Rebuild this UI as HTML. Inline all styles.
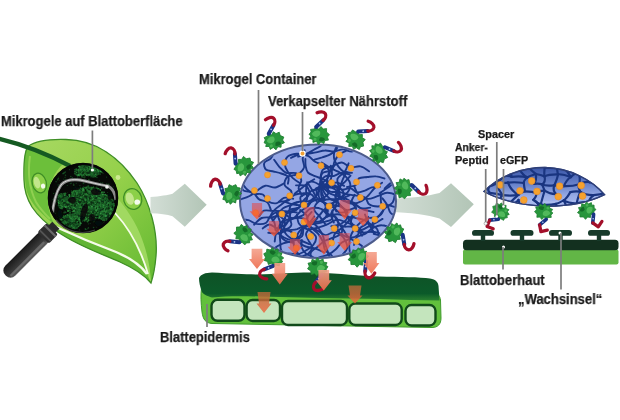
<!DOCTYPE html>
<html><head><meta charset="utf-8"><style>
html,body{margin:0;padding:0;background:#fff;width:620px;height:420px;overflow:hidden}
#c{position:relative;width:620px;height:420px;filter:blur(0.55px)}
svg{position:absolute;left:0;top:0}
.l{position:absolute;font-family:"Liberation Sans",sans-serif;font-weight:bold;color:#1a1a1a;white-space:nowrap;line-height:1;transform-origin:0 0;-webkit-text-stroke:0.25px #1a1a1a;will-change:transform}
</style></head><body><div id="c"><svg width="620" height="420" viewBox="0 0 620 420">
<defs>
 <linearGradient id="leafG" x1="0" y1="0" x2="1" y2="1">
  <stop offset="0" stop-color="#a8d862"/>
  <stop offset="0.5" stop-color="#94d04a"/>
  <stop offset="1" stop-color="#62b830"/>
 </linearGradient>
 <linearGradient id="leafD" x1="0" y1="0" x2="1" y2="1">
  <stop offset="0" stop-color="#86c840"/>
  <stop offset="1" stop-color="#4fa828"/>
 </linearGradient>
 <linearGradient id="arrG" x1="0" y1="0" x2="1" y2="0">
  <stop offset="0" stop-color="#d3ded6"/>
  <stop offset="1" stop-color="#b2c5b6"/>
 </linearGradient>
 <linearGradient id="handleG" x1="0" y1="0" x2="0" y2="1">
  <stop offset="0" stop-color="#606060"/>
  <stop offset="0.35" stop-color="#3a3a3a"/>
  <stop offset="1" stop-color="#1a1a1a"/>
 </linearGradient>
 <linearGradient id="redA" x1="0" y1="0" x2="0" y2="1">
  <stop offset="0" stop-color="#f4a08a"/>
  <stop offset="1" stop-color="#ee6a4a"/>
 </linearGradient>
 <linearGradient id="redB" x1="0" y1="0" x2="0" y2="1">
  <stop offset="0" stop-color="#e04a50" stop-opacity="0.7"/>
  <stop offset="1" stop-color="#ff5426" stop-opacity="1"/>
 </linearGradient>
 <linearGradient id="orgA" x1="0" y1="0" x2="0" y2="1">
  <stop offset="0" stop-color="#b86a3a"/>
  <stop offset="1" stop-color="#f0603a"/>
 </linearGradient>
 <linearGradient id="darkL" x1="0" y1="0" x2="0" y2="1">
  <stop offset="0" stop-color="#0f5226"/>
  <stop offset="0.75" stop-color="#0b5a2a"/>
  <stop offset="1" stop-color="#2a8030"/>
 </linearGradient>
 <radialGradient id="dropG" cx="0.4" cy="0.4" r="0.6">
  <stop offset="0" stop-color="#eaf7c0"/>
  <stop offset="0.6" stop-color="#9cd85a"/>
  <stop offset="1" stop-color="#5aa82a"/>
 </radialGradient>
 <filter id="soft" x="-10%" y="-10%" width="120%" height="120%"><feGaussianBlur stdDeviation="0.7"/></filter>
 <clipPath id="magClip"><circle cx="83" cy="198" r="33.5"/></clipPath>
 <linearGradient id="lensG" x1="0" y1="0" x2="0" y2="1">
  <stop offset="0" stop-color="#3a56a8"/>
  <stop offset="0.45" stop-color="#6a84cc"/>
  <stop offset="0.75" stop-color="#98ace6"/>
  <stop offset="1" stop-color="#a8b8ee"/>
 </linearGradient>
 <clipPath id="sphClip"><ellipse cx="318" cy="201.2" rx="77" ry="55.8"/></clipPath>
 <clipPath id="lensClip"><path d="M484,191.5 C500,175 523,167.5 545,167.5 C570,168 592,180 604.5,194.7 C590,202 570,206.5 545,206.2 C520,205.5 497,199 484,191.5 Z"/></clipPath>
</defs>
<path d="M24,180 C23.5,163 24,152 28,146.5 C36,140.5 50,139 66,139.5 C96,140 120,158 137,183 C150,203 158,232 156,256 C155,268 153,277 151,283 C146,277 138,270 120,262 C100,253 78,246 58,232 C48,225 38,216 32,207 C27,199 24.2,190 24,180 Z" fill="url(#leafG)"/><path d="M26,148.5 C38,151.5 52,157 64,163 C54,172 48,186 48,198 C48,208 50,216 54,224 C44,216 32,206 27,192 C24,180 24,162 26,150 Z" fill="#6cbf3a"/><path d="M30,156 C28,170 29,188 36,202 C40,209 45,214 50,219" stroke="#9ad458" stroke-width="2" fill="none" opacity="0.8"/><path d="M54,226 C78,238 100,246 116,252 C128,257 140,264 151,283 C146,277 138,270 120,262 C100,253 78,246 58,232 Z" fill="#62b534"/><path d="M114,213 C128,228 140,250 148,276 L151,283 C150,258 142,232 128,212 C124,206 119,200 116,196 Z" fill="#a6dc66" opacity="0.85"/><path d="M115,213 C129,228 141,250 148,274" stroke="#f6fcea" stroke-width="1.8" fill="none"/><path d="M56,227 C80,238 100,246 116,252 C128,257 139,263 147,274" stroke="#f6fcea" stroke-width="2.4" fill="none"/><path d="M24,180 C23.5,163 24,152 28,146.5 C36,140.5 50,139 66,139.5 C96,140 120,158 137,183 C150,203 158,232 156,256 C155,268 153,277 151,283 C146,277 138,270 120,262 C100,253 78,246 58,232 C48,225 38,216 32,207 C27,199 24.2,190 24,180 Z" fill="none" stroke="#3f8f26" stroke-width="1.3"/><path d="M-2,138.5 C15,142.5 42,151 70,166" stroke="#155a22" stroke-width="4.4" fill="none"/><g transform="rotate(-15 39.3 183)"><ellipse cx="39.3" cy="183" rx="7" ry="10" fill="#8cd048" stroke="#3f8e26" stroke-width="1.3"/><ellipse cx="37.2" cy="182" rx="3.1" ry="6" fill="#d8f0a8" opacity="0.7"/><ellipse cx="42.1" cy="187" rx="2.2" ry="2.5" fill="#ffffff" opacity="0.9"/></g><g transform="rotate(-15 132.7 199)"><ellipse cx="132.7" cy="199" rx="9" ry="10.5" fill="#8cd048" stroke="#3f8e26" stroke-width="1.3"/><ellipse cx="130" cy="197.9" rx="4" ry="6.3" fill="#d8f0a8" opacity="0.7"/><ellipse cx="136.3" cy="203.2" rx="2.9" ry="2.6" fill="#ffffff" opacity="0.9"/></g><circle cx="118" cy="177.5" r="2.4" fill="#d9f0a0" opacity="0.8"/><g transform="translate(53,228) rotate(135)"><rect x="-4" y="-5" width="8" height="10" fill="#2a2a2a"/><rect x="9" y="-7" width="58" height="14" rx="6.5" fill="url(#handleG)"/><rect x="1" y="-8" width="13" height="16" rx="2" fill="#2e2e2e"/><rect x="3" y="-8" width="2.2" height="16" fill="#6a6a6a"/><rect x="10" y="-8" width="1.8" height="16" fill="#555"/><rect x="16" y="-5" width="48" height="2.4" rx="1" fill="#8a8a8a" opacity="0.5"/></g><circle cx="83" cy="198" r="35" fill="#070907"/><g clip-path="url(#magClip)"><g filter="url(#soft)"><ellipse cx="88" cy="171" rx="10.4" ry="4.800000000000001" transform="rotate(-5 88 171)" fill="#0d3014"/><ellipse cx="88" cy="204" rx="16.0" ry="12.8" transform="rotate(0 88 204)" fill="#0d3014"/><ellipse cx="70" cy="222" rx="8.0" ry="5.6000000000000005" transform="rotate(20 70 222)" fill="#0d3014"/><ellipse cx="106" cy="208" rx="6.4" ry="9.600000000000001" transform="rotate(0 106 208)" fill="#0d3014"/><ellipse cx="63" cy="201" rx="4.0" ry="6.4" transform="rotate(0 63 201)" fill="#0d3014"/><circle cx="94" cy="175.7" r="0.7" fill="#1a5c26"/><circle cx="95.9" cy="165.5" r="1.1" fill="#145422"/><circle cx="77.9" cy="170.6" r="1.1" fill="#1d6a2a"/><circle cx="101.8" cy="171.6" r="0.5" fill="#145422"/><circle cx="89.9" cy="167.9" r="1" fill="#1d6a2a"/><circle cx="74.8" cy="173.5" r="0.9" fill="#145422"/><circle cx="96" cy="171.8" r="1" fill="#145422"/><circle cx="79.8" cy="165.9" r="0.6" fill="#277c32"/><circle cx="90.1" cy="168.9" r="0.8" fill="#277c32"/><circle cx="80.1" cy="169.8" r="0.6" fill="#145422"/><circle cx="83" cy="167.1" r="0.6" fill="#1d6a2a"/><circle cx="91.8" cy="176.1" r="1" fill="#1a5c26"/><circle cx="88.9" cy="166" r="0.5" fill="#1a5c26"/><circle cx="78.1" cy="169.2" r="0.6" fill="#145422"/><circle cx="99.9" cy="168.1" r="0.7" fill="#145422"/><circle cx="97.7" cy="169.7" r="1.2" fill="#309040"/><circle cx="86.2" cy="171.7" r="0.6" fill="#277c32"/><circle cx="85" cy="164.6" r="0.8" fill="#277c32"/><circle cx="76.2" cy="169.2" r="0.9" fill="#1d6a2a"/><circle cx="82.1" cy="176.9" r="0.6" fill="#277c32"/><circle cx="92.1" cy="174.4" r="0.7" fill="#309040"/><circle cx="81.5" cy="168.9" r="0.6" fill="#277c32"/><circle cx="93.3" cy="169.7" r="0.8" fill="#145422"/><circle cx="83.2" cy="166" r="1.2" fill="#1a5c26"/><circle cx="76.1" cy="174.6" r="0.9" fill="#1a5c26"/><circle cx="95.4" cy="167.9" r="1" fill="#145422"/><circle cx="94.5" cy="169.7" r="0.5" fill="#0a2a12"/><circle cx="92.3" cy="165.5" r="0.5" fill="#145422"/><circle cx="84.9" cy="176.9" r="0.7" fill="#1a5c26"/><circle cx="82.8" cy="172.3" r="1.1" fill="#277c32"/><circle cx="84.7" cy="169" r="1" fill="#1d6a2a"/><circle cx="80.9" cy="171.4" r="0.9" fill="#1a5c26"/><circle cx="87.7" cy="169.9" r="1.1" fill="#1d6a2a"/><circle cx="84.3" cy="172.9" r="0.9" fill="#309040"/><circle cx="78.3" cy="173.3" r="0.7" fill="#145422"/><circle cx="80.7" cy="170.3" r="0.5" fill="#1a5c26"/><circle cx="82.5" cy="165.1" r="0.7" fill="#277c32"/><circle cx="84.7" cy="173.9" r="0.8" fill="#0a2a12"/><circle cx="82.9" cy="165.8" r="0.6" fill="#1d6a2a"/><circle cx="91.6" cy="172.1" r="0.9" fill="#277c32"/><circle cx="88.9" cy="169.3" r="1" fill="#277c32"/><circle cx="95.3" cy="174.5" r="0.8" fill="#309040"/><circle cx="96.6" cy="167.6" r="0.6" fill="#1d6a2a"/><circle cx="79.3" cy="174.9" r="1" fill="#0a2a12"/><circle cx="79.9" cy="168.2" r="1" fill="#1a5c26"/><circle cx="88.3" cy="170.4" r="1.1" fill="#145422"/><circle cx="79.4" cy="174" r="0.7" fill="#1a5c26"/><circle cx="98.8" cy="169.8" r="0.5" fill="#1a5c26"/><circle cx="81.9" cy="173.4" r="1.1" fill="#309040"/><circle cx="91.3" cy="166.6" r="0.6" fill="#0a2a12"/><circle cx="79.8" cy="168.2" r="0.7" fill="#1a5c26"/><circle cx="80.3" cy="170.6" r="0.9" fill="#0a2a12"/><circle cx="84.6" cy="170.4" r="1.2" fill="#309040"/><circle cx="83" cy="173.9" r="0.6" fill="#145422"/><circle cx="91.4" cy="171.8" r="0.9" fill="#145422"/><circle cx="99.1" cy="169.2" r="0.8" fill="#1a5c26"/><circle cx="79.1" cy="170.5" r="0.5" fill="#145422"/><circle cx="99.5" cy="171.8" r="0.7" fill="#277c32"/><circle cx="84.3" cy="165.3" r="0.8" fill="#1a5c26"/><circle cx="90.7" cy="167" r="0.8" fill="#309040"/><circle cx="78.5" cy="166.2" r="0.5" fill="#277c32"/><circle cx="92.1" cy="174.6" r="1.1" fill="#0a2a12"/><circle cx="90.1" cy="165.9" r="1" fill="#0a2a12"/><circle cx="95.6" cy="166.7" r="0.7" fill="#1a5c26"/><circle cx="78" cy="171.5" r="0.9" fill="#309040"/><circle cx="94.4" cy="165.2" r="0.6" fill="#277c32"/><circle cx="92" cy="176.9" r="0.6" fill="#1a5c26"/><circle cx="84.2" cy="170.4" r="0.9" fill="#309040"/><circle cx="79.3" cy="175" r="1.2" fill="#277c32"/><circle cx="92.7" cy="174.8" r="0.7" fill="#1a5c26"/><circle cx="80.6" cy="166.8" r="0.6" fill="#309040"/><circle cx="98.1" cy="171.8" r="1.1" fill="#1d6a2a"/><circle cx="81" cy="170.9" r="0.7" fill="#1a5c26"/><circle cx="77.9" cy="175.4" r="0.8" fill="#145422"/><circle cx="76.7" cy="172.3" r="0.6" fill="#1a5c26"/><circle cx="82.4" cy="173.3" r="1.2" fill="#1d6a2a"/><circle cx="89.8" cy="174.8" r="1.2" fill="#1a5c26"/><circle cx="87.4" cy="170.1" r="0.9" fill="#0a2a12"/><circle cx="80.4" cy="173.6" r="0.7" fill="#145422"/><circle cx="98.5" cy="171.2" r="1.2" fill="#277c32"/><circle cx="91.2" cy="174.7" r="0.8" fill="#277c32"/><circle cx="96.4" cy="175.4" r="0.9" fill="#145422"/><circle cx="93.9" cy="171.9" r="1.1" fill="#145422"/><circle cx="88.4" cy="176" r="1.1" fill="#0a2a12"/><circle cx="89.4" cy="170.4" r="0.6" fill="#0a2a12"/><circle cx="76" cy="173.4" r="0.6" fill="#1a5c26"/><circle cx="100" cy="173.2" r="0.9" fill="#0a2a12"/><circle cx="76.2" cy="171.3" r="0.7" fill="#1a5c26"/><circle cx="86.9" cy="174.9" r="0.9" fill="#309040"/><circle cx="100.8" cy="171.3" r="0.5" fill="#1a5c26"/><circle cx="76.3" cy="170.6" r="0.8" fill="#1d6a2a"/><circle cx="84.5" cy="173.1" r="0.8" fill="#0a2a12"/><circle cx="83.1" cy="166.2" r="0.5" fill="#1d6a2a"/><circle cx="88.9" cy="174.9" r="0.8" fill="#309040"/><circle cx="83.6" cy="165.8" r="0.8" fill="#0a2a12"/><circle cx="85" cy="173.8" r="0.5" fill="#0a2a12"/><circle cx="81.7" cy="174.9" r="0.9" fill="#1a5c26"/><circle cx="96.6" cy="171.5" r="0.6" fill="#145422"/><circle cx="95.6" cy="166.2" r="1" fill="#309040"/><circle cx="90.6" cy="176.7" r="0.9" fill="#0a2a12"/><circle cx="99.8" cy="167.5" r="0.6" fill="#145422"/><circle cx="76.4" cy="172.2" r="0.5" fill="#309040"/><circle cx="81.3" cy="175.1" r="0.5" fill="#0a2a12"/><circle cx="79.2" cy="175" r="1.2" fill="#1d6a2a"/><circle cx="74.9" cy="169.6" r="0.7" fill="#1d6a2a"/><circle cx="80.4" cy="170.7" r="1" fill="#145422"/><circle cx="94.4" cy="168.3" r="0.7" fill="#277c32"/><circle cx="81.1" cy="168.7" r="1.1" fill="#1a5c26"/><circle cx="84.6" cy="172.8" r="1.1" fill="#277c32"/><circle cx="99.9" cy="169.4" r="1" fill="#1a5c26"/><circle cx="87.7" cy="168" r="0.9" fill="#0a2a12"/><circle cx="96.1" cy="168.1" r="0.6" fill="#277c32"/><circle cx="82.1" cy="166.6" r="1" fill="#145422"/><circle cx="88.1" cy="165.7" r="0.6" fill="#309040"/><circle cx="91.1" cy="168.2" r="0.7" fill="#145422"/><circle cx="78.6" cy="169.9" r="1.1" fill="#277c32"/><circle cx="83.1" cy="174.8" r="1" fill="#309040"/><circle cx="86.3" cy="164.5" r="0.6" fill="#145422"/><circle cx="100.3" cy="172.2" r="0.7" fill="#0a2a12"/><circle cx="92.8" cy="167.1" r="0.7" fill="#145422"/><circle cx="86.7" cy="165.1" r="1" fill="#145422"/><circle cx="101.5" cy="172.1" r="0.8" fill="#1d6a2a"/><circle cx="79.3" cy="172" r="0.8" fill="#1a5c26"/><circle cx="87.3" cy="169.3" r="1" fill="#309040"/><circle cx="82.9" cy="173.3" r="1.1" fill="#145422"/><circle cx="93.7" cy="169.7" r="1.1" fill="#309040"/><circle cx="95" cy="172.7" r="0.6" fill="#1a5c26"/><circle cx="88.1" cy="164.6" r="1" fill="#277c32"/><circle cx="86.1" cy="174" r="0.6" fill="#1d6a2a"/><circle cx="89.3" cy="166.4" r="1" fill="#277c32"/><circle cx="82.1" cy="175.6" r="0.5" fill="#309040"/><circle cx="92.2" cy="168.1" r="1" fill="#309040"/><circle cx="83.7" cy="172.2" r="1" fill="#0a2a12"/><circle cx="100.1" cy="171.7" r="1" fill="#0a2a12"/><circle cx="77.5" cy="171.4" r="0.8" fill="#0a2a12"/><circle cx="80.5" cy="167" r="0.6" fill="#309040"/><circle cx="80.2" cy="173.5" r="0.8" fill="#1a5c26"/><circle cx="81.3" cy="170.7" r="0.5" fill="#1d6a2a"/><circle cx="82" cy="167.5" r="1" fill="#1d6a2a"/><circle cx="98.1" cy="167.7" r="0.8" fill="#309040"/><circle cx="94.5" cy="176.1" r="1" fill="#309040"/><circle cx="83.7" cy="177.2" r="0.6" fill="#145422"/><circle cx="94.5" cy="175.3" r="0.7" fill="#1d6a2a"/><circle cx="96" cy="174.1" r="0.9" fill="#277c32"/><circle cx="91.6" cy="172.6" r="1" fill="#1a5c26"/><circle cx="84" cy="170.5" r="0.7" fill="#1d6a2a"/><circle cx="81.6" cy="169.6" r="0.9" fill="#145422"/><circle cx="92.3" cy="166.7" r="1.1" fill="#1a5c26"/><circle cx="76.7" cy="174.8" r="0.8" fill="#1a5c26"/><circle cx="88.6" cy="169.8" r="0.5" fill="#145422"/><circle cx="77.4" cy="174.4" r="0.6" fill="#145422"/><circle cx="91.6" cy="170.2" r="1" fill="#309040"/><circle cx="86" cy="166.3" r="0.7" fill="#1d6a2a"/><circle cx="81.1" cy="174.3" r="0.8" fill="#309040"/><circle cx="89" cy="169.6" r="0.9" fill="#309040"/><circle cx="75.1" cy="171.5" r="1" fill="#1d6a2a"/><circle cx="92.7" cy="174" r="0.7" fill="#277c32"/><circle cx="82" cy="165.4" r="0.8" fill="#277c32"/><circle cx="94.2" cy="167.8" r="0.6" fill="#1a5c26"/><circle cx="94.6" cy="170.5" r="1" fill="#309040"/><circle cx="98.8" cy="172.5" r="0.7" fill="#0a2a12"/><circle cx="93.3" cy="176.8" r="0.9" fill="#145422"/><circle cx="91.5" cy="173.6" r="1.1" fill="#1d6a2a"/><circle cx="81.9" cy="175.6" r="1.1" fill="#1d6a2a"/><circle cx="95" cy="170.3" r="0.9" fill="#309040"/><circle cx="82.6" cy="173.5" r="1.1" fill="#0a2a12"/><circle cx="91.6" cy="174.6" r="0.7" fill="#1d6a2a"/><circle cx="98.2" cy="167.2" r="0.7" fill="#1d6a2a"/><circle cx="88" cy="165.5" r="1.2" fill="#1a5c26"/><circle cx="93.1" cy="168.7" r="0.7" fill="#309040"/><circle cx="77.7" cy="175.5" r="1" fill="#1d6a2a"/><circle cx="98.7" cy="171.9" r="0.6" fill="#309040"/><circle cx="100.5" cy="170.4" r="1.1" fill="#1d6a2a"/><circle cx="97.4" cy="166.5" r="1.2" fill="#145422"/><circle cx="76" cy="171" r="0.6" fill="#0a2a12"/><circle cx="94.8" cy="176.4" r="1" fill="#145422"/><circle cx="86.6" cy="173.3" r="0.5" fill="#145422"/><circle cx="85.1" cy="165.4" r="0.8" fill="#1d6a2a"/><circle cx="88.3" cy="169.6" r="0.7" fill="#1a5c26"/><circle cx="92.9" cy="175.5" r="0.8" fill="#1a5c26"/><circle cx="85.8" cy="166.9" r="1.2" fill="#145422"/><circle cx="80.9" cy="169.8" r="1" fill="#277c32"/><circle cx="95.2" cy="165.4" r="0.8" fill="#309040"/><circle cx="99.2" cy="167.6" r="1.1" fill="#309040"/><circle cx="93.6" cy="173.9" r="0.7" fill="#1a5c26"/><circle cx="79.3" cy="166.6" r="1.1" fill="#309040"/><circle cx="95.4" cy="176.5" r="0.6" fill="#277c32"/><circle cx="84.3" cy="173.5" r="0.5" fill="#277c32"/><circle cx="96" cy="171.7" r="0.9" fill="#1a5c26"/><circle cx="95.7" cy="166.1" r="1" fill="#0a2a12"/><circle cx="83" cy="169.2" r="1.2" fill="#1d6a2a"/><circle cx="85.4" cy="174.1" r="1" fill="#1d6a2a"/><circle cx="78.5" cy="174.9" r="1" fill="#309040"/><circle cx="87.1" cy="167.8" r="0.7" fill="#309040"/><circle cx="93.4" cy="165.8" r="1.2" fill="#1d6a2a"/><circle cx="100.1" cy="174.3" r="0.8" fill="#145422"/><circle cx="83.5" cy="165.5" r="1" fill="#1d6a2a"/><circle cx="85" cy="171.6" r="1.1" fill="#145422"/><circle cx="98.4" cy="173.8" r="1.1" fill="#145422"/><circle cx="99.8" cy="168.6" r="0.9" fill="#277c32"/><circle cx="100.5" cy="171.3" r="0.9" fill="#309040"/><circle cx="87.9" cy="170.7" r="1.1" fill="#277c32"/><circle cx="109.5" cy="202.5" r="0.9" fill="#277c32"/><circle cx="76.8" cy="214.4" r="1.1" fill="#145422"/><circle cx="76.7" cy="204.7" r="0.7" fill="#0a2a12"/><circle cx="88.9" cy="195.7" r="1.1" fill="#277c32"/><circle cx="101.2" cy="217.1" r="0.7" fill="#1a5c26"/><circle cx="87" cy="214.4" r="1" fill="#0a2a12"/><circle cx="77.4" cy="213.3" r="0.9" fill="#277c32"/><circle cx="99.4" cy="196.3" r="0.7" fill="#145422"/><circle cx="97.3" cy="191.8" r="0.7" fill="#145422"/><circle cx="93.6" cy="216.5" r="0.9" fill="#309040"/><circle cx="87.5" cy="191.1" r="0.9" fill="#1d6a2a"/><circle cx="98.2" cy="200" r="0.6" fill="#1a5c26"/><circle cx="67.2" cy="199.6" r="0.6" fill="#1d6a2a"/><circle cx="86.1" cy="195.1" r="0.8" fill="#145422"/><circle cx="77.3" cy="202.1" r="0.6" fill="#309040"/><circle cx="72.4" cy="194.3" r="1.1" fill="#277c32"/><circle cx="82.9" cy="202.3" r="0.6" fill="#0a2a12"/><circle cx="107.3" cy="205.1" r="1.2" fill="#0a2a12"/><circle cx="90.1" cy="195.6" r="1" fill="#145422"/><circle cx="108.2" cy="203.6" r="0.7" fill="#145422"/><circle cx="82.9" cy="193.2" r="1" fill="#277c32"/><circle cx="101.9" cy="201.8" r="1" fill="#1a5c26"/><circle cx="86.7" cy="218.9" r="1.1" fill="#1a5c26"/><circle cx="71.2" cy="204.7" r="0.5" fill="#1d6a2a"/><circle cx="79.3" cy="212.2" r="0.9" fill="#309040"/><circle cx="76.7" cy="203.2" r="1.2" fill="#1d6a2a"/><circle cx="88.9" cy="211.5" r="1" fill="#309040"/><circle cx="95.6" cy="200" r="0.6" fill="#0a2a12"/><circle cx="72.6" cy="195.6" r="0.9" fill="#1a5c26"/><circle cx="92.9" cy="204.8" r="0.8" fill="#1a5c26"/><circle cx="98.8" cy="193.5" r="1.2" fill="#1d6a2a"/><circle cx="79.3" cy="210.8" r="1.2" fill="#277c32"/><circle cx="100.9" cy="217.5" r="1" fill="#145422"/><circle cx="74.8" cy="207.6" r="0.7" fill="#145422"/><circle cx="83.3" cy="197" r="1.1" fill="#0a2a12"/><circle cx="105.7" cy="214.2" r="0.6" fill="#277c32"/><circle cx="75" cy="213.7" r="0.8" fill="#0a2a12"/><circle cx="86.6" cy="194.9" r="1.1" fill="#1a5c26"/><circle cx="106.2" cy="209.1" r="0.9" fill="#0a2a12"/><circle cx="97.5" cy="214.1" r="0.7" fill="#277c32"/><circle cx="99.2" cy="210.6" r="0.8" fill="#1a5c26"/><circle cx="76.4" cy="205.2" r="1.1" fill="#0a2a12"/><circle cx="73" cy="211.5" r="1" fill="#277c32"/><circle cx="87" cy="190.7" r="0.8" fill="#1d6a2a"/><circle cx="85.3" cy="219.5" r="0.7" fill="#145422"/><circle cx="105.5" cy="198.4" r="0.8" fill="#145422"/><circle cx="76.3" cy="218.3" r="0.7" fill="#1d6a2a"/><circle cx="94.4" cy="196.1" r="1" fill="#309040"/><circle cx="105.2" cy="206.3" r="0.5" fill="#309040"/><circle cx="99.5" cy="212.4" r="0.8" fill="#1a5c26"/><circle cx="93.4" cy="187.2" r="0.8" fill="#309040"/><circle cx="82" cy="203.2" r="0.6" fill="#1d6a2a"/><circle cx="88" cy="199.1" r="0.9" fill="#309040"/><circle cx="66.8" cy="200.8" r="0.8" fill="#0a2a12"/><circle cx="100.4" cy="211.8" r="0.6" fill="#1d6a2a"/><circle cx="72.2" cy="192.4" r="1.2" fill="#1a5c26"/><circle cx="73.8" cy="204.5" r="0.7" fill="#1d6a2a"/><circle cx="89.2" cy="201.8" r="1" fill="#1a5c26"/><circle cx="104.1" cy="208.3" r="1" fill="#0a2a12"/><circle cx="90.4" cy="209.5" r="0.7" fill="#145422"/><circle cx="102" cy="211.4" r="1.1" fill="#309040"/><circle cx="88.3" cy="200.7" r="1.1" fill="#1d6a2a"/><circle cx="92.2" cy="193.1" r="0.8" fill="#277c32"/><circle cx="70.4" cy="206" r="0.5" fill="#277c32"/><circle cx="91.1" cy="202" r="0.9" fill="#145422"/><circle cx="77.5" cy="198.7" r="0.8" fill="#1a5c26"/><circle cx="88.2" cy="199" r="1.1" fill="#309040"/><circle cx="83.6" cy="195.7" r="0.7" fill="#309040"/><circle cx="86.5" cy="197.7" r="1.1" fill="#0a2a12"/><circle cx="69.8" cy="197.3" r="1.1" fill="#0a2a12"/><circle cx="75.8" cy="212.2" r="1.2" fill="#277c32"/><circle cx="86.9" cy="218.6" r="1.1" fill="#277c32"/><circle cx="79.3" cy="213.9" r="0.5" fill="#309040"/><circle cx="106.6" cy="201.1" r="0.7" fill="#309040"/><circle cx="82.8" cy="196.9" r="1.1" fill="#1d6a2a"/><circle cx="83.4" cy="190.5" r="1.2" fill="#145422"/><circle cx="96.2" cy="215" r="1.2" fill="#145422"/><circle cx="93.5" cy="202.3" r="0.7" fill="#1d6a2a"/><circle cx="105.1" cy="207.5" r="0.9" fill="#1a5c26"/><circle cx="70.6" cy="205.9" r="0.6" fill="#1d6a2a"/><circle cx="77.8" cy="213.1" r="1.1" fill="#277c32"/><circle cx="96.9" cy="211.6" r="1" fill="#145422"/><circle cx="85.5" cy="214.4" r="0.6" fill="#309040"/><circle cx="92" cy="197.2" r="1.1" fill="#309040"/><circle cx="107.1" cy="207.2" r="0.9" fill="#1d6a2a"/><circle cx="77" cy="193.9" r="0.7" fill="#145422"/><circle cx="77.6" cy="198.1" r="0.5" fill="#0a2a12"/><circle cx="74.9" cy="195.8" r="0.6" fill="#145422"/><circle cx="81.1" cy="193.5" r="0.6" fill="#0a2a12"/><circle cx="102.2" cy="201.5" r="1" fill="#1a5c26"/><circle cx="100.3" cy="217.2" r="0.9" fill="#0a2a12"/><circle cx="83.9" cy="209.1" r="1.2" fill="#0a2a12"/><circle cx="77.9" cy="208" r="0.7" fill="#277c32"/><circle cx="98.9" cy="205" r="1.1" fill="#145422"/><circle cx="92.9" cy="213.3" r="1" fill="#145422"/><circle cx="82.8" cy="210.1" r="1.1" fill="#1a5c26"/><circle cx="75.5" cy="216.4" r="1.1" fill="#1d6a2a"/><circle cx="66.3" cy="202.7" r="1" fill="#1d6a2a"/><circle cx="70.9" cy="204.8" r="0.6" fill="#145422"/><circle cx="82.8" cy="209.4" r="1" fill="#145422"/><circle cx="98.3" cy="193.9" r="0.8" fill="#145422"/><circle cx="84.1" cy="211.2" r="0.9" fill="#309040"/><circle cx="94.6" cy="192.5" r="0.8" fill="#309040"/><circle cx="79.3" cy="189.9" r="0.9" fill="#0a2a12"/><circle cx="96.9" cy="217.6" r="0.7" fill="#145422"/><circle cx="102.4" cy="214.1" r="1" fill="#1d6a2a"/><circle cx="87.4" cy="200.9" r="1" fill="#1d6a2a"/><circle cx="93.2" cy="201.9" r="1" fill="#0a2a12"/><circle cx="93.4" cy="210.7" r="0.5" fill="#145422"/><circle cx="106.3" cy="211.9" r="0.8" fill="#145422"/><circle cx="102.9" cy="206.7" r="1.1" fill="#145422"/><circle cx="94.2" cy="218.7" r="1.2" fill="#277c32"/><circle cx="71.8" cy="198.3" r="0.6" fill="#309040"/><circle cx="94.3" cy="218.7" r="1" fill="#1a5c26"/><circle cx="98.3" cy="194.5" r="0.6" fill="#309040"/><circle cx="79.4" cy="212.7" r="0.9" fill="#1a5c26"/><circle cx="89.7" cy="191.1" r="0.7" fill="#145422"/><circle cx="78.9" cy="195" r="0.6" fill="#277c32"/><circle cx="102.1" cy="195.7" r="1.1" fill="#145422"/><circle cx="83.3" cy="218.4" r="0.7" fill="#0a2a12"/><circle cx="84.3" cy="191.5" r="0.9" fill="#277c32"/><circle cx="98.2" cy="205.9" r="1" fill="#309040"/><circle cx="102.5" cy="192.6" r="0.5" fill="#309040"/><circle cx="100.8" cy="203.3" r="0.5" fill="#145422"/><circle cx="102.5" cy="195" r="1.1" fill="#1d6a2a"/><circle cx="79.6" cy="213.6" r="0.6" fill="#277c32"/><circle cx="95.7" cy="206.5" r="0.6" fill="#1d6a2a"/><circle cx="102.7" cy="197.1" r="0.9" fill="#145422"/><circle cx="87" cy="217.2" r="0.6" fill="#1d6a2a"/><circle cx="101.1" cy="202.4" r="0.6" fill="#145422"/><circle cx="92.4" cy="190.3" r="0.7" fill="#277c32"/><circle cx="89.9" cy="216.4" r="0.6" fill="#309040"/><circle cx="83.7" cy="219.8" r="0.8" fill="#1d6a2a"/><circle cx="89.5" cy="192.5" r="0.5" fill="#145422"/><circle cx="101.3" cy="192.5" r="0.6" fill="#309040"/><circle cx="76" cy="195.3" r="0.6" fill="#1a5c26"/><circle cx="73.9" cy="192.2" r="0.6" fill="#1d6a2a"/><circle cx="92.4" cy="192.7" r="0.8" fill="#1a5c26"/><circle cx="106.9" cy="195.8" r="0.9" fill="#309040"/><circle cx="86.9" cy="211.7" r="1" fill="#1a5c26"/><circle cx="89.2" cy="204.4" r="0.7" fill="#0a2a12"/><circle cx="102.5" cy="207.1" r="0.9" fill="#277c32"/><circle cx="80.4" cy="215" r="1.1" fill="#0a2a12"/><circle cx="95.2" cy="209.8" r="1.1" fill="#0a2a12"/><circle cx="106.7" cy="204.4" r="1.2" fill="#1a5c26"/><circle cx="108" cy="198.7" r="0.8" fill="#1d6a2a"/><circle cx="109.1" cy="203.3" r="0.9" fill="#0a2a12"/><circle cx="66.7" cy="207.4" r="1.1" fill="#145422"/><circle cx="84.7" cy="220.6" r="1.1" fill="#1d6a2a"/><circle cx="101.8" cy="217.3" r="1.1" fill="#309040"/><circle cx="93.5" cy="214.1" r="0.8" fill="#0a2a12"/><circle cx="104.1" cy="206.4" r="0.8" fill="#1d6a2a"/><circle cx="94.8" cy="193.6" r="0.6" fill="#309040"/><circle cx="67.6" cy="208.6" r="1.2" fill="#0a2a12"/><circle cx="71.8" cy="195.7" r="0.6" fill="#1d6a2a"/><circle cx="92.5" cy="204.9" r="0.5" fill="#1a5c26"/><circle cx="93.3" cy="199.3" r="1.1" fill="#1a5c26"/><circle cx="95.3" cy="217.5" r="0.7" fill="#309040"/><circle cx="67" cy="199.4" r="1" fill="#1d6a2a"/><circle cx="93.5" cy="191.8" r="1" fill="#309040"/><circle cx="87.9" cy="203.6" r="0.9" fill="#277c32"/><circle cx="80.1" cy="188.7" r="0.8" fill="#145422"/><circle cx="100.9" cy="211.6" r="1.2" fill="#277c32"/><circle cx="78.6" cy="219" r="0.8" fill="#145422"/><circle cx="85.8" cy="212.1" r="0.7" fill="#277c32"/><circle cx="107.8" cy="205" r="0.5" fill="#277c32"/><circle cx="84.9" cy="192.4" r="1.2" fill="#0a2a12"/><circle cx="100" cy="198.4" r="0.8" fill="#145422"/><circle cx="68.8" cy="211" r="0.6" fill="#1d6a2a"/><circle cx="94.8" cy="202.1" r="0.9" fill="#1d6a2a"/><circle cx="82.4" cy="201.1" r="0.8" fill="#1d6a2a"/><circle cx="88.7" cy="218.9" r="1" fill="#277c32"/><circle cx="71.3" cy="211.2" r="0.5" fill="#145422"/><circle cx="95.8" cy="196.1" r="0.8" fill="#1a5c26"/><circle cx="90" cy="197.8" r="0.5" fill="#0a2a12"/><circle cx="68" cy="211" r="0.9" fill="#277c32"/><circle cx="95" cy="203.5" r="1.2" fill="#145422"/><circle cx="82.1" cy="205.6" r="0.5" fill="#145422"/><circle cx="77.1" cy="207" r="1" fill="#1d6a2a"/><circle cx="100.8" cy="213.1" r="1.1" fill="#1d6a2a"/><circle cx="86.1" cy="187.9" r="1" fill="#309040"/><circle cx="77.6" cy="202.6" r="0.5" fill="#277c32"/><circle cx="91.7" cy="195.1" r="0.9" fill="#1a5c26"/><circle cx="78.1" cy="206.1" r="1.1" fill="#1a5c26"/><circle cx="104.4" cy="200.7" r="1.1" fill="#1a5c26"/><circle cx="86.2" cy="216" r="1.1" fill="#1a5c26"/><circle cx="68.6" cy="198.7" r="0.6" fill="#1d6a2a"/><circle cx="84.7" cy="208.4" r="0.7" fill="#309040"/><circle cx="74.9" cy="211.2" r="0.6" fill="#0a2a12"/><circle cx="106.4" cy="195.6" r="0.9" fill="#1d6a2a"/><circle cx="74.6" cy="204.4" r="0.5" fill="#0a2a12"/><circle cx="105.1" cy="212.2" r="1" fill="#277c32"/><circle cx="83.1" cy="207.2" r="0.8" fill="#1a5c26"/><circle cx="72.3" cy="194.1" r="0.6" fill="#145422"/><circle cx="95.2" cy="206.2" r="0.7" fill="#0a2a12"/><circle cx="102.2" cy="192" r="0.7" fill="#1d6a2a"/><circle cx="84.1" cy="208.7" r="1.1" fill="#277c32"/><circle cx="97.1" cy="206.6" r="1.2" fill="#0a2a12"/><circle cx="98" cy="207.8" r="1" fill="#309040"/><circle cx="91.8" cy="200.2" r="1" fill="#145422"/><circle cx="95.2" cy="199.8" r="0.7" fill="#277c32"/><circle cx="93.7" cy="213.8" r="0.6" fill="#1a5c26"/><circle cx="76.3" cy="191.8" r="1.1" fill="#145422"/><circle cx="102.2" cy="217.3" r="0.6" fill="#309040"/><circle cx="108" cy="210" r="1" fill="#277c32"/><circle cx="96.6" cy="203.2" r="0.9" fill="#145422"/><circle cx="78.1" cy="190.9" r="0.9" fill="#309040"/><circle cx="107.9" cy="203.5" r="0.5" fill="#309040"/><circle cx="102.6" cy="208.5" r="0.5" fill="#277c32"/><circle cx="74.2" cy="208.6" r="0.8" fill="#1d6a2a"/><circle cx="88.8" cy="197.1" r="0.6" fill="#145422"/><circle cx="69" cy="201.5" r="0.9" fill="#309040"/><circle cx="67.6" cy="207.6" r="0.6" fill="#1a5c26"/><circle cx="78.2" cy="188.7" r="0.9" fill="#1a5c26"/><circle cx="84.9" cy="198.7" r="1.1" fill="#277c32"/><circle cx="89.1" cy="209.2" r="0.7" fill="#0a2a12"/><circle cx="86.9" cy="189.9" r="0.7" fill="#1a5c26"/><circle cx="97.3" cy="188.4" r="0.6" fill="#277c32"/><circle cx="96.1" cy="195.9" r="1.2" fill="#1d6a2a"/><circle cx="100.1" cy="201.4" r="0.6" fill="#0a2a12"/><circle cx="97" cy="215.3" r="0.5" fill="#309040"/><circle cx="85.7" cy="202.6" r="1.1" fill="#1a5c26"/><circle cx="75.9" cy="213.7" r="0.9" fill="#1a5c26"/><circle cx="101.4" cy="200" r="1" fill="#0a2a12"/><circle cx="87.9" cy="211.8" r="0.5" fill="#0a2a12"/><circle cx="87.1" cy="195.8" r="1.1" fill="#1a5c26"/><circle cx="94.9" cy="208.6" r="0.8" fill="#309040"/><circle cx="91.5" cy="192.6" r="0.8" fill="#1d6a2a"/><circle cx="88.6" cy="215" r="0.8" fill="#309040"/><circle cx="97.5" cy="212.3" r="0.7" fill="#1d6a2a"/><circle cx="100.6" cy="201" r="1.2" fill="#145422"/><circle cx="96.2" cy="188" r="0.8" fill="#0a2a12"/><circle cx="80.4" cy="205.9" r="1" fill="#0a2a12"/><circle cx="83.2" cy="201.3" r="0.5" fill="#1d6a2a"/><circle cx="73.4" cy="207.5" r="1" fill="#1d6a2a"/><circle cx="96.6" cy="200.1" r="1" fill="#145422"/><circle cx="87.1" cy="190.5" r="0.9" fill="#1a5c26"/><circle cx="97.8" cy="205.3" r="0.6" fill="#145422"/><circle cx="78.7" cy="195.3" r="0.7" fill="#145422"/><circle cx="85.7" cy="206.8" r="0.9" fill="#1d6a2a"/><circle cx="98.2" cy="210.1" r="0.7" fill="#145422"/><circle cx="79.7" cy="199.8" r="1.1" fill="#1a5c26"/><circle cx="88.4" cy="197.2" r="0.6" fill="#145422"/><circle cx="92.8" cy="191.2" r="1.1" fill="#0a2a12"/><circle cx="96.7" cy="217.7" r="1" fill="#145422"/><circle cx="74.2" cy="191.9" r="0.9" fill="#0a2a12"/><circle cx="77.6" cy="201.1" r="0.6" fill="#1a5c26"/><circle cx="68.3" cy="208" r="0.7" fill="#0a2a12"/><circle cx="101.7" cy="197.5" r="0.6" fill="#309040"/><circle cx="81" cy="188.6" r="1" fill="#0a2a12"/><circle cx="105.1" cy="199.8" r="1" fill="#1d6a2a"/><circle cx="98.2" cy="189.2" r="1.2" fill="#309040"/><circle cx="93" cy="192.6" r="0.9" fill="#277c32"/><circle cx="93.6" cy="201.5" r="1.1" fill="#1a5c26"/><circle cx="104.1" cy="195.4" r="1" fill="#145422"/><circle cx="74" cy="201" r="0.8" fill="#309040"/><circle cx="99.7" cy="207.3" r="0.9" fill="#0a2a12"/><circle cx="102.7" cy="217" r="0.8" fill="#1a5c26"/><circle cx="95.7" cy="193.9" r="1.1" fill="#1a5c26"/><circle cx="99.1" cy="197.3" r="0.9" fill="#0a2a12"/><circle cx="96.7" cy="206.1" r="0.7" fill="#309040"/><circle cx="92.6" cy="214" r="0.7" fill="#309040"/><circle cx="91.3" cy="193.5" r="1" fill="#1a5c26"/><circle cx="99.6" cy="215.3" r="0.9" fill="#277c32"/><circle cx="74.4" cy="191.8" r="0.9" fill="#145422"/><circle cx="93.4" cy="198.7" r="0.9" fill="#309040"/><circle cx="94.3" cy="217" r="0.7" fill="#145422"/><circle cx="85.7" cy="200" r="1.2" fill="#309040"/><circle cx="82.4" cy="215.4" r="0.7" fill="#145422"/><circle cx="85.4" cy="218.8" r="0.6" fill="#145422"/><circle cx="94.6" cy="215.8" r="0.6" fill="#1d6a2a"/><circle cx="90.2" cy="208.1" r="1" fill="#1a5c26"/><circle cx="72.9" cy="192.8" r="1.2" fill="#277c32"/><circle cx="88.4" cy="186.8" r="0.9" fill="#1d6a2a"/><circle cx="91.6" cy="219.1" r="0.6" fill="#1d6a2a"/><circle cx="78.7" cy="203.7" r="0.9" fill="#309040"/><circle cx="81.4" cy="207.3" r="1" fill="#1d6a2a"/><circle cx="95.6" cy="209.7" r="1" fill="#1d6a2a"/><circle cx="69.6" cy="196.7" r="0.9" fill="#309040"/><circle cx="78" cy="213.6" r="1" fill="#1d6a2a"/><circle cx="89.4" cy="187.8" r="0.5" fill="#309040"/><circle cx="78.3" cy="210.2" r="1" fill="#277c32"/><circle cx="84.4" cy="209.9" r="0.9" fill="#145422"/><circle cx="90.7" cy="217.9" r="0.8" fill="#309040"/><circle cx="83.6" cy="209.8" r="0.6" fill="#145422"/><circle cx="94.4" cy="203.6" r="1" fill="#1a5c26"/><circle cx="87.6" cy="198.1" r="1" fill="#1a5c26"/><circle cx="90.1" cy="187.8" r="1.1" fill="#1a5c26"/><circle cx="89.5" cy="204.9" r="0.9" fill="#0a2a12"/><circle cx="98.7" cy="208.4" r="0.7" fill="#309040"/><circle cx="89" cy="194" r="0.5" fill="#1a5c26"/><circle cx="108" cy="208.5" r="0.6" fill="#309040"/><circle cx="78.1" cy="205.1" r="0.9" fill="#0a2a12"/><circle cx="103.4" cy="207.9" r="0.5" fill="#1a5c26"/><circle cx="96" cy="192" r="0.8" fill="#1d6a2a"/><circle cx="87.9" cy="194.6" r="0.6" fill="#277c32"/><circle cx="67.4" cy="206.3" r="0.6" fill="#1a5c26"/><circle cx="105.7" cy="195.3" r="1" fill="#277c32"/><circle cx="74.7" cy="216.1" r="1" fill="#1a5c26"/><circle cx="91.6" cy="209" r="1.1" fill="#1a5c26"/><circle cx="69.6" cy="213.1" r="0.6" fill="#1a5c26"/><circle cx="98.2" cy="208" r="1" fill="#145422"/><circle cx="72.6" cy="209.4" r="0.8" fill="#145422"/><circle cx="79.9" cy="217.3" r="1.1" fill="#145422"/><circle cx="80.6" cy="206.8" r="1.1" fill="#277c32"/><circle cx="104.4" cy="214.5" r="1.2" fill="#1d6a2a"/><circle cx="102.5" cy="200.2" r="0.6" fill="#277c32"/><circle cx="74.6" cy="190.4" r="1.1" fill="#1d6a2a"/><circle cx="94.9" cy="212.6" r="1.1" fill="#1d6a2a"/><circle cx="85.4" cy="217.5" r="0.7" fill="#277c32"/><circle cx="72.1" cy="198.8" r="0.8" fill="#0a2a12"/><circle cx="93.1" cy="207.7" r="0.7" fill="#1d6a2a"/><circle cx="90.3" cy="201.8" r="0.6" fill="#145422"/><circle cx="106" cy="207.9" r="0.9" fill="#145422"/><circle cx="76.6" cy="194.2" r="1" fill="#277c32"/><circle cx="99.1" cy="217.5" r="0.6" fill="#277c32"/><circle cx="73.5" cy="191.6" r="1.2" fill="#1a5c26"/><circle cx="72" cy="208.8" r="0.6" fill="#309040"/><circle cx="80.8" cy="205.2" r="1.1" fill="#145422"/><circle cx="95" cy="188.3" r="0.7" fill="#1d6a2a"/><circle cx="90.5" cy="199.6" r="1.1" fill="#277c32"/><circle cx="71.8" cy="204.9" r="1" fill="#277c32"/><circle cx="69.8" cy="212.3" r="0.7" fill="#145422"/><circle cx="74.1" cy="216" r="1" fill="#277c32"/><circle cx="74.3" cy="196" r="0.9" fill="#145422"/><circle cx="94.9" cy="194.4" r="0.8" fill="#145422"/><circle cx="97.1" cy="203.2" r="0.9" fill="#0a2a12"/><circle cx="101.4" cy="211.7" r="1.2" fill="#1d6a2a"/><circle cx="87.1" cy="187.9" r="1.1" fill="#0a2a12"/><circle cx="106.5" cy="211.2" r="0.6" fill="#1d6a2a"/><circle cx="101.1" cy="209.9" r="0.7" fill="#277c32"/><circle cx="93.3" cy="191.7" r="0.9" fill="#309040"/><circle cx="92.7" cy="217.9" r="0.8" fill="#0a2a12"/><circle cx="94.1" cy="196.8" r="1.2" fill="#1a5c26"/><circle cx="105.6" cy="207.8" r="1" fill="#309040"/><circle cx="71.9" cy="203" r="0.9" fill="#0a2a12"/><circle cx="101.9" cy="215.9" r="0.9" fill="#277c32"/><circle cx="100.4" cy="200.4" r="1.1" fill="#277c32"/><circle cx="89.5" cy="214.3" r="0.6" fill="#1d6a2a"/><circle cx="90.3" cy="219.8" r="0.8" fill="#1d6a2a"/><circle cx="91.6" cy="188.9" r="1" fill="#309040"/><circle cx="98.1" cy="196.6" r="0.8" fill="#145422"/><circle cx="74.4" cy="192.3" r="1.1" fill="#1d6a2a"/><circle cx="90.1" cy="191.8" r="0.7" fill="#309040"/><circle cx="78.9" cy="204.3" r="0.9" fill="#309040"/><circle cx="91.4" cy="212.3" r="1" fill="#145422"/><circle cx="68.4" cy="210.3" r="1.1" fill="#0a2a12"/><circle cx="86.6" cy="189.2" r="0.7" fill="#277c32"/><circle cx="76.2" cy="189.5" r="0.9" fill="#1a5c26"/><circle cx="82.8" cy="188.4" r="1.1" fill="#1a5c26"/><circle cx="108.8" cy="208.6" r="1.2" fill="#0a2a12"/><circle cx="70.3" cy="205.6" r="0.9" fill="#145422"/><circle cx="75.6" cy="191.3" r="1.1" fill="#277c32"/><circle cx="98.8" cy="200.6" r="0.5" fill="#309040"/><circle cx="80" cy="220.2" r="0.9" fill="#145422"/><circle cx="84.3" cy="215.5" r="1.1" fill="#309040"/><circle cx="81.5" cy="210.4" r="0.7" fill="#277c32"/><circle cx="91.3" cy="189.6" r="1.2" fill="#1a5c26"/><circle cx="98.6" cy="198.3" r="1.2" fill="#309040"/><circle cx="98.4" cy="210.5" r="0.6" fill="#1d6a2a"/><circle cx="90.8" cy="187.1" r="0.7" fill="#0a2a12"/><circle cx="75.9" cy="205" r="0.6" fill="#145422"/><circle cx="79.2" cy="205.3" r="0.9" fill="#1a5c26"/><circle cx="79.1" cy="192.5" r="1.2" fill="#1a5c26"/><circle cx="80" cy="215.9" r="0.8" fill="#0a2a12"/><circle cx="88.5" cy="191.5" r="1" fill="#309040"/><circle cx="104.7" cy="212.3" r="0.9" fill="#277c32"/><circle cx="105.9" cy="196" r="0.6" fill="#0a2a12"/><circle cx="91.8" cy="196.5" r="1.1" fill="#309040"/><circle cx="71.3" cy="200.6" r="0.5" fill="#0a2a12"/><circle cx="103.6" cy="196.8" r="1" fill="#145422"/><circle cx="79.9" cy="188.5" r="0.8" fill="#277c32"/><circle cx="91.9" cy="200.7" r="0.7" fill="#0a2a12"/><circle cx="94.5" cy="188.3" r="1.2" fill="#0a2a12"/><circle cx="95.2" cy="218.7" r="0.8" fill="#0a2a12"/><circle cx="83.4" cy="205.2" r="1" fill="#309040"/><circle cx="98.6" cy="216.2" r="0.8" fill="#0a2a12"/><circle cx="77.3" cy="190.2" r="1" fill="#309040"/><circle cx="94.7" cy="196.6" r="0.5" fill="#1d6a2a"/><circle cx="95.2" cy="209.7" r="0.9" fill="#1d6a2a"/><circle cx="94.7" cy="189.5" r="0.6" fill="#1d6a2a"/><circle cx="84.5" cy="187.6" r="0.9" fill="#1a5c26"/><circle cx="80.2" cy="205.2" r="1.2" fill="#1d6a2a"/><circle cx="83.8" cy="213.8" r="1.1" fill="#309040"/><circle cx="95" cy="190.5" r="0.7" fill="#309040"/><circle cx="66.8" cy="204" r="0.7" fill="#309040"/><circle cx="84" cy="206.8" r="1.1" fill="#0a2a12"/><circle cx="106.9" cy="195.2" r="1" fill="#309040"/><circle cx="66.8" cy="207.3" r="0.8" fill="#277c32"/><circle cx="104.3" cy="195.1" r="0.6" fill="#0a2a12"/><circle cx="74.3" cy="207.4" r="0.6" fill="#309040"/><circle cx="92.4" cy="206.9" r="1" fill="#145422"/><circle cx="95" cy="201.6" r="0.8" fill="#277c32"/><circle cx="106.3" cy="195.8" r="0.9" fill="#1a5c26"/><circle cx="79.5" cy="191.7" r="1.1" fill="#145422"/><circle cx="92.2" cy="210.2" r="1" fill="#145422"/><circle cx="75.4" cy="201.7" r="0.5" fill="#145422"/><circle cx="70.4" cy="197.7" r="0.9" fill="#277c32"/><circle cx="70.9" cy="203" r="0.8" fill="#1d6a2a"/><circle cx="80.7" cy="197.3" r="0.6" fill="#277c32"/><circle cx="75.3" cy="204.2" r="0.7" fill="#1d6a2a"/><circle cx="92.7" cy="219.3" r="0.6" fill="#145422"/><circle cx="70.3" cy="212.3" r="1" fill="#0a2a12"/><circle cx="72.9" cy="214.6" r="1.2" fill="#0a2a12"/><circle cx="71.8" cy="194.9" r="0.5" fill="#1d6a2a"/><circle cx="101.8" cy="209.1" r="0.9" fill="#145422"/><circle cx="104.3" cy="199.9" r="0.8" fill="#277c32"/><circle cx="81.5" cy="210.2" r="1.2" fill="#0a2a12"/><circle cx="70.5" cy="201.7" r="0.9" fill="#0a2a12"/><circle cx="83.4" cy="189.8" r="1" fill="#277c32"/><circle cx="88.7" cy="206.4" r="0.9" fill="#1a5c26"/><circle cx="105.1" cy="204.6" r="0.5" fill="#277c32"/><circle cx="86.6" cy="189.6" r="0.8" fill="#145422"/><circle cx="100.4" cy="198.5" r="0.6" fill="#277c32"/><circle cx="76.9" cy="200.6" r="0.7" fill="#1d6a2a"/><circle cx="102.9" cy="211.7" r="0.6" fill="#309040"/><circle cx="77.1" cy="193.1" r="1" fill="#309040"/><circle cx="85.2" cy="205" r="0.9" fill="#309040"/><circle cx="76.5" cy="215.6" r="0.9" fill="#145422"/><circle cx="82" cy="191.6" r="1" fill="#1d6a2a"/><circle cx="70.5" cy="199.9" r="0.7" fill="#1d6a2a"/><circle cx="92.7" cy="215.6" r="1.1" fill="#309040"/><circle cx="97.4" cy="204.8" r="1" fill="#277c32"/><circle cx="90.4" cy="210.1" r="0.7" fill="#1a5c26"/><circle cx="76.3" cy="196.4" r="1" fill="#1a5c26"/><circle cx="104.9" cy="211.9" r="0.5" fill="#145422"/><circle cx="81.4" cy="198.1" r="0.9" fill="#0a2a12"/><circle cx="109.8" cy="202.8" r="0.5" fill="#145422"/><circle cx="103" cy="192" r="0.6" fill="#277c32"/><circle cx="91.7" cy="186.9" r="0.8" fill="#0a2a12"/><circle cx="67.7" cy="199" r="1.1" fill="#145422"/><circle cx="75.9" cy="212" r="1.2" fill="#1a5c26"/><circle cx="78.7" cy="189.8" r="1.1" fill="#1d6a2a"/><circle cx="70.2" cy="202.4" r="0.7" fill="#145422"/><circle cx="79.9" cy="197.2" r="0.7" fill="#145422"/><circle cx="105.8" cy="200.6" r="1.2" fill="#0a2a12"/><circle cx="82.4" cy="209.8" r="0.9" fill="#277c32"/><circle cx="70" cy="200.6" r="0.6" fill="#309040"/><circle cx="93.9" cy="220.8" r="0.6" fill="#145422"/><circle cx="73" cy="196.1" r="1" fill="#1d6a2a"/><circle cx="69.9" cy="210.1" r="0.7" fill="#277c32"/><circle cx="71.3" cy="199.5" r="1" fill="#1a5c26"/><circle cx="90.4" cy="209.5" r="0.6" fill="#1d6a2a"/><circle cx="75.5" cy="216.4" r="0.6" fill="#145422"/><circle cx="85.3" cy="214" r="1.1" fill="#1d6a2a"/><circle cx="97.9" cy="200.1" r="1" fill="#1d6a2a"/><circle cx="90" cy="202.9" r="1" fill="#145422"/><circle cx="77.9" cy="204.2" r="0.8" fill="#1a5c26"/><circle cx="93.3" cy="218.5" r="1" fill="#145422"/><circle cx="105.7" cy="205.6" r="0.9" fill="#1a5c26"/><circle cx="80" cy="200.2" r="1" fill="#309040"/><circle cx="104" cy="201.4" r="1.2" fill="#0a2a12"/><circle cx="89.6" cy="211.4" r="1" fill="#145422"/><circle cx="99" cy="203.4" r="0.6" fill="#0a2a12"/><circle cx="96.7" cy="196.3" r="0.7" fill="#309040"/><circle cx="74.4" cy="216.6" r="0.9" fill="#145422"/><circle cx="76.9" cy="189.2" r="0.6" fill="#309040"/><circle cx="108.4" cy="205" r="0.8" fill="#0a2a12"/><circle cx="78.3" cy="196.2" r="0.9" fill="#0a2a12"/><circle cx="78.8" cy="197.1" r="0.6" fill="#1d6a2a"/><circle cx="100.8" cy="205.2" r="1" fill="#309040"/><circle cx="91.9" cy="187.7" r="0.8" fill="#309040"/><circle cx="86.9" cy="193.5" r="0.6" fill="#0a2a12"/><circle cx="85" cy="201.8" r="0.9" fill="#0a2a12"/><circle cx="87.9" cy="199.7" r="0.7" fill="#1a5c26"/><circle cx="79.5" cy="214.5" r="0.8" fill="#309040"/><circle cx="88.6" cy="218.5" r="1.1" fill="#1d6a2a"/><circle cx="91.7" cy="214.7" r="0.8" fill="#1a5c26"/><circle cx="83.6" cy="209.7" r="0.8" fill="#309040"/><circle cx="70.9" cy="204.3" r="0.9" fill="#277c32"/><circle cx="68.8" cy="204.2" r="1.1" fill="#145422"/><circle cx="78.7" cy="207" r="0.7" fill="#145422"/><circle cx="91.5" cy="200.7" r="0.6" fill="#1d6a2a"/><circle cx="96.9" cy="201.1" r="0.7" fill="#1d6a2a"/><circle cx="88.6" cy="216" r="0.6" fill="#0a2a12"/><circle cx="87.6" cy="191.4" r="1" fill="#145422"/><circle cx="104.7" cy="200.8" r="0.9" fill="#1a5c26"/><circle cx="77.4" cy="208.3" r="0.8" fill="#1a5c26"/><circle cx="92.8" cy="198.1" r="0.7" fill="#145422"/><circle cx="79.5" cy="192.2" r="0.8" fill="#145422"/><circle cx="68.9" cy="205.9" r="0.7" fill="#277c32"/><circle cx="74" cy="215.7" r="1.1" fill="#0a2a12"/><circle cx="84.6" cy="213.6" r="1.1" fill="#277c32"/><circle cx="88.9" cy="202.6" r="1" fill="#309040"/><circle cx="80.1" cy="191.5" r="1.1" fill="#1d6a2a"/><circle cx="70" cy="213" r="0.9" fill="#1d6a2a"/><circle cx="69" cy="198.2" r="0.7" fill="#309040"/><circle cx="86.2" cy="187.4" r="0.9" fill="#277c32"/><circle cx="92.6" cy="199.8" r="0.9" fill="#1a5c26"/><circle cx="67.3" cy="202.2" r="1.2" fill="#309040"/><circle cx="98.2" cy="194.4" r="1" fill="#1a5c26"/><circle cx="71.2" cy="200.8" r="0.8" fill="#145422"/><circle cx="91.2" cy="208.4" r="1.1" fill="#1d6a2a"/><circle cx="86.8" cy="201.8" r="0.9" fill="#0a2a12"/><circle cx="75" cy="213.6" r="0.6" fill="#277c32"/><circle cx="106.8" cy="206.7" r="0.9" fill="#309040"/><circle cx="79" cy="207" r="1.1" fill="#1d6a2a"/><circle cx="95.3" cy="207.3" r="0.9" fill="#309040"/><circle cx="100.5" cy="204.2" r="0.7" fill="#1d6a2a"/><circle cx="66.9" cy="203.5" r="0.7" fill="#145422"/><circle cx="85.6" cy="219.5" r="0.9" fill="#1a5c26"/><circle cx="76.5" cy="194" r="0.9" fill="#277c32"/><circle cx="78.7" cy="217.5" r="1.1" fill="#145422"/><circle cx="101" cy="214.7" r="0.7" fill="#145422"/><circle cx="82.7" cy="220.9" r="0.6" fill="#1d6a2a"/><circle cx="94" cy="205.1" r="0.9" fill="#309040"/><circle cx="87.8" cy="212.4" r="0.8" fill="#0a2a12"/><circle cx="79.7" cy="206.2" r="0.7" fill="#1a5c26"/><circle cx="89.7" cy="208.8" r="0.6" fill="#277c32"/><circle cx="69.5" cy="208.1" r="0.5" fill="#145422"/><circle cx="98.7" cy="193" r="0.8" fill="#1d6a2a"/><circle cx="72.9" cy="213.8" r="0.6" fill="#1a5c26"/><circle cx="79.2" cy="190.2" r="0.7" fill="#309040"/><circle cx="66.8" cy="208.5" r="0.9" fill="#145422"/><circle cx="73.9" cy="191.6" r="1" fill="#277c32"/><circle cx="101.1" cy="206.3" r="0.6" fill="#145422"/><circle cx="80.3" cy="189" r="0.5" fill="#1a5c26"/><circle cx="73.3" cy="199.2" r="0.6" fill="#309040"/><circle cx="74.4" cy="210.2" r="1" fill="#1d6a2a"/><circle cx="72.3" cy="216.2" r="1" fill="#277c32"/><circle cx="81.7" cy="205.1" r="1.2" fill="#0a2a12"/><circle cx="97.3" cy="191.6" r="1.1" fill="#0a2a12"/><circle cx="80.6" cy="196.5" r="0.6" fill="#0a2a12"/><circle cx="89.5" cy="208.8" r="0.5" fill="#1d6a2a"/><circle cx="68.5" cy="198" r="1" fill="#1a5c26"/><circle cx="93.7" cy="195.2" r="0.6" fill="#309040"/><circle cx="87.8" cy="205.7" r="0.5" fill="#0a2a12"/><circle cx="90.5" cy="213.9" r="0.9" fill="#145422"/><circle cx="99.2" cy="189.3" r="0.8" fill="#0a2a12"/><circle cx="92.9" cy="192.9" r="1.1" fill="#1a5c26"/><circle cx="98.2" cy="214.3" r="1.1" fill="#1a5c26"/><circle cx="97.5" cy="200.2" r="1" fill="#1d6a2a"/><circle cx="79.7" cy="205.8" r="1.2" fill="#1d6a2a"/><circle cx="66.7" cy="207.8" r="0.9" fill="#0a2a12"/><circle cx="88.3" cy="195.7" r="0.8" fill="#1a5c26"/><circle cx="90.7" cy="215.3" r="0.7" fill="#1a5c26"/><circle cx="77.4" cy="197.5" r="1" fill="#0a2a12"/><circle cx="81.6" cy="209.2" r="1.2" fill="#145422"/><circle cx="74" cy="214.4" r="0.9" fill="#1a5c26"/><circle cx="92.7" cy="215.7" r="1" fill="#1a5c26"/><circle cx="80.1" cy="200.1" r="0.7" fill="#1d6a2a"/><circle cx="98.3" cy="204.7" r="0.5" fill="#145422"/><circle cx="76" cy="202.2" r="0.8" fill="#145422"/><circle cx="87.7" cy="190.3" r="0.8" fill="#309040"/><circle cx="69.4" cy="198.8" r="0.6" fill="#1d6a2a"/><circle cx="92.4" cy="199.2" r="0.7" fill="#309040"/><circle cx="81.8" cy="194.6" r="1" fill="#1a5c26"/><circle cx="76.1" cy="198.5" r="0.8" fill="#1d6a2a"/><circle cx="100.5" cy="214" r="0.5" fill="#309040"/><circle cx="68.1" cy="210.8" r="1.1" fill="#277c32"/><circle cx="101.3" cy="192.4" r="0.9" fill="#277c32"/><circle cx="67.2" cy="203.7" r="0.6" fill="#309040"/><circle cx="97.6" cy="194.7" r="0.5" fill="#309040"/><circle cx="97" cy="214.6" r="0.8" fill="#277c32"/><circle cx="89.2" cy="217.5" r="1.1" fill="#277c32"/><circle cx="78.9" cy="201.4" r="0.5" fill="#0a2a12"/><circle cx="68.4" cy="205.9" r="1" fill="#309040"/><circle cx="94.5" cy="190.9" r="1.1" fill="#1a5c26"/><circle cx="97.3" cy="203.1" r="1" fill="#1a5c26"/><circle cx="101.6" cy="204.1" r="0.9" fill="#277c32"/><circle cx="87.8" cy="190.5" r="1.1" fill="#1d6a2a"/><circle cx="68.7" cy="198.4" r="0.5" fill="#277c32"/><circle cx="89.8" cy="209.9" r="1" fill="#145422"/><circle cx="93.9" cy="208.9" r="1.1" fill="#1a5c26"/><circle cx="102.6" cy="207.3" r="0.7" fill="#277c32"/><circle cx="95.5" cy="206.6" r="0.7" fill="#309040"/><circle cx="80.5" cy="213" r="0.5" fill="#309040"/><circle cx="67.9" cy="200.5" r="0.8" fill="#0a2a12"/><circle cx="92" cy="193.5" r="1" fill="#0a2a12"/><circle cx="67" cy="205.5" r="0.6" fill="#145422"/><circle cx="74.8" cy="193.5" r="0.8" fill="#145422"/><circle cx="88.2" cy="215.3" r="0.8" fill="#1a5c26"/><circle cx="79.8" cy="202.7" r="1" fill="#0a2a12"/><circle cx="71.6" cy="209.2" r="0.7" fill="#0a2a12"/><circle cx="87" cy="200.2" r="1.1" fill="#145422"/><circle cx="103.7" cy="208.6" r="1" fill="#277c32"/><circle cx="83.9" cy="209.3" r="0.7" fill="#1a5c26"/><circle cx="99.7" cy="213.1" r="1" fill="#0a2a12"/><circle cx="102.9" cy="199.3" r="0.5" fill="#1a5c26"/><circle cx="80.3" cy="198.5" r="0.6" fill="#0a2a12"/><circle cx="97.9" cy="211.2" r="0.7" fill="#1a5c26"/><circle cx="84.5" cy="193.8" r="1" fill="#1a5c26"/><circle cx="84.5" cy="209" r="1.2" fill="#1d6a2a"/><circle cx="78" cy="217.4" r="0.6" fill="#145422"/><circle cx="92.3" cy="218.8" r="0.7" fill="#145422"/><circle cx="72.6" cy="199.6" r="0.7" fill="#309040"/><circle cx="97.7" cy="198.1" r="0.7" fill="#1d6a2a"/><circle cx="101.5" cy="196.6" r="0.9" fill="#1d6a2a"/><circle cx="97.1" cy="190.9" r="0.7" fill="#1a5c26"/><circle cx="86.7" cy="214.5" r="0.8" fill="#145422"/><circle cx="103.5" cy="197" r="1" fill="#277c32"/><circle cx="78.6" cy="198.7" r="0.7" fill="#0a2a12"/><circle cx="92" cy="220.3" r="0.8" fill="#0a2a12"/><circle cx="88.8" cy="187.4" r="0.7" fill="#0a2a12"/><circle cx="96.8" cy="205.1" r="1.1" fill="#1a5c26"/><circle cx="98.8" cy="209.7" r="0.5" fill="#145422"/><circle cx="74.5" cy="192.1" r="0.7" fill="#0a2a12"/><circle cx="73.4" cy="206.1" r="0.8" fill="#277c32"/><circle cx="101.3" cy="213.1" r="0.7" fill="#1a5c26"/><circle cx="96.2" cy="206.1" r="0.5" fill="#277c32"/><circle cx="80.4" cy="191.2" r="0.9" fill="#1a5c26"/><circle cx="79.8" cy="189.8" r="0.6" fill="#1d6a2a"/><circle cx="89.8" cy="191.4" r="1.1" fill="#277c32"/><circle cx="105.1" cy="194.6" r="0.8" fill="#309040"/><circle cx="86.5" cy="194.6" r="1.2" fill="#277c32"/><circle cx="91.5" cy="202" r="1" fill="#0a2a12"/><circle cx="105.9" cy="204.3" r="0.6" fill="#1d6a2a"/><circle cx="73.1" cy="215.2" r="0.9" fill="#1a5c26"/><circle cx="101.3" cy="207.5" r="1.2" fill="#1d6a2a"/><circle cx="69.7" cy="210.2" r="0.7" fill="#1a5c26"/><circle cx="100" cy="216.3" r="1" fill="#1d6a2a"/><circle cx="77.8" cy="214.2" r="1.2" fill="#1a5c26"/><circle cx="89" cy="208.7" r="0.6" fill="#1d6a2a"/><circle cx="94.1" cy="201.8" r="0.9" fill="#277c32"/><circle cx="93.4" cy="194.4" r="0.6" fill="#1d6a2a"/><circle cx="99.6" cy="217.4" r="1.1" fill="#309040"/><circle cx="99.7" cy="210.3" r="1" fill="#277c32"/><circle cx="91.8" cy="206.8" r="1.2" fill="#309040"/><circle cx="99.3" cy="197.7" r="1.2" fill="#277c32"/><circle cx="83.5" cy="216.7" r="0.7" fill="#1d6a2a"/><circle cx="98.9" cy="218.6" r="0.6" fill="#309040"/><circle cx="83.3" cy="199.7" r="0.7" fill="#0a2a12"/><circle cx="100.1" cy="190" r="1.1" fill="#277c32"/><circle cx="73.9" cy="193.4" r="1" fill="#1a5c26"/><circle cx="98.5" cy="195.1" r="1" fill="#309040"/><circle cx="85.5" cy="192.4" r="0.9" fill="#0a2a12"/><circle cx="82.6" cy="212.7" r="0.7" fill="#1a5c26"/><circle cx="85.7" cy="214.3" r="1.2" fill="#309040"/><circle cx="106.9" cy="208" r="0.7" fill="#0a2a12"/><circle cx="74" cy="211.1" r="1" fill="#309040"/><circle cx="97.8" cy="195.8" r="0.8" fill="#145422"/><circle cx="104.2" cy="208.1" r="0.8" fill="#1d6a2a"/><circle cx="89" cy="194.1" r="0.7" fill="#0a2a12"/><circle cx="98" cy="209.2" r="1.1" fill="#309040"/><circle cx="99.4" cy="196.1" r="1.1" fill="#0a2a12"/><circle cx="107.9" cy="202.8" r="0.6" fill="#1d6a2a"/><circle cx="97.3" cy="200.8" r="0.8" fill="#1a5c26"/><circle cx="106.6" cy="208.7" r="1" fill="#0a2a12"/><circle cx="83.9" cy="211.9" r="0.9" fill="#1a5c26"/><circle cx="99.2" cy="189.9" r="1.2" fill="#145422"/><circle cx="90.9" cy="188.5" r="1" fill="#277c32"/><circle cx="77.5" cy="211.9" r="0.9" fill="#145422"/><circle cx="97.6" cy="202.4" r="0.8" fill="#0a2a12"/><circle cx="88.2" cy="201.4" r="1" fill="#1d6a2a"/><circle cx="93.7" cy="194.9" r="0.7" fill="#1d6a2a"/><circle cx="103.6" cy="212.1" r="0.7" fill="#145422"/><circle cx="88.6" cy="220" r="0.9" fill="#309040"/><circle cx="84.6" cy="209.6" r="0.6" fill="#309040"/><circle cx="86.5" cy="211.6" r="0.8" fill="#145422"/><circle cx="84.3" cy="210.4" r="1.2" fill="#1a5c26"/><circle cx="78.6" cy="195.6" r="0.8" fill="#145422"/><circle cx="101.6" cy="202.7" r="0.8" fill="#309040"/><circle cx="80.8" cy="192.6" r="1.1" fill="#1a5c26"/><circle cx="90.8" cy="192.7" r="1.1" fill="#1a5c26"/><circle cx="99.8" cy="216.8" r="1.1" fill="#1d6a2a"/><circle cx="69.1" cy="208" r="1" fill="#145422"/><circle cx="98" cy="196" r="0.6" fill="#1a5c26"/><circle cx="92.9" cy="202.7" r="1" fill="#0a2a12"/><circle cx="97.8" cy="209.5" r="1" fill="#309040"/><circle cx="99.9" cy="194.4" r="0.9" fill="#0a2a12"/><circle cx="86.1" cy="193.8" r="0.9" fill="#277c32"/><circle cx="81.9" cy="203.1" r="1" fill="#1a5c26"/><circle cx="90" cy="220.6" r="0.5" fill="#277c32"/><circle cx="81.7" cy="213.4" r="1.2" fill="#277c32"/><circle cx="98.3" cy="213.3" r="0.8" fill="#277c32"/><circle cx="70.8" cy="196" r="0.9" fill="#0a2a12"/><circle cx="78" cy="196.5" r="0.8" fill="#1d6a2a"/><circle cx="80.5" cy="204" r="1.1" fill="#1d6a2a"/><circle cx="100.3" cy="217.7" r="0.8" fill="#1a5c26"/><circle cx="103.3" cy="194.3" r="0.7" fill="#309040"/><circle cx="90.5" cy="196.9" r="0.8" fill="#0a2a12"/><circle cx="108" cy="200.2" r="0.7" fill="#0a2a12"/><circle cx="69.6" cy="213.5" r="0.5" fill="#1d6a2a"/><circle cx="72.4" cy="207.4" r="1.2" fill="#309040"/><circle cx="80.7" cy="197" r="1.1" fill="#1a5c26"/><circle cx="72" cy="205.6" r="0.9" fill="#0a2a12"/><circle cx="70.1" cy="208.2" r="0.9" fill="#277c32"/><circle cx="92.8" cy="187.4" r="0.5" fill="#277c32"/><circle cx="90.2" cy="188.7" r="1" fill="#145422"/><circle cx="102" cy="205.4" r="0.6" fill="#1d6a2a"/><circle cx="77.1" cy="209.8" r="0.8" fill="#1a5c26"/><circle cx="70.9" cy="207.6" r="0.9" fill="#0a2a12"/><circle cx="76.5" cy="211.4" r="1" fill="#145422"/><circle cx="86.2" cy="206.2" r="0.9" fill="#1a5c26"/><circle cx="101.1" cy="202.7" r="1.1" fill="#0a2a12"/><circle cx="107" cy="195.2" r="1.2" fill="#0a2a12"/><circle cx="73.3" cy="208.8" r="0.6" fill="#145422"/><circle cx="82.8" cy="189.5" r="1.2" fill="#309040"/><circle cx="71.1" cy="200" r="1.1" fill="#1d6a2a"/><circle cx="86.3" cy="191.4" r="0.8" fill="#0a2a12"/><circle cx="81.2" cy="197.6" r="1" fill="#309040"/><circle cx="92.2" cy="204.1" r="0.5" fill="#309040"/><circle cx="104.7" cy="211.4" r="1" fill="#0a2a12"/><circle cx="79.7" cy="217.6" r="0.8" fill="#277c32"/><circle cx="78" cy="190.3" r="0.8" fill="#1a5c26"/><circle cx="75.7" cy="208.4" r="0.9" fill="#309040"/><circle cx="76" cy="203.5" r="1" fill="#0a2a12"/><circle cx="97.3" cy="200.3" r="1.2" fill="#1a5c26"/><circle cx="67.1" cy="200.7" r="0.7" fill="#1a5c26"/><circle cx="89.3" cy="207.9" r="0.6" fill="#145422"/><circle cx="85.1" cy="203.9" r="1.1" fill="#277c32"/><circle cx="87.1" cy="211.7" r="0.7" fill="#1a5c26"/><circle cx="100.4" cy="207.5" r="0.8" fill="#277c32"/><circle cx="83.4" cy="189.5" r="1" fill="#309040"/><circle cx="87.5" cy="198.1" r="0.5" fill="#1a5c26"/><circle cx="74.4" cy="194.5" r="1" fill="#1d6a2a"/><circle cx="109.6" cy="202.4" r="0.8" fill="#1a5c26"/><circle cx="106.7" cy="212.4" r="0.5" fill="#0a2a12"/><circle cx="75.3" cy="200.1" r="1.1" fill="#277c32"/><circle cx="80" cy="202.4" r="1" fill="#0a2a12"/><circle cx="71.4" cy="197.4" r="0.5" fill="#277c32"/><circle cx="85" cy="194.6" r="0.7" fill="#277c32"/><circle cx="104.7" cy="198.6" r="1" fill="#0a2a12"/><circle cx="80.9" cy="192.5" r="0.7" fill="#145422"/><circle cx="100.1" cy="206.9" r="1" fill="#277c32"/><circle cx="87.2" cy="215.8" r="1.2" fill="#0a2a12"/><circle cx="96.5" cy="210.4" r="1.2" fill="#309040"/><circle cx="76.6" cy="205.2" r="0.9" fill="#309040"/><circle cx="91" cy="200.7" r="0.7" fill="#277c32"/><circle cx="72" cy="201.5" r="1.2" fill="#309040"/><circle cx="88.8" cy="187.7" r="1.1" fill="#145422"/><circle cx="80.3" cy="207.5" r="1.2" fill="#277c32"/><circle cx="95.4" cy="203.6" r="0.5" fill="#309040"/><circle cx="103.7" cy="205" r="1.2" fill="#309040"/><circle cx="91.2" cy="197.7" r="0.9" fill="#145422"/><circle cx="66.2" cy="203.3" r="0.8" fill="#0a2a12"/><circle cx="70" cy="202.9" r="0.8" fill="#309040"/><circle cx="78" cy="208.6" r="0.6" fill="#1a5c26"/><circle cx="99.2" cy="192.8" r="0.8" fill="#1d6a2a"/><circle cx="101.2" cy="213.2" r="1" fill="#277c32"/><circle cx="73.2" cy="195.5" r="0.7" fill="#1a5c26"/><circle cx="92.9" cy="212.2" r="0.9" fill="#0a2a12"/><circle cx="92.7" cy="201.2" r="0.5" fill="#1a5c26"/><circle cx="101.3" cy="193.9" r="0.8" fill="#145422"/><circle cx="80.5" cy="208.9" r="1" fill="#0a2a12"/><circle cx="100.5" cy="200.2" r="1" fill="#309040"/><circle cx="100.2" cy="195.4" r="1.1" fill="#1d6a2a"/><circle cx="84.1" cy="217.7" r="0.7" fill="#0a2a12"/><circle cx="81.6" cy="214.8" r="0.8" fill="#1d6a2a"/><circle cx="95.8" cy="201.9" r="1.1" fill="#1a5c26"/><circle cx="99.8" cy="190.5" r="0.6" fill="#277c32"/><circle cx="70.1" cy="197.3" r="0.6" fill="#1a5c26"/><circle cx="104.1" cy="192.2" r="0.8" fill="#309040"/><circle cx="85.3" cy="201.3" r="0.5" fill="#1a5c26"/><circle cx="100.9" cy="193.6" r="0.6" fill="#1d6a2a"/><circle cx="76.7" cy="209.5" r="0.9" fill="#1a5c26"/><circle cx="94.3" cy="205.1" r="0.8" fill="#1a5c26"/><circle cx="71.2" cy="196.3" r="0.7" fill="#1d6a2a"/><circle cx="105" cy="199.8" r="0.8" fill="#277c32"/><circle cx="103.6" cy="195.8" r="0.8" fill="#0a2a12"/><circle cx="100.3" cy="214.1" r="1.1" fill="#1a5c26"/><circle cx="80.9" cy="219.2" r="0.7" fill="#0a2a12"/><circle cx="84" cy="218.7" r="0.8" fill="#1a5c26"/><circle cx="106.8" cy="195.8" r="0.9" fill="#277c32"/><circle cx="84.2" cy="212.2" r="1.2" fill="#145422"/><circle cx="97.1" cy="205.3" r="0.6" fill="#1a5c26"/><circle cx="72.6" cy="197.5" r="0.9" fill="#0a2a12"/><circle cx="105.3" cy="207.6" r="0.5" fill="#1d6a2a"/><circle cx="73.8" cy="201.8" r="1.2" fill="#277c32"/><circle cx="72.2" cy="199.2" r="0.9" fill="#1a5c26"/><circle cx="76.3" cy="202.6" r="0.6" fill="#1a5c26"/><circle cx="79.1" cy="210.8" r="0.8" fill="#0a2a12"/><circle cx="74.2" cy="203" r="1.1" fill="#0a2a12"/><circle cx="88.3" cy="219" r="1" fill="#0a2a12"/><circle cx="77.4" cy="211.9" r="0.7" fill="#277c32"/><circle cx="93.8" cy="196.6" r="0.9" fill="#1d6a2a"/><circle cx="102.6" cy="197" r="1.1" fill="#145422"/><circle cx="73.6" cy="196.4" r="0.6" fill="#277c32"/><circle cx="90.8" cy="197.7" r="1" fill="#1a5c26"/><circle cx="102.5" cy="194.3" r="0.9" fill="#309040"/><circle cx="95.3" cy="192.3" r="1" fill="#1a5c26"/><circle cx="105" cy="211.7" r="0.7" fill="#277c32"/><circle cx="101.9" cy="206.8" r="1.1" fill="#1a5c26"/><circle cx="79.4" cy="192.3" r="0.5" fill="#309040"/><circle cx="96.9" cy="188.4" r="0.8" fill="#1a5c26"/><circle cx="80.5" cy="215" r="0.9" fill="#145422"/><circle cx="74.2" cy="214" r="0.7" fill="#277c32"/><circle cx="79" cy="205.9" r="0.6" fill="#145422"/><circle cx="108.9" cy="200.3" r="0.8" fill="#145422"/><circle cx="101.9" cy="217.5" r="0.9" fill="#1a5c26"/><circle cx="95" cy="196.5" r="1.1" fill="#1a5c26"/><circle cx="79.6" cy="209.4" r="1" fill="#1d6a2a"/><circle cx="83.7" cy="203.5" r="0.9" fill="#1d6a2a"/><circle cx="104.4" cy="211.4" r="0.6" fill="#309040"/><circle cx="79.3" cy="210" r="1.1" fill="#1d6a2a"/><circle cx="88.7" cy="208.2" r="0.8" fill="#1d6a2a"/><circle cx="67.8" cy="204.5" r="1.1" fill="#145422"/><circle cx="87.3" cy="202.9" r="0.6" fill="#145422"/><circle cx="91.3" cy="211.8" r="1.1" fill="#277c32"/><circle cx="90.6" cy="205.5" r="0.7" fill="#277c32"/><circle cx="80.4" cy="210.4" r="0.7" fill="#145422"/><circle cx="101.7" cy="200.6" r="1" fill="#277c32"/><circle cx="98.5" cy="204.5" r="1" fill="#277c32"/><circle cx="100.4" cy="201.3" r="1.1" fill="#309040"/><circle cx="75.4" cy="205.3" r="1" fill="#0a2a12"/><circle cx="89.1" cy="193.2" r="0.6" fill="#309040"/><circle cx="72.8" cy="196.3" r="0.5" fill="#309040"/><circle cx="93.2" cy="216.4" r="0.5" fill="#309040"/><circle cx="94.3" cy="194.2" r="1.1" fill="#0a2a12"/><circle cx="94.3" cy="204.8" r="0.8" fill="#145422"/><circle cx="78.2" cy="199.3" r="1.1" fill="#1a5c26"/><circle cx="103.3" cy="213.5" r="0.7" fill="#0a2a12"/><circle cx="69.3" cy="195.1" r="1" fill="#309040"/><circle cx="102.8" cy="206.6" r="1" fill="#277c32"/><circle cx="89.3" cy="219.4" r="1" fill="#277c32"/><circle cx="77.6" cy="218.6" r="0.6" fill="#145422"/><circle cx="100.8" cy="198.4" r="0.5" fill="#0a2a12"/><circle cx="81.2" cy="214.3" r="0.5" fill="#145422"/><circle cx="88.7" cy="220.5" r="0.5" fill="#277c32"/><circle cx="97.9" cy="198.3" r="0.5" fill="#1a5c26"/><circle cx="86.1" cy="196.6" r="1.1" fill="#0a2a12"/><circle cx="69.8" cy="213.2" r="0.7" fill="#0a2a12"/><circle cx="86.1" cy="219.3" r="0.8" fill="#309040"/><circle cx="78.1" cy="215.5" r="1" fill="#0a2a12"/><circle cx="87.6" cy="221.5" r="1" fill="#1d6a2a"/><circle cx="97.6" cy="207.2" r="0.5" fill="#277c32"/><circle cx="90.6" cy="220.4" r="0.7" fill="#1d6a2a"/><circle cx="80.2" cy="214.1" r="0.9" fill="#145422"/><circle cx="89.9" cy="198.7" r="1" fill="#0a2a12"/><circle cx="73.8" cy="216.5" r="1.2" fill="#1a5c26"/><circle cx="81.6" cy="213.1" r="0.6" fill="#1a5c26"/><circle cx="95.6" cy="205.6" r="0.8" fill="#277c32"/><circle cx="83.3" cy="193.3" r="0.5" fill="#0a2a12"/><circle cx="92.1" cy="208.4" r="1.1" fill="#1d6a2a"/><circle cx="71.8" cy="207" r="1.1" fill="#1d6a2a"/><circle cx="99.5" cy="214.5" r="0.8" fill="#309040"/><circle cx="66.7" cy="201.1" r="0.6" fill="#277c32"/><circle cx="75.4" cy="198.8" r="0.8" fill="#145422"/><circle cx="96.1" cy="205" r="0.6" fill="#0a2a12"/><circle cx="77.4" cy="198.7" r="0.8" fill="#1d6a2a"/><circle cx="88.8" cy="207.2" r="1.1" fill="#277c32"/><circle cx="101.3" cy="216.4" r="0.6" fill="#0a2a12"/><circle cx="60.2" cy="218.7" r="0.8" fill="#309040"/><circle cx="71.7" cy="227.8" r="1.1" fill="#0a2a12"/><circle cx="62.5" cy="227.5" r="0.9" fill="#1d6a2a"/><circle cx="70" cy="223.1" r="0.6" fill="#0a2a12"/><circle cx="72.6" cy="218" r="0.7" fill="#309040"/><circle cx="71.4" cy="220" r="0.8" fill="#1a5c26"/><circle cx="70.8" cy="216.7" r="1.1" fill="#277c32"/><circle cx="66.1" cy="225.2" r="0.7" fill="#0a2a12"/><circle cx="69.4" cy="223.7" r="1" fill="#145422"/><circle cx="63.5" cy="227.1" r="0.8" fill="#145422"/><circle cx="77" cy="222.6" r="0.5" fill="#309040"/><circle cx="73.6" cy="222.2" r="0.8" fill="#1d6a2a"/><circle cx="71.3" cy="221.3" r="1" fill="#309040"/><circle cx="63.7" cy="217.1" r="0.9" fill="#277c32"/><circle cx="68.3" cy="222.1" r="1" fill="#277c32"/><circle cx="64.6" cy="227.4" r="1" fill="#145422"/><circle cx="70.6" cy="217" r="0.7" fill="#145422"/><circle cx="78.4" cy="218.2" r="1.1" fill="#1a5c26"/><circle cx="78.4" cy="224.5" r="1.1" fill="#277c32"/><circle cx="69.5" cy="216.9" r="1.1" fill="#277c32"/><circle cx="63.7" cy="216" r="0.7" fill="#1d6a2a"/><circle cx="62.3" cy="223.3" r="1" fill="#277c32"/><circle cx="61.8" cy="226.5" r="0.7" fill="#309040"/><circle cx="71.8" cy="218.5" r="0.8" fill="#1a5c26"/><circle cx="62.7" cy="227.4" r="0.6" fill="#1d6a2a"/><circle cx="67.9" cy="216.2" r="0.6" fill="#0a2a12"/><circle cx="69.2" cy="220.2" r="0.5" fill="#1d6a2a"/><circle cx="77.2" cy="221.8" r="0.5" fill="#145422"/><circle cx="69.9" cy="221.5" r="0.7" fill="#1a5c26"/><circle cx="77" cy="224.7" r="0.9" fill="#1a5c26"/><circle cx="62.3" cy="220.5" r="0.6" fill="#0a2a12"/><circle cx="68.6" cy="226.4" r="0.7" fill="#0a2a12"/><circle cx="65.4" cy="221.6" r="1" fill="#309040"/><circle cx="73.6" cy="222.1" r="0.6" fill="#1d6a2a"/><circle cx="74.8" cy="226.8" r="0.9" fill="#1d6a2a"/><circle cx="67.2" cy="217.2" r="0.7" fill="#145422"/><circle cx="76.8" cy="217.3" r="0.9" fill="#145422"/><circle cx="70" cy="219.1" r="0.7" fill="#1a5c26"/><circle cx="80.3" cy="223.2" r="1.2" fill="#309040"/><circle cx="73.2" cy="225.1" r="0.7" fill="#145422"/><circle cx="77.3" cy="216.7" r="1.1" fill="#277c32"/><circle cx="79.4" cy="223.5" r="0.8" fill="#145422"/><circle cx="68.2" cy="224.2" r="1" fill="#0a2a12"/><circle cx="66.7" cy="222.8" r="0.6" fill="#1d6a2a"/><circle cx="70.6" cy="218.6" r="0.9" fill="#1d6a2a"/><circle cx="63.3" cy="221.7" r="0.7" fill="#1a5c26"/><circle cx="65.6" cy="216" r="1.1" fill="#277c32"/><circle cx="79.7" cy="221.4" r="1.1" fill="#145422"/><circle cx="60.6" cy="223.4" r="1.1" fill="#277c32"/><circle cx="77.5" cy="227.2" r="0.6" fill="#1a5c26"/><circle cx="73.2" cy="216.2" r="1" fill="#1d6a2a"/><circle cx="78.1" cy="224.6" r="0.8" fill="#1a5c26"/><circle cx="75.7" cy="224" r="1" fill="#145422"/><circle cx="76.5" cy="219.8" r="0.6" fill="#0a2a12"/><circle cx="67.9" cy="215.5" r="0.9" fill="#309040"/><circle cx="68.3" cy="228.2" r="0.8" fill="#145422"/><circle cx="76" cy="223.8" r="0.6" fill="#309040"/><circle cx="73.5" cy="227" r="1" fill="#1a5c26"/><circle cx="67.3" cy="228.5" r="1.1" fill="#145422"/><circle cx="65.4" cy="220" r="0.9" fill="#0a2a12"/><circle cx="72.3" cy="218.9" r="0.9" fill="#277c32"/><circle cx="74.4" cy="221.3" r="0.8" fill="#277c32"/><circle cx="74.5" cy="216.2" r="1.1" fill="#1a5c26"/><circle cx="61.2" cy="222.5" r="0.6" fill="#277c32"/><circle cx="77.2" cy="223.2" r="1" fill="#1a5c26"/><circle cx="78.5" cy="226.3" r="0.9" fill="#277c32"/><circle cx="72.1" cy="221" r="1" fill="#145422"/><circle cx="59.5" cy="222.8" r="1" fill="#1a5c26"/><circle cx="67.8" cy="221.3" r="0.8" fill="#277c32"/><circle cx="79.5" cy="225.1" r="1.1" fill="#0a2a12"/><circle cx="60.3" cy="223.9" r="1" fill="#145422"/><circle cx="59.2" cy="221.9" r="0.6" fill="#309040"/><circle cx="77.4" cy="221.5" r="0.8" fill="#0a2a12"/><circle cx="68.5" cy="221.8" r="0.6" fill="#309040"/><circle cx="70.9" cy="223.2" r="0.6" fill="#1d6a2a"/><circle cx="69.9" cy="214.9" r="0.8" fill="#277c32"/><circle cx="75" cy="224" r="0.9" fill="#145422"/><circle cx="71.9" cy="218.9" r="1.2" fill="#309040"/><circle cx="73.8" cy="225.5" r="0.7" fill="#0a2a12"/><circle cx="61.4" cy="219.6" r="1.2" fill="#277c32"/><circle cx="65.7" cy="226.1" r="1.1" fill="#145422"/><circle cx="66.4" cy="222.3" r="1.1" fill="#277c32"/><circle cx="69.6" cy="215.2" r="0.5" fill="#1a5c26"/><circle cx="74.6" cy="228.5" r="0.9" fill="#309040"/><circle cx="69.8" cy="214.8" r="0.9" fill="#1a5c26"/><circle cx="63.3" cy="222.1" r="0.8" fill="#145422"/><circle cx="65.1" cy="224.5" r="0.8" fill="#0a2a12"/><circle cx="64.4" cy="220.7" r="1" fill="#0a2a12"/><circle cx="68.4" cy="220.7" r="1.2" fill="#0a2a12"/><circle cx="72.2" cy="218.8" r="0.8" fill="#277c32"/><circle cx="76.1" cy="223" r="0.8" fill="#0a2a12"/><circle cx="75.5" cy="218.6" r="1.1" fill="#277c32"/><circle cx="63.3" cy="225.8" r="0.7" fill="#1a5c26"/><circle cx="74.1" cy="225.3" r="0.7" fill="#145422"/><circle cx="80.6" cy="220.6" r="0.7" fill="#277c32"/><circle cx="78.5" cy="219" r="0.6" fill="#277c32"/><circle cx="72" cy="228.7" r="1.1" fill="#277c32"/><circle cx="66.9" cy="216.9" r="0.9" fill="#1a5c26"/><circle cx="73.6" cy="223" r="1" fill="#1a5c26"/><circle cx="64.9" cy="225.8" r="0.8" fill="#145422"/><circle cx="69.1" cy="222" r="0.5" fill="#145422"/><circle cx="78.6" cy="219.5" r="1.1" fill="#277c32"/><circle cx="74.4" cy="219.8" r="0.7" fill="#277c32"/><circle cx="72" cy="225.7" r="1.2" fill="#309040"/><circle cx="72" cy="214.5" r="0.9" fill="#1a5c26"/><circle cx="73.1" cy="219.7" r="0.7" fill="#277c32"/><circle cx="75" cy="228.8" r="0.7" fill="#1a5c26"/><circle cx="71" cy="225.8" r="0.5" fill="#1a5c26"/><circle cx="60" cy="223.8" r="0.6" fill="#0a2a12"/><circle cx="69" cy="223.1" r="1.1" fill="#0a2a12"/><circle cx="69.8" cy="215.2" r="0.6" fill="#277c32"/><circle cx="69.8" cy="226.5" r="1.1" fill="#277c32"/><circle cx="68.8" cy="220.4" r="0.6" fill="#145422"/><circle cx="63.2" cy="223.6" r="0.5" fill="#309040"/><circle cx="71" cy="218" r="0.9" fill="#1d6a2a"/><circle cx="79.9" cy="225" r="0.8" fill="#309040"/><circle cx="67.5" cy="214.9" r="0.8" fill="#1d6a2a"/><circle cx="75.5" cy="222.6" r="0.6" fill="#0a2a12"/><circle cx="75.5" cy="224.9" r="0.9" fill="#1a5c26"/><circle cx="66.9" cy="215" r="0.7" fill="#145422"/><circle cx="67.3" cy="228.2" r="0.6" fill="#145422"/><circle cx="68.7" cy="220.4" r="1.1" fill="#145422"/><circle cx="65.3" cy="218.8" r="0.8" fill="#0a2a12"/><circle cx="72.8" cy="225.3" r="0.9" fill="#1a5c26"/><circle cx="66.5" cy="222.8" r="0.8" fill="#277c32"/><circle cx="73.1" cy="215" r="1.2" fill="#1a5c26"/><circle cx="67" cy="222" r="0.7" fill="#1a5c26"/><circle cx="64" cy="223.7" r="1.2" fill="#277c32"/><circle cx="63.5" cy="226.8" r="1" fill="#1a5c26"/><circle cx="73.1" cy="227.8" r="1.1" fill="#277c32"/><circle cx="75.6" cy="222.4" r="0.6" fill="#0a2a12"/><circle cx="65" cy="216.7" r="1" fill="#1d6a2a"/><circle cx="77.3" cy="221.6" r="0.7" fill="#309040"/><circle cx="70.8" cy="218.6" r="1" fill="#309040"/><circle cx="70.5" cy="222.1" r="1.2" fill="#145422"/><circle cx="72.7" cy="221.2" r="0.8" fill="#309040"/><circle cx="69.8" cy="221.9" r="1" fill="#145422"/><circle cx="66.3" cy="226.3" r="0.7" fill="#145422"/><circle cx="68" cy="224.1" r="0.5" fill="#0a2a12"/><circle cx="64.8" cy="221.4" r="1.2" fill="#277c32"/><circle cx="70.9" cy="221.2" r="0.5" fill="#309040"/><circle cx="74.9" cy="222.6" r="0.7" fill="#0a2a12"/><circle cx="67.8" cy="227.8" r="1" fill="#1d6a2a"/><circle cx="70" cy="222.4" r="1" fill="#0a2a12"/><circle cx="74.6" cy="220.9" r="0.8" fill="#1a5c26"/><circle cx="73.8" cy="220.7" r="1.1" fill="#1a5c26"/><circle cx="74.8" cy="216.5" r="1.1" fill="#277c32"/><circle cx="70.8" cy="219.3" r="0.7" fill="#1a5c26"/><circle cx="73.3" cy="215.7" r="0.5" fill="#1a5c26"/><circle cx="73.2" cy="218.8" r="1" fill="#1d6a2a"/><circle cx="64.4" cy="218.4" r="0.6" fill="#1a5c26"/><circle cx="73.8" cy="220.5" r="0.5" fill="#1d6a2a"/><circle cx="71.7" cy="227.6" r="1.1" fill="#1a5c26"/><circle cx="71.4" cy="216.6" r="0.6" fill="#145422"/><circle cx="70.7" cy="227.7" r="1.1" fill="#0a2a12"/><circle cx="70.5" cy="220" r="1.1" fill="#145422"/><circle cx="64.6" cy="218.2" r="0.8" fill="#1a5c26"/><circle cx="69.4" cy="226.9" r="1.2" fill="#1d6a2a"/><circle cx="73.1" cy="222.7" r="0.7" fill="#0a2a12"/><circle cx="64.8" cy="223.8" r="1" fill="#1d6a2a"/><circle cx="76.6" cy="227.7" r="1.2" fill="#1a5c26"/><circle cx="67.6" cy="214.9" r="0.9" fill="#277c32"/><circle cx="80.4" cy="220.6" r="0.5" fill="#0a2a12"/><circle cx="72.9" cy="216.6" r="0.8" fill="#1d6a2a"/><circle cx="76.6" cy="222.5" r="0.7" fill="#145422"/><circle cx="63.7" cy="226.7" r="0.6" fill="#145422"/><circle cx="73.4" cy="228.7" r="0.7" fill="#1a5c26"/><circle cx="66.3" cy="220.8" r="0.6" fill="#0a2a12"/><circle cx="73.7" cy="227.7" r="0.6" fill="#309040"/><circle cx="69.1" cy="226.7" r="1.2" fill="#145422"/><circle cx="74.2" cy="214.9" r="0.8" fill="#145422"/><circle cx="65.2" cy="225.3" r="0.9" fill="#0a2a12"/><circle cx="62.4" cy="217.2" r="0.7" fill="#145422"/><circle cx="61.2" cy="224.5" r="0.5" fill="#1d6a2a"/><circle cx="63.5" cy="222.9" r="0.8" fill="#1d6a2a"/><circle cx="63.7" cy="222.8" r="1" fill="#1d6a2a"/><circle cx="72" cy="220.5" r="0.6" fill="#1d6a2a"/><circle cx="79.1" cy="221.3" r="0.6" fill="#1d6a2a"/><circle cx="79.2" cy="219.4" r="1.1" fill="#309040"/><circle cx="64.8" cy="221.7" r="0.5" fill="#145422"/><circle cx="60.9" cy="223.9" r="0.7" fill="#1a5c26"/><circle cx="60.6" cy="223.9" r="0.6" fill="#0a2a12"/><circle cx="112.2" cy="212.4" r="0.6" fill="#309040"/><circle cx="99.3" cy="209" r="0.7" fill="#309040"/><circle cx="104.3" cy="220.3" r="1" fill="#277c32"/><circle cx="111.6" cy="206.5" r="0.6" fill="#145422"/><circle cx="98.2" cy="211.4" r="1.1" fill="#309040"/><circle cx="98.7" cy="201.8" r="1.1" fill="#145422"/><circle cx="100.4" cy="208.8" r="0.8" fill="#309040"/><circle cx="104.7" cy="203.5" r="0.9" fill="#145422"/><circle cx="113.2" cy="210.5" r="1" fill="#309040"/><circle cx="105.1" cy="202.9" r="1.1" fill="#1d6a2a"/><circle cx="108.7" cy="203.5" r="0.6" fill="#309040"/><circle cx="111.2" cy="217.9" r="0.8" fill="#145422"/><circle cx="110.5" cy="208.7" r="0.8" fill="#1d6a2a"/><circle cx="106.2" cy="212.1" r="0.6" fill="#309040"/><circle cx="111.8" cy="203.7" r="0.6" fill="#1d6a2a"/><circle cx="107.3" cy="197.9" r="0.9" fill="#277c32"/><circle cx="108.3" cy="208.4" r="1" fill="#145422"/><circle cx="112.9" cy="205.2" r="0.8" fill="#277c32"/><circle cx="112.2" cy="215.3" r="0.7" fill="#0a2a12"/><circle cx="106" cy="198.4" r="0.6" fill="#1a5c26"/><circle cx="100.7" cy="217.7" r="0.9" fill="#1a5c26"/><circle cx="103.5" cy="196.4" r="1" fill="#1a5c26"/><circle cx="99.4" cy="206.9" r="0.9" fill="#0a2a12"/><circle cx="101.3" cy="215.4" r="0.8" fill="#1d6a2a"/><circle cx="101.1" cy="217.3" r="0.8" fill="#309040"/><circle cx="111.7" cy="214.8" r="0.8" fill="#309040"/><circle cx="104.7" cy="211.9" r="1.1" fill="#309040"/><circle cx="106.4" cy="203" r="0.8" fill="#1a5c26"/><circle cx="103.7" cy="207.8" r="0.7" fill="#309040"/><circle cx="105" cy="213.3" r="0.6" fill="#1d6a2a"/><circle cx="98.1" cy="205.3" r="0.6" fill="#145422"/><circle cx="104.2" cy="195.4" r="0.8" fill="#1d6a2a"/><circle cx="99.7" cy="202.8" r="0.7" fill="#0a2a12"/><circle cx="106.8" cy="208.5" r="1.1" fill="#277c32"/><circle cx="101.3" cy="215.2" r="0.8" fill="#309040"/><circle cx="109.9" cy="219.2" r="1.1" fill="#1a5c26"/><circle cx="100.6" cy="216.1" r="1.1" fill="#0a2a12"/><circle cx="106.6" cy="218.8" r="1.1" fill="#309040"/><circle cx="110.6" cy="203.4" r="0.9" fill="#277c32"/><circle cx="111.7" cy="215.9" r="1.2" fill="#145422"/><circle cx="107.2" cy="216.7" r="0.7" fill="#145422"/><circle cx="102.5" cy="216.1" r="1" fill="#0a2a12"/><circle cx="104.5" cy="196.1" r="0.5" fill="#0a2a12"/><circle cx="107.7" cy="206.6" r="1" fill="#1d6a2a"/><circle cx="107.3" cy="198.3" r="1" fill="#1d6a2a"/><circle cx="105.9" cy="196.1" r="0.6" fill="#277c32"/><circle cx="107.6" cy="196.1" r="0.7" fill="#1a5c26"/><circle cx="103.8" cy="209.5" r="1.2" fill="#309040"/><circle cx="97.9" cy="212" r="0.5" fill="#277c32"/><circle cx="101.8" cy="206.9" r="0.6" fill="#1a5c26"/><circle cx="99.9" cy="204.5" r="0.6" fill="#145422"/><circle cx="109" cy="218.9" r="1" fill="#145422"/><circle cx="106" cy="211.6" r="0.9" fill="#277c32"/><circle cx="100.7" cy="199" r="1" fill="#309040"/><circle cx="97.7" cy="209.9" r="0.8" fill="#309040"/><circle cx="105.8" cy="198.5" r="0.5" fill="#309040"/><circle cx="100.6" cy="201.7" r="1.1" fill="#309040"/><circle cx="100.7" cy="199.8" r="0.7" fill="#145422"/><circle cx="109.1" cy="214.3" r="0.8" fill="#0a2a12"/><circle cx="112.5" cy="215.1" r="0.6" fill="#1d6a2a"/><circle cx="112.5" cy="205" r="0.8" fill="#309040"/><circle cx="99.6" cy="199.8" r="0.7" fill="#1a5c26"/><circle cx="97.9" cy="210.9" r="0.7" fill="#0a2a12"/><circle cx="103.6" cy="205.9" r="0.8" fill="#277c32"/><circle cx="111.9" cy="208.7" r="1" fill="#145422"/><circle cx="109.1" cy="199.9" r="0.9" fill="#0a2a12"/><circle cx="105.9" cy="216.7" r="0.9" fill="#1a5c26"/><circle cx="102.3" cy="200.1" r="0.9" fill="#277c32"/><circle cx="110.2" cy="212.4" r="1" fill="#277c32"/><circle cx="98.9" cy="202.6" r="1.2" fill="#0a2a12"/><circle cx="103.7" cy="212.2" r="0.6" fill="#145422"/><circle cx="110.4" cy="201.3" r="0.6" fill="#145422"/><circle cx="111.2" cy="210.8" r="0.8" fill="#309040"/><circle cx="107.2" cy="220.5" r="0.8" fill="#309040"/><circle cx="98.1" cy="207" r="0.7" fill="#145422"/><circle cx="111.8" cy="215.4" r="1" fill="#1a5c26"/><circle cx="111.7" cy="206" r="0.5" fill="#309040"/><circle cx="112.3" cy="213" r="0.7" fill="#1a5c26"/><circle cx="104.7" cy="208" r="0.6" fill="#1a5c26"/><circle cx="99.6" cy="204.4" r="0.6" fill="#1d6a2a"/><circle cx="104.8" cy="201.5" r="0.8" fill="#1a5c26"/><circle cx="103.5" cy="209.8" r="0.8" fill="#309040"/><circle cx="101.1" cy="207.6" r="1" fill="#145422"/><circle cx="103.2" cy="204.9" r="1.1" fill="#309040"/><circle cx="111.8" cy="205.1" r="0.5" fill="#145422"/><circle cx="100.5" cy="205.9" r="1" fill="#277c32"/><circle cx="102.8" cy="209.1" r="1.1" fill="#0a2a12"/><circle cx="106.7" cy="203" r="0.9" fill="#0a2a12"/><circle cx="104.1" cy="208.5" r="0.6" fill="#309040"/><circle cx="103.5" cy="216.4" r="0.9" fill="#277c32"/><circle cx="102.7" cy="206.5" r="0.5" fill="#1d6a2a"/><circle cx="103.3" cy="214.1" r="0.8" fill="#309040"/><circle cx="103" cy="213" r="1.2" fill="#1a5c26"/><circle cx="108.3" cy="212" r="1" fill="#1d6a2a"/><circle cx="106.9" cy="196.2" r="1.2" fill="#277c32"/><circle cx="101.5" cy="214.8" r="1" fill="#145422"/><circle cx="103.6" cy="208.5" r="0.7" fill="#0a2a12"/><circle cx="100.8" cy="209.2" r="1.1" fill="#0a2a12"/><circle cx="110.9" cy="215.5" r="0.6" fill="#0a2a12"/><circle cx="108.6" cy="212.8" r="1.2" fill="#1a5c26"/><circle cx="107.5" cy="215.5" r="0.8" fill="#277c32"/><circle cx="109.7" cy="205.5" r="0.5" fill="#1d6a2a"/><circle cx="108.9" cy="219.7" r="1.1" fill="#0a2a12"/><circle cx="111.3" cy="198.7" r="0.6" fill="#0a2a12"/><circle cx="104.3" cy="200.2" r="1.1" fill="#1d6a2a"/><circle cx="99.1" cy="209.8" r="0.9" fill="#145422"/><circle cx="113.3" cy="210.8" r="0.8" fill="#1a5c26"/><circle cx="107" cy="204" r="1.1" fill="#0a2a12"/><circle cx="103.8" cy="209.9" r="0.7" fill="#145422"/><circle cx="106.3" cy="200.2" r="0.8" fill="#1d6a2a"/><circle cx="109.1" cy="197" r="1.2" fill="#277c32"/><circle cx="113.2" cy="205.1" r="1" fill="#1a5c26"/><circle cx="112.1" cy="210.1" r="0.7" fill="#309040"/><circle cx="113.8" cy="209.4" r="0.6" fill="#309040"/><circle cx="109.6" cy="214.9" r="0.9" fill="#0a2a12"/><circle cx="111.7" cy="216" r="0.5" fill="#145422"/><circle cx="99.2" cy="201.3" r="1.1" fill="#277c32"/><circle cx="101.7" cy="196.9" r="1.1" fill="#1d6a2a"/><circle cx="104.6" cy="220.1" r="0.6" fill="#277c32"/><circle cx="110.4" cy="209.5" r="1.2" fill="#309040"/><circle cx="104.8" cy="200.8" r="1.2" fill="#0a2a12"/><circle cx="103.3" cy="219.8" r="0.6" fill="#1a5c26"/><circle cx="114.2" cy="210.9" r="0.9" fill="#1a5c26"/><circle cx="100.7" cy="203.8" r="1" fill="#1d6a2a"/><circle cx="101" cy="216.9" r="0.7" fill="#1a5c26"/><circle cx="106.3" cy="219.7" r="0.7" fill="#0a2a12"/><circle cx="112" cy="204.5" r="0.6" fill="#277c32"/><circle cx="104.4" cy="208.9" r="0.6" fill="#277c32"/><circle cx="103.6" cy="215.5" r="1" fill="#1d6a2a"/><circle cx="107.7" cy="199.4" r="1" fill="#1d6a2a"/><circle cx="103.2" cy="197.4" r="0.9" fill="#0a2a12"/><circle cx="109.4" cy="211.5" r="0.6" fill="#145422"/><circle cx="107.4" cy="211.4" r="0.8" fill="#145422"/><circle cx="112.7" cy="204.9" r="1.1" fill="#1a5c26"/><circle cx="100.4" cy="209.5" r="1" fill="#1d6a2a"/><circle cx="104.8" cy="206.2" r="0.7" fill="#145422"/><circle cx="102.9" cy="219.2" r="0.8" fill="#1d6a2a"/><circle cx="101.8" cy="208.2" r="1" fill="#1a5c26"/><circle cx="100.5" cy="213.4" r="0.8" fill="#309040"/><circle cx="107.8" cy="214.1" r="0.9" fill="#145422"/><circle cx="104.5" cy="217.7" r="0.6" fill="#145422"/><circle cx="111.7" cy="211.4" r="0.5" fill="#0a2a12"/><circle cx="104.1" cy="220" r="0.6" fill="#309040"/><circle cx="108.8" cy="216.3" r="1.1" fill="#0a2a12"/><circle cx="101.6" cy="218.8" r="1.2" fill="#1a5c26"/><circle cx="110.2" cy="197" r="0.7" fill="#145422"/><circle cx="104.2" cy="203.7" r="1.1" fill="#1d6a2a"/><circle cx="100.2" cy="217.1" r="1.2" fill="#309040"/><circle cx="109.3" cy="216.9" r="0.7" fill="#309040"/><circle cx="111.5" cy="202" r="0.6" fill="#277c32"/><circle cx="98.6" cy="209.4" r="0.8" fill="#145422"/><circle cx="113.3" cy="203.5" r="1" fill="#1d6a2a"/><circle cx="106.3" cy="197.4" r="1.1" fill="#0a2a12"/><circle cx="106.9" cy="220.4" r="1.1" fill="#277c32"/><circle cx="104.4" cy="210.9" r="1" fill="#277c32"/><circle cx="108" cy="203" r="0.9" fill="#309040"/><circle cx="101.6" cy="205.1" r="0.8" fill="#277c32"/><circle cx="99" cy="214.6" r="1" fill="#1d6a2a"/><circle cx="110.6" cy="207.4" r="0.7" fill="#277c32"/><circle cx="106.3" cy="209.7" r="0.9" fill="#0a2a12"/><circle cx="112.2" cy="215.9" r="0.5" fill="#1d6a2a"/><circle cx="110.3" cy="203.8" r="1.2" fill="#277c32"/><circle cx="103" cy="216.9" r="0.8" fill="#277c32"/><circle cx="114.2" cy="203.9" r="0.6" fill="#1d6a2a"/><circle cx="103.5" cy="215.1" r="1" fill="#277c32"/><circle cx="107" cy="198" r="0.7" fill="#1a5c26"/><circle cx="112.7" cy="205.4" r="0.6" fill="#1a5c26"/><circle cx="114" cy="207.5" r="1.1" fill="#0a2a12"/><circle cx="103.2" cy="197.1" r="0.5" fill="#309040"/><circle cx="109.9" cy="207.3" r="1" fill="#277c32"/><circle cx="110" cy="199.7" r="0.8" fill="#145422"/><circle cx="106.8" cy="208.5" r="0.9" fill="#0a2a12"/><circle cx="101.4" cy="197" r="0.6" fill="#145422"/><circle cx="104.4" cy="198.8" r="0.7" fill="#1d6a2a"/><circle cx="110.1" cy="204.7" r="1.1" fill="#1d6a2a"/><circle cx="104.5" cy="215.5" r="0.9" fill="#309040"/><circle cx="106.4" cy="211" r="1.1" fill="#277c32"/><circle cx="102.2" cy="212.7" r="0.8" fill="#1d6a2a"/><circle cx="113.6" cy="208.3" r="1.1" fill="#145422"/><circle cx="109.6" cy="210.4" r="1.2" fill="#1a5c26"/><circle cx="98.7" cy="214.2" r="1.2" fill="#145422"/><circle cx="103.8" cy="211.5" r="0.8" fill="#277c32"/><circle cx="100.9" cy="211" r="0.8" fill="#309040"/><circle cx="103.1" cy="214" r="0.6" fill="#277c32"/><circle cx="112.3" cy="199.8" r="1.2" fill="#0a2a12"/><circle cx="102.9" cy="220.2" r="0.9" fill="#1a5c26"/><circle cx="104.4" cy="196.6" r="0.8" fill="#1a5c26"/><circle cx="104.6" cy="201.4" r="1" fill="#309040"/><circle cx="105.9" cy="218.1" r="0.8" fill="#145422"/><circle cx="108.4" cy="219.7" r="0.9" fill="#1d6a2a"/><circle cx="106.3" cy="204.2" r="0.8" fill="#0a2a12"/><circle cx="110.1" cy="213.8" r="1.1" fill="#309040"/><circle cx="97.7" cy="211.4" r="0.6" fill="#0a2a12"/><circle cx="101.3" cy="200.1" r="1.1" fill="#145422"/><circle cx="99.3" cy="211.8" r="1" fill="#0a2a12"/><circle cx="101.5" cy="201.3" r="0.9" fill="#0a2a12"/><circle cx="111.5" cy="213.9" r="1.2" fill="#277c32"/><circle cx="111.2" cy="210.9" r="1" fill="#1a5c26"/><circle cx="98.9" cy="211.4" r="1.1" fill="#145422"/><circle cx="114" cy="205.7" r="1.2" fill="#1d6a2a"/><circle cx="99.1" cy="200.6" r="0.5" fill="#309040"/><circle cx="109.6" cy="217.6" r="0.8" fill="#309040"/><circle cx="102.2" cy="216.1" r="1.1" fill="#0a2a12"/><circle cx="110" cy="215.3" r="0.6" fill="#1d6a2a"/><circle cx="108" cy="213.6" r="0.7" fill="#0a2a12"/><circle cx="108.7" cy="215.9" r="0.5" fill="#1d6a2a"/><circle cx="104.8" cy="196.5" r="0.8" fill="#0a2a12"/><circle cx="103.8" cy="212" r="1" fill="#309040"/><circle cx="102.5" cy="201.2" r="0.7" fill="#0a2a12"/><circle cx="107.8" cy="200.3" r="0.7" fill="#145422"/><circle cx="109.1" cy="206.9" r="0.9" fill="#145422"/><circle cx="104.7" cy="218.6" r="0.6" fill="#1a5c26"/><circle cx="97.3" cy="206.6" r="1.2" fill="#277c32"/><circle cx="98.6" cy="212.4" r="0.8" fill="#1d6a2a"/><circle cx="110.9" cy="204.7" r="0.9" fill="#1a5c26"/><circle cx="108.8" cy="208.3" r="1" fill="#0a2a12"/><circle cx="108.1" cy="216" r="1" fill="#0a2a12"/><circle cx="111.9" cy="205.2" r="0.5" fill="#145422"/><circle cx="103.4" cy="218.8" r="0.6" fill="#277c32"/><circle cx="100.1" cy="204.7" r="1" fill="#277c32"/><circle cx="113.1" cy="201" r="0.7" fill="#1d6a2a"/><circle cx="112.3" cy="206.1" r="0.9" fill="#0a2a12"/><circle cx="110.9" cy="216.7" r="1" fill="#1a5c26"/><circle cx="103.5" cy="213.1" r="0.6" fill="#145422"/><circle cx="101.1" cy="218.6" r="0.8" fill="#277c32"/><circle cx="105.9" cy="215.9" r="1.1" fill="#309040"/><circle cx="112.4" cy="200" r="0.5" fill="#309040"/><circle cx="111.4" cy="209.1" r="0.9" fill="#309040"/><circle cx="98" cy="203.4" r="0.7" fill="#277c32"/><circle cx="103.9" cy="201.6" r="0.6" fill="#0a2a12"/><circle cx="101.6" cy="205.2" r="1" fill="#1a5c26"/><circle cx="99.9" cy="208.9" r="0.8" fill="#1a5c26"/><circle cx="107" cy="204.3" r="0.8" fill="#309040"/><circle cx="106.5" cy="209.2" r="0.8" fill="#145422"/><circle cx="100.8" cy="217.2" r="0.8" fill="#0a2a12"/><circle cx="102.1" cy="199.1" r="0.6" fill="#1d6a2a"/><circle cx="104.1" cy="212.4" r="0.7" fill="#0a2a12"/><circle cx="111.1" cy="203.6" r="1" fill="#1a5c26"/><circle cx="103.6" cy="213.1" r="0.9" fill="#1a5c26"/><circle cx="100.6" cy="210.3" r="1" fill="#0a2a12"/><circle cx="107.5" cy="217.6" r="1.2" fill="#0a2a12"/><circle cx="101.1" cy="217.7" r="0.8" fill="#145422"/><circle cx="101.1" cy="215" r="0.8" fill="#1a5c26"/><circle cx="99.5" cy="209" r="0.8" fill="#1a5c26"/><circle cx="110.7" cy="199.2" r="1.1" fill="#309040"/><circle cx="98.6" cy="203.5" r="0.9" fill="#145422"/><circle cx="113.4" cy="210.8" r="0.7" fill="#277c32"/><circle cx="104.4" cy="219.8" r="1.1" fill="#1a5c26"/><circle cx="105.5" cy="197.7" r="0.8" fill="#1d6a2a"/><circle cx="60" cy="201.8" r="0.6" fill="#145422"/><circle cx="58.8" cy="195.7" r="1.1" fill="#0a2a12"/><circle cx="59.9" cy="207.5" r="0.7" fill="#1d6a2a"/><circle cx="58.7" cy="205.2" r="0.8" fill="#1a5c26"/><circle cx="61.8" cy="202.2" r="0.7" fill="#1a5c26"/><circle cx="64.3" cy="194.9" r="0.8" fill="#277c32"/><circle cx="64.7" cy="195.4" r="0.6" fill="#309040"/><circle cx="61.2" cy="205.8" r="0.5" fill="#277c32"/><circle cx="60.3" cy="201.5" r="0.6" fill="#0a2a12"/><circle cx="67.8" cy="204.3" r="0.8" fill="#0a2a12"/><circle cx="61.1" cy="203.6" r="1.2" fill="#1d6a2a"/><circle cx="62.5" cy="202.4" r="0.8" fill="#145422"/><circle cx="66.1" cy="206.7" r="1.1" fill="#309040"/><circle cx="67.3" cy="203.5" r="0.7" fill="#277c32"/><circle cx="60.2" cy="201.5" r="0.7" fill="#1a5c26"/><circle cx="62.3" cy="200.1" r="1.2" fill="#1d6a2a"/><circle cx="60.9" cy="193.7" r="0.8" fill="#309040"/><circle cx="66.5" cy="199.3" r="1.1" fill="#145422"/><circle cx="62" cy="196.5" r="1.2" fill="#1a5c26"/><circle cx="64" cy="206.3" r="1" fill="#309040"/><circle cx="62.5" cy="205" r="0.6" fill="#277c32"/><circle cx="60.8" cy="205.5" r="1.1" fill="#277c32"/><circle cx="65.3" cy="197.6" r="0.7" fill="#1a5c26"/><circle cx="65.2" cy="193.7" r="1.2" fill="#1d6a2a"/><circle cx="65.5" cy="207.2" r="0.9" fill="#309040"/><circle cx="61.5" cy="200.5" r="0.9" fill="#1a5c26"/><circle cx="62.2" cy="197.6" r="0.7" fill="#0a2a12"/><circle cx="65.9" cy="199.8" r="0.8" fill="#309040"/><circle cx="68.1" cy="203.6" r="0.6" fill="#1d6a2a"/><circle cx="68.1" cy="202.3" r="0.7" fill="#309040"/><circle cx="58.5" cy="201.8" r="1" fill="#145422"/><circle cx="59.8" cy="198" r="0.6" fill="#1a5c26"/><circle cx="58.9" cy="202.4" r="0.5" fill="#1a5c26"/><circle cx="65.8" cy="195.7" r="0.6" fill="#309040"/><circle cx="67.3" cy="202.3" r="0.5" fill="#1a5c26"/><circle cx="60.2" cy="194" r="0.8" fill="#0a2a12"/><circle cx="66.3" cy="196.7" r="1.2" fill="#0a2a12"/><circle cx="60.4" cy="207.4" r="0.8" fill="#145422"/><circle cx="64.1" cy="199.8" r="0.9" fill="#277c32"/><circle cx="64.5" cy="204.4" r="0.9" fill="#145422"/><circle cx="61.9" cy="200.4" r="0.6" fill="#1d6a2a"/><circle cx="61.3" cy="205.6" r="0.7" fill="#277c32"/><circle cx="64.9" cy="200.4" r="0.8" fill="#1d6a2a"/><circle cx="58.4" cy="199.9" r="0.9" fill="#309040"/><circle cx="64.1" cy="201.2" r="0.9" fill="#309040"/><circle cx="60.1" cy="195.4" r="1.2" fill="#145422"/><circle cx="58.8" cy="204.9" r="0.7" fill="#145422"/><circle cx="61" cy="208" r="1.2" fill="#309040"/><circle cx="61.8" cy="194.4" r="0.9" fill="#145422"/><circle cx="65.5" cy="202.6" r="1.1" fill="#0a2a12"/><circle cx="65.4" cy="195.1" r="0.7" fill="#145422"/><circle cx="62.3" cy="200.1" r="0.6" fill="#1a5c26"/><circle cx="64.1" cy="205.6" r="0.6" fill="#145422"/><circle cx="58.8" cy="202.6" r="1" fill="#0a2a12"/><circle cx="58.1" cy="199" r="0.9" fill="#0a2a12"/><circle cx="59.7" cy="194.6" r="0.6" fill="#1d6a2a"/><circle cx="62.9" cy="205.1" r="0.6" fill="#277c32"/><circle cx="65.8" cy="198" r="0.6" fill="#0a2a12"/><circle cx="63.2" cy="207.6" r="0.6" fill="#145422"/><circle cx="67" cy="204" r="1" fill="#0a2a12"/><circle cx="60.5" cy="196.7" r="0.6" fill="#309040"/><circle cx="65.9" cy="201.3" r="1" fill="#1a5c26"/><circle cx="67.1" cy="206.4" r="0.5" fill="#145422"/><circle cx="63.1" cy="199.2" r="0.6" fill="#277c32"/><circle cx="61" cy="197.7" r="0.6" fill="#1d6a2a"/><circle cx="59.5" cy="195.9" r="0.9" fill="#145422"/><circle cx="59.1" cy="202.8" r="1.2" fill="#309040"/><circle cx="65.7" cy="200.4" r="0.6" fill="#0a2a12"/><circle cx="64.1" cy="193.9" r="0.6" fill="#277c32"/><circle cx="64.5" cy="200.3" r="1" fill="#309040"/><circle cx="64.3" cy="199.5" r="0.9" fill="#145422"/><circle cx="59.2" cy="206.9" r="0.7" fill="#1a5c26"/><circle cx="60.8" cy="207.6" r="0.8" fill="#0a2a12"/><circle cx="59.3" cy="205.4" r="0.8" fill="#1a5c26"/><circle cx="67.2" cy="196.7" r="0.8" fill="#1d6a2a"/><circle cx="67.9" cy="203.5" r="0.9" fill="#1d6a2a"/><circle cx="62.5" cy="201" r="0.7" fill="#0a2a12"/><circle cx="67" cy="202.4" r="1" fill="#277c32"/><circle cx="62.4" cy="202.7" r="0.8" fill="#277c32"/><circle cx="67.8" cy="204.7" r="1.2" fill="#0a2a12"/><circle cx="59.2" cy="195.8" r="1.2" fill="#1a5c26"/><circle cx="58.8" cy="202.8" r="1" fill="#309040"/><circle cx="66" cy="198.3" r="0.9" fill="#1a5c26"/><circle cx="62.4" cy="203" r="0.5" fill="#1a5c26"/><circle cx="64.3" cy="204.8" r="0.6" fill="#309040"/><circle cx="66" cy="198.4" r="1.1" fill="#1a5c26"/><circle cx="65.9" cy="203.3" r="0.6" fill="#0a2a12"/><circle cx="60.5" cy="196.3" r="1.2" fill="#1d6a2a"/><circle cx="59.5" cy="202.6" r="0.5" fill="#1d6a2a"/><circle cx="66.2" cy="202.2" r="0.6" fill="#145422"/><circle cx="63" cy="206" r="1.1" fill="#145422"/><circle cx="63.7" cy="196.6" r="0.9" fill="#0a2a12"/><circle cx="59.8" cy="205.7" r="0.5" fill="#1a5c26"/><circle cx="62.1" cy="206.8" r="0.9" fill="#309040"/><circle cx="65.4" cy="198.2" r="1.2" fill="#145422"/><circle cx="60.5" cy="207.7" r="0.7" fill="#1d6a2a"/><circle cx="58.6" cy="205.6" r="0.5" fill="#145422"/><circle cx="63.2" cy="193.4" r="0.6" fill="#1d6a2a"/><circle cx="64.4" cy="201" r="0.5" fill="#145422"/><circle cx="58.4" cy="197.5" r="1" fill="#145422"/><circle cx="60.3" cy="202.7" r="1.1" fill="#1a5c26"/><circle cx="62" cy="208.4" r="0.9" fill="#1d6a2a"/><circle cx="58.5" cy="204.4" r="0.6" fill="#145422"/><circle cx="67.3" cy="197.9" r="0.7" fill="#1a5c26"/><circle cx="88.5" cy="169.7" r="0.8" fill="#1a5a26" opacity="0.7"/><circle cx="60.7" cy="218.1" r="0.9" fill="#1a5a26" opacity="0.7"/><circle cx="70" cy="211.9" r="0.7" fill="#1a5a26" opacity="0.7"/><circle cx="58" cy="176.5" r="0.5" fill="#1a5a26" opacity="0.7"/><circle cx="99.4" cy="226.2" r="0.5" fill="#1a5a26" opacity="0.7"/><circle cx="79.9" cy="181.1" r="0.7" fill="#1a5a26" opacity="0.7"/><circle cx="107" cy="207" r="0.8" fill="#1a5a26" opacity="0.7"/><circle cx="94.5" cy="213.4" r="0.7" fill="#1a5a26" opacity="0.7"/><circle cx="98.4" cy="201.8" r="0.5" fill="#1a5a26" opacity="0.7"/><circle cx="95.9" cy="206.7" r="0.5" fill="#1a5a26" opacity="0.7"/><circle cx="92.3" cy="213.1" r="0.7" fill="#1a5a26" opacity="0.7"/><circle cx="88.3" cy="223.9" r="0.6" fill="#1a5a26" opacity="0.7"/><circle cx="103.5" cy="211" r="0.5" fill="#1a5a26" opacity="0.7"/><circle cx="97" cy="227.5" r="0.8" fill="#1a5a26" opacity="0.7"/><circle cx="72.7" cy="222" r="0.7" fill="#1a5a26" opacity="0.7"/><circle cx="87.6" cy="186.3" r="0.9" fill="#1a5a26" opacity="0.7"/><circle cx="97" cy="177.5" r="0.7" fill="#1a5a26" opacity="0.7"/><circle cx="107.7" cy="192.4" r="0.5" fill="#1a5a26" opacity="0.7"/><circle cx="106.6" cy="177.2" r="0.5" fill="#1a5a26" opacity="0.7"/><circle cx="99.6" cy="204.5" r="0.5" fill="#1a5a26" opacity="0.7"/><circle cx="62.2" cy="222.2" r="1" fill="#1a5a26" opacity="0.7"/><circle cx="87.1" cy="209.5" r="0.7" fill="#1a5a26" opacity="0.7"/><circle cx="79.5" cy="230.5" r="0.9" fill="#1a5a26" opacity="0.7"/><circle cx="56.8" cy="201" r="0.4" fill="#1a5a26" opacity="0.7"/><circle cx="86.7" cy="220.8" r="0.7" fill="#1a5a26" opacity="0.7"/><circle cx="63.4" cy="173.5" r="0.6" fill="#1a5a26" opacity="0.7"/><circle cx="67.4" cy="192.3" r="0.4" fill="#1a5a26" opacity="0.7"/><circle cx="73.1" cy="206.1" r="1" fill="#1a5a26" opacity="0.7"/><circle cx="75.7" cy="207.4" r="0.5" fill="#1a5a26" opacity="0.7"/><circle cx="75.1" cy="189.8" r="0.4" fill="#1a5a26" opacity="0.7"/><circle cx="94.4" cy="214.3" r="0.6" fill="#1a5a26" opacity="0.7"/><circle cx="90" cy="205.7" r="0.7" fill="#1a5a26" opacity="0.7"/><circle cx="83.5" cy="186.9" r="0.6" fill="#1a5a26" opacity="0.7"/><circle cx="75.2" cy="203.5" r="0.9" fill="#1a5a26" opacity="0.7"/><circle cx="65.2" cy="179.4" r="0.6" fill="#1a5a26" opacity="0.7"/><circle cx="107.9" cy="199.6" r="0.7" fill="#1a5a26" opacity="0.7"/><circle cx="87" cy="169.9" r="0.5" fill="#1a5a26" opacity="0.7"/><circle cx="78" cy="167.9" r="0.5" fill="#1a5a26" opacity="0.7"/><circle cx="84.5" cy="171.2" r="0.8" fill="#1a5a26" opacity="0.7"/><circle cx="81.8" cy="165.5" r="0.4" fill="#1a5a26" opacity="0.7"/><circle cx="92.1" cy="166.5" r="0.7" fill="#1a5a26" opacity="0.7"/><circle cx="71" cy="197.9" r="1" fill="#1a5a26" opacity="0.7"/><circle cx="113.6" cy="186.5" r="0.5" fill="#1a5a26" opacity="0.7"/><circle cx="89" cy="203.7" r="0.6" fill="#1a5a26" opacity="0.7"/><circle cx="63" cy="183.5" r="0.4" fill="#1a5a26" opacity="0.7"/><circle cx="106.8" cy="176.7" r="0.4" fill="#1a5a26" opacity="0.7"/><circle cx="98.9" cy="204.7" r="0.6" fill="#1a5a26" opacity="0.7"/><circle cx="84.4" cy="177.8" r="0.6" fill="#1a5a26" opacity="0.7"/><circle cx="52.5" cy="209.6" r="0.6" fill="#1a5a26" opacity="0.7"/><circle cx="84.2" cy="175.4" r="0.9" fill="#1a5a26" opacity="0.7"/><circle cx="86.8" cy="229.6" r="0.7" fill="#1a5a26" opacity="0.7"/><circle cx="67.2" cy="181.5" r="0.5" fill="#1a5a26" opacity="0.7"/><circle cx="82.8" cy="169.5" r="0.8" fill="#1a5a26" opacity="0.7"/><circle cx="94.9" cy="217.7" r="0.5" fill="#1a5a26" opacity="0.7"/><circle cx="73.6" cy="228.4" r="0.8" fill="#1a5a26" opacity="0.7"/><circle cx="100.7" cy="183" r="0.8" fill="#1a5a26" opacity="0.7"/><circle cx="91.1" cy="214.9" r="0.9" fill="#1a5a26" opacity="0.7"/><circle cx="83.5" cy="183.3" r="0.9" fill="#1a5a26" opacity="0.7"/><circle cx="85.4" cy="228.8" r="0.9" fill="#1a5a26" opacity="0.7"/><circle cx="82.5" cy="217.6" r="0.5" fill="#1a5a26" opacity="0.7"/><circle cx="99.3" cy="190.6" r="0.5" fill="#1a5a26" opacity="0.7"/><circle cx="102.7" cy="223.6" r="0.7" fill="#1a5a26" opacity="0.7"/><circle cx="76.7" cy="227.4" r="1" fill="#1a5a26" opacity="0.7"/><circle cx="106.8" cy="201.4" r="1" fill="#1a5a26" opacity="0.7"/><circle cx="102.7" cy="182.9" r="0.7" fill="#1a5a26" opacity="0.7"/><circle cx="68.6" cy="214.1" r="0.7" fill="#1a5a26" opacity="0.7"/><circle cx="90.6" cy="213.6" r="0.6" fill="#1a5a26" opacity="0.7"/><circle cx="70.8" cy="176.5" r="0.8" fill="#1a5a26" opacity="0.7"/><circle cx="88" cy="188.2" r="0.8" fill="#1a5a26" opacity="0.7"/><circle cx="85.5" cy="229.4" r="0.7" fill="#1a5a26" opacity="0.7"/><circle cx="103.4" cy="203.6" r="0.7" fill="#1a5a26" opacity="0.7"/><circle cx="90.7" cy="187.3" r="0.6" fill="#1a5a26" opacity="0.7"/><circle cx="64.1" cy="212.7" r="0.9" fill="#1a5a26" opacity="0.7"/><circle cx="84.4" cy="214.9" r="0.6" fill="#1a5a26" opacity="0.7"/><circle cx="94" cy="221.8" r="0.7" fill="#1a5a26" opacity="0.7"/><circle cx="72" cy="207.1" r="0.9" fill="#1a5a26" opacity="0.7"/><circle cx="108.6" cy="198.4" r="0.6" fill="#1a5a26" opacity="0.7"/><circle cx="72.3" cy="226.8" r="0.6" fill="#1a5a26" opacity="0.7"/><circle cx="112.8" cy="210.4" r="0.9" fill="#1a5a26" opacity="0.7"/><circle cx="63.5" cy="218" r="0.5" fill="#1a5a26" opacity="0.7"/><circle cx="88.4" cy="227.9" r="0.8" fill="#1a5a26" opacity="0.7"/><circle cx="96.7" cy="187.2" r="0.7" fill="#1a5a26" opacity="0.7"/><circle cx="90.3" cy="220.3" r="0.7" fill="#1a5a26" opacity="0.7"/><circle cx="91" cy="214.6" r="0.6" fill="#1a5a26" opacity="0.7"/><circle cx="65.1" cy="177.2" r="0.6" fill="#1a5a26" opacity="0.7"/><circle cx="93" cy="189.4" r="0.8" fill="#1a5a26" opacity="0.7"/><circle cx="108.8" cy="184.5" r="0.9" fill="#1a5a26" opacity="0.7"/><circle cx="64.2" cy="172.7" r="1" fill="#1a5a26" opacity="0.7"/><circle cx="104" cy="222.6" r="0.7" fill="#1a5a26" opacity="0.7"/><circle cx="53" cy="199.7" r="0.7" fill="#1a5a26" opacity="0.7"/><circle cx="87.9" cy="170" r="0.5" fill="#1a5a26" opacity="0.7"/><circle cx="65.1" cy="212.2" r="0.9" fill="#1a5a26" opacity="0.7"/><circle cx="85.6" cy="173.1" r="0.7" fill="#1a5a26" opacity="0.7"/><circle cx="67.3" cy="185.5" r="0.6" fill="#1a5a26" opacity="0.7"/><circle cx="101.7" cy="202.3" r="0.8" fill="#1a5a26" opacity="0.7"/><circle cx="58.2" cy="185" r="0.7" fill="#1a5a26" opacity="0.7"/><circle cx="63.6" cy="178.9" r="0.5" fill="#1a5a26" opacity="0.7"/><circle cx="81.6" cy="208.8" r="0.8" fill="#1a5a26" opacity="0.7"/><circle cx="71.5" cy="190.9" r="0.6" fill="#1a5a26" opacity="0.7"/><circle cx="72.4" cy="177.6" r="0.7" fill="#1a5a26" opacity="0.7"/><circle cx="98.1" cy="209.8" r="0.8" fill="#1a5a26" opacity="0.7"/><circle cx="68.8" cy="222.8" r="0.7" fill="#1a5a26" opacity="0.7"/><circle cx="104.9" cy="213.9" r="0.6" fill="#1a5a26" opacity="0.7"/><circle cx="112.3" cy="190.8" r="0.8" fill="#1a5a26" opacity="0.7"/><circle cx="59.5" cy="216.7" r="0.6" fill="#1a5a26" opacity="0.7"/><circle cx="58.3" cy="178.3" r="0.9" fill="#1a5a26" opacity="0.7"/><circle cx="106.8" cy="184" r="0.8" fill="#1a5a26" opacity="0.7"/><circle cx="87.4" cy="187.6" r="0.6" fill="#1a5a26" opacity="0.7"/><circle cx="55" cy="202.2" r="0.9" fill="#1a5a26" opacity="0.7"/><circle cx="91.7" cy="210.5" r="0.4" fill="#1a5a26" opacity="0.7"/><circle cx="82.7" cy="220" r="0.7" fill="#1a5a26" opacity="0.7"/><circle cx="67" cy="217" r="0.5" fill="#1a5a26" opacity="0.7"/><circle cx="56.2" cy="201.1" r="0.7" fill="#1a5a26" opacity="0.7"/><circle cx="111.6" cy="194.7" r="0.4" fill="#1a5a26" opacity="0.7"/><circle cx="59.6" cy="180.6" r="0.4" fill="#1a5a26" opacity="0.7"/><circle cx="97.8" cy="225" r="0.7" fill="#1a5a26" opacity="0.7"/><circle cx="101.7" cy="208.3" r="0.5" fill="#1a5a26" opacity="0.7"/><circle cx="74.8" cy="189.9" r="0.7" fill="#1a5a26" opacity="0.7"/><circle cx="63.1" cy="173.6" r="0.9" fill="#1a5a26" opacity="0.7"/><circle cx="76.2" cy="183.3" r="0.5" fill="#1a5a26" opacity="0.7"/><circle cx="113.4" cy="189.7" r="0.4" fill="#1a5a26" opacity="0.7"/><circle cx="79.9" cy="185.7" r="0.6" fill="#1a5a26" opacity="0.7"/><circle cx="78" cy="190" r="0.9" fill="#1a5a26" opacity="0.7"/><circle cx="103" cy="198.5" r="0.4" fill="#1a5a26" opacity="0.7"/><circle cx="88.8" cy="179.7" r="0.9" fill="#1a5a26" opacity="0.7"/><circle cx="81" cy="167.1" r="0.9" fill="#1a5a26" opacity="0.7"/><circle cx="68.8" cy="205.6" r="0.5" fill="#1a5a26" opacity="0.7"/><circle cx="85.9" cy="165.4" r="0.9" fill="#1a5a26" opacity="0.7"/><circle cx="91.3" cy="175.6" r="0.9" fill="#1a5a26" opacity="0.7"/><circle cx="107.6" cy="214" r="0.5" fill="#1a5a26" opacity="0.7"/><circle cx="85.4" cy="228.4" r="0.4" fill="#1a5a26" opacity="0.7"/><circle cx="96.9" cy="172.5" r="0.8" fill="#1a5a26" opacity="0.7"/><circle cx="73.6" cy="183.8" r="0.5" fill="#1a5a26" opacity="0.7"/><circle cx="81.9" cy="198.1" r="0.8" fill="#1a5a26" opacity="0.7"/><circle cx="95.5" cy="212.1" r="0.8" fill="#1a5a26" opacity="0.7"/><circle cx="92.1" cy="192.4" r="0.8" fill="#1a5a26" opacity="0.7"/><circle cx="77" cy="190.6" r="0.9" fill="#1a5a26" opacity="0.7"/><circle cx="96.1" cy="177.1" r="0.7" fill="#1a5a26" opacity="0.7"/><circle cx="85" cy="166.6" r="0.5" fill="#1a5a26" opacity="0.7"/><circle cx="55.5" cy="213.3" r="0.5" fill="#1a5a26" opacity="0.7"/><circle cx="80.3" cy="191.9" r="0.8" fill="#1a5a26" opacity="0.7"/><circle cx="52.7" cy="205.6" r="0.5" fill="#1a5a26" opacity="0.7"/><circle cx="105.6" cy="186.9" r="0.4" fill="#1a5a26" opacity="0.7"/><circle cx="88.4" cy="208.8" r="0.6" fill="#1a5a26" opacity="0.7"/><circle cx="93.6" cy="174.8" r="0.6" fill="#1a5a26" opacity="0.7"/><circle cx="82.3" cy="196.9" r="0.5" fill="#1a5a26" opacity="0.7"/><circle cx="61.3" cy="211.9" r="0.8" fill="#1a5a26" opacity="0.7"/><circle cx="93.8" cy="211.7" r="0.5" fill="#1a5a26" opacity="0.7"/><circle cx="71.3" cy="183.2" r="0.6" fill="#1a5a26" opacity="0.7"/><circle cx="99.2" cy="180.3" r="0.5" fill="#1a5a26" opacity="0.7"/><circle cx="68.5" cy="200" r="0.9" fill="#1a5a26" opacity="0.7"/><circle cx="79.1" cy="230.3" r="0.5" fill="#1a5a26" opacity="0.7"/><circle cx="82.1" cy="189.3" r="0.7" fill="#1a5a26" opacity="0.7"/><circle cx="107.1" cy="202.3" r="0.8" fill="#1a5a26" opacity="0.7"/><circle cx="85.3" cy="229.6" r="0.5" fill="#1a5a26" opacity="0.7"/><circle cx="60.8" cy="186" r="0.9" fill="#1a5a26" opacity="0.7"/><circle cx="81.9" cy="200.6" r="0.8" fill="#1a5a26" opacity="0.7"/><circle cx="71.9" cy="178.3" r="0.6" fill="#1a5a26" opacity="0.7"/><circle cx="79.6" cy="214.1" r="0.9" fill="#1a5a26" opacity="0.7"/><circle cx="74.8" cy="200.5" r="0.8" fill="#1a5a26" opacity="0.7"/><circle cx="62" cy="198" r="0.5" fill="#1a5a26" opacity="0.7"/><circle cx="93" cy="189.7" r="0.5" fill="#1a5a26" opacity="0.7"/><circle cx="74" cy="213.8" r="0.5" fill="#1a5a26" opacity="0.7"/><circle cx="78.8" cy="189.2" r="0.8" fill="#1a5a26" opacity="0.7"/><circle cx="90.1" cy="223.5" r="0.5" fill="#1a5a26" opacity="0.7"/><circle cx="58.6" cy="186.4" r="0.5" fill="#1a5a26" opacity="0.7"/><circle cx="87.5" cy="165.7" r="0.5" fill="#1a5a26" opacity="0.7"/><circle cx="83.2" cy="198.4" r="0.8" fill="#1a5a26" opacity="0.7"/><circle cx="96.8" cy="192.4" r="0.6" fill="#1a5a26" opacity="0.7"/><circle cx="85.1" cy="189.3" r="0.4" fill="#1a5a26" opacity="0.7"/><circle cx="63" cy="184.1" r="0.7" fill="#1a5a26" opacity="0.7"/><circle cx="73.7" cy="185" r="0.9" fill="#1a5a26" opacity="0.7"/><circle cx="69.5" cy="169.7" r="0.6" fill="#1a5a26" opacity="0.7"/><circle cx="83.4" cy="205.6" r="0.8" fill="#1a5a26" opacity="0.7"/><circle cx="67.1" cy="199.1" r="0.7" fill="#1a5a26" opacity="0.7"/><circle cx="65.5" cy="175.3" r="0.8" fill="#1a5a26" opacity="0.7"/><circle cx="75.8" cy="207" r="0.9" fill="#1a5a26" opacity="0.7"/><circle cx="106.4" cy="220.2" r="0.7" fill="#1a5a26" opacity="0.7"/><circle cx="79.8" cy="199.9" r="0.5" fill="#1a5a26" opacity="0.7"/><circle cx="65.7" cy="212.3" r="0.9" fill="#1a5a26" opacity="0.7"/><circle cx="89" cy="200.8" r="0.5" fill="#1a5a26" opacity="0.7"/><circle cx="75.5" cy="187.3" r="0.7" fill="#1a5a26" opacity="0.7"/><circle cx="105.9" cy="208.9" r="0.6" fill="#1a5a26" opacity="0.7"/><circle cx="71.6" cy="208.4" r="0.4" fill="#1a5a26" opacity="0.7"/><circle cx="61.5" cy="197.2" r="0.6" fill="#1a5a26" opacity="0.7"/><circle cx="86.8" cy="169.6" r="0.7" fill="#1a5a26" opacity="0.7"/><circle cx="79.3" cy="221.5" r="0.6" fill="#1a5a26" opacity="0.7"/><circle cx="89.9" cy="203.9" r="0.9" fill="#1a5a26" opacity="0.7"/><circle cx="56.1" cy="181.8" r="0.7" fill="#1a5a26" opacity="0.7"/><circle cx="88.5" cy="185.8" r="0.8" fill="#1a5a26" opacity="0.7"/><circle cx="102.7" cy="199.3" r="0.9" fill="#1a5a26" opacity="0.7"/><circle cx="93.1" cy="201.5" r="1" fill="#1a5a26" opacity="0.7"/><circle cx="104" cy="215.5" r="0.9" fill="#1a5a26" opacity="0.7"/><circle cx="87.9" cy="228.5" r="0.5" fill="#1a5a26" opacity="0.7"/><circle cx="68.1" cy="205.9" r="0.5" fill="#1a5a26" opacity="0.7"/><circle cx="56.8" cy="217.2" r="0.5" fill="#1a5a26" opacity="0.7"/><circle cx="64.7" cy="197.6" r="0.4" fill="#1a5a26" opacity="0.7"/><circle cx="52.8" cy="208.8" r="0.9" fill="#1a5a26" opacity="0.7"/><circle cx="94.4" cy="217.5" r="0.6" fill="#1a5a26" opacity="0.7"/><circle cx="98.6" cy="185.3" r="0.5" fill="#1a5a26" opacity="0.7"/><circle cx="77.7" cy="219.6" r="0.8" fill="#1a5a26" opacity="0.7"/><circle cx="85.8" cy="167" r="0.4" fill="#1a5a26" opacity="0.7"/><circle cx="102.5" cy="172.7" r="0.7" fill="#1a5a26" opacity="0.7"/><circle cx="64.3" cy="221.4" r="0.7" fill="#1a5a26" opacity="0.7"/><circle cx="80.7" cy="166.3" r="0.9" fill="#1a5a26" opacity="0.7"/><circle cx="66.3" cy="199.3" r="0.4" fill="#1a5a26" opacity="0.7"/><circle cx="112.7" cy="209.4" r="0.7" fill="#1a5a26" opacity="0.7"/><circle cx="112.8" cy="204.9" r="0.5" fill="#1a5a26" opacity="0.7"/><circle cx="77.5" cy="178.5" r="0.9" fill="#1a5a26" opacity="0.7"/><circle cx="101.6" cy="188.3" r="0.7" fill="#1a5a26" opacity="0.7"/><circle cx="83.3" cy="196.9" r="0.7" fill="#1a5a26" opacity="0.7"/><circle cx="91.4" cy="174.6" r="0.5" fill="#1a5a26" opacity="0.7"/><circle cx="57.8" cy="179.8" r="0.8" fill="#1a5a26" opacity="0.7"/><circle cx="64.1" cy="210.9" r="0.5" fill="#1a5a26" opacity="0.7"/><circle cx="108.3" cy="197" r="0.6" fill="#1a5a26" opacity="0.7"/><circle cx="65.4" cy="204.1" r="0.9" fill="#1a5a26" opacity="0.7"/><circle cx="112.1" cy="200.9" r="0.9" fill="#1a5a26" opacity="0.7"/><circle cx="80" cy="188.1" r="0.8" fill="#1a5a26" opacity="0.7"/><circle cx="53.6" cy="212.4" r="0.8" fill="#1a5a26" opacity="0.7"/><circle cx="58.6" cy="205.6" r="1" fill="#1a5a26" opacity="0.7"/><circle cx="96.2" cy="173.3" r="0.8" fill="#1a5a26" opacity="0.7"/><circle cx="65.3" cy="172.1" r="0.8" fill="#1a5a26" opacity="0.7"/><circle cx="53.6" cy="193.5" r="0.7" fill="#1a5a26" opacity="0.7"/><circle cx="51.4" cy="207.1" r="0.6" fill="#1a5a26" opacity="0.7"/><circle cx="70.3" cy="183.6" r="0.7" fill="#1a5a26" opacity="0.7"/><circle cx="78" cy="193.3" r="0.9" fill="#1a5a26" opacity="0.7"/><circle cx="102.7" cy="216.2" r="0.6" fill="#1a5a26" opacity="0.7"/><circle cx="97.9" cy="191.4" r="0.5" fill="#1a5a26" opacity="0.7"/><circle cx="68.4" cy="222.2" r="0.8" fill="#1a5a26" opacity="0.7"/><circle cx="93.6" cy="227.6" r="0.8" fill="#1a5a26" opacity="0.7"/><circle cx="61.9" cy="194.9" r="0.9" fill="#1a5a26" opacity="0.7"/><circle cx="79.7" cy="192.5" r="0.7" fill="#1a5a26" opacity="0.7"/><circle cx="105.9" cy="187.8" r="0.9" fill="#1a5a26" opacity="0.7"/><circle cx="112.8" cy="188" r="0.6" fill="#1a5a26" opacity="0.7"/><circle cx="85.1" cy="198.6" r="1" fill="#1a5a26" opacity="0.7"/><circle cx="64.6" cy="204.9" r="0.5" fill="#1a5a26" opacity="0.7"/><circle cx="84.8" cy="167.7" r="0.8" fill="#1a5a26" opacity="0.7"/><circle cx="60.3" cy="208.3" r="0.8" fill="#1a5a26" opacity="0.7"/><circle cx="83.1" cy="197.7" r="0.8" fill="#1a5a26" opacity="0.7"/><circle cx="101.8" cy="205.3" r="0.8" fill="#1a5a26" opacity="0.7"/><circle cx="70" cy="219.9" r="0.5" fill="#1a5a26" opacity="0.7"/><circle cx="88" cy="172" r="0.4" fill="#1a5a26" opacity="0.7"/><circle cx="97.5" cy="174.5" r="0.9" fill="#1a5a26" opacity="0.7"/><circle cx="103.8" cy="173.1" r="0.6" fill="#1a5a26" opacity="0.7"/><circle cx="80.8" cy="165.1" r="0.7" fill="#1a5a26" opacity="0.7"/><circle cx="77.2" cy="222.4" r="0.5" fill="#1a5a26" opacity="0.7"/><circle cx="108.6" cy="203.4" r="0.5" fill="#1a5a26" opacity="0.7"/><circle cx="104.3" cy="204" r="0.9" fill="#1a5a26" opacity="0.7"/><circle cx="97.2" cy="171.3" r="0.6" fill="#1a5a26" opacity="0.7"/><circle cx="106.6" cy="184.9" r="0.8" fill="#1a5a26" opacity="0.7"/><ellipse cx="84" cy="212" rx="3" ry="9" transform="rotate(15 84 212)" fill="#070a08" opacity="0.9"/><ellipse cx="100" cy="224" rx="6" ry="3" transform="rotate(20 100 224)" fill="#070a08" opacity="0.9"/><ellipse cx="72" cy="200" rx="4" ry="3" transform="rotate(0 72 200)" fill="#070a08" opacity="0.9"/><ellipse cx="96" cy="192" rx="5" ry="3" transform="rotate(10 96 192)" fill="#070a08" opacity="0.9"/><ellipse cx="110" cy="196" rx="2.5" ry="4" transform="rotate(0 110 196)" fill="#070a08" opacity="0.9"/><ellipse cx="60" cy="214" rx="3" ry="5" transform="rotate(0 60 214)" fill="#070a08" opacity="0.9"/><ellipse cx="92" cy="218" rx="3" ry="4" transform="rotate(0 92 218)" fill="#070a08" opacity="0.9"/><ellipse cx="76" cy="188" rx="4" ry="2" transform="rotate(0 76 188)" fill="#070a08" opacity="0.9"/></g><path d="M52,218 C53,204 56,192 61,185 C65,180 72,179 80,180 C90,182 100,185 108,186 C112,188 115,193 116,200" stroke="#8a8a8a" stroke-width="3" fill="none"/><path d="M52,216 C53,204 56,192 61,185 C65,180 72,179 80,180 C90,182 100,185 108,186" stroke="#d8d8d8" stroke-width="1" fill="none"/><path d="M50,222 C56,226 62,230 70,232" stroke="#666" stroke-width="2.2" fill="none"/><circle cx="107" cy="187" r="1.8" fill="#f0f0f0"/></g><circle cx="83" cy="198" r="34" fill="none" stroke="#050505" stroke-width="2.6"/><path d="M56,220 A34,34 0 0 0 95,230" stroke="#5a5a5a" stroke-width="1.2" fill="none" opacity="0.7"/><circle cx="92.4" cy="170" r="1.6" fill="#fff"/><line x1="92.4" y1="130.5" x2="92.4" y2="168.5" stroke="#7d7d7d" stroke-width="1.7"/><path d="M150.5,197 C160,196.5 168,195 172.5,193.8 L184.8,183.8 L206.7,204.8 L184.8,226.7 L172.5,216.2 C167,214.5 160,213.5 150.5,213.3 Z" fill="url(#arrG)"/><path d="M201.5,288 C200.5,296 201,303 202,312 C203,320 206,323 212,323.5 L432,327.5 C438,327.5 441,324 441,318 L440.5,300 C440,296 438,294 436,294 L205,287 Z" fill="#62c03c" stroke="#3f9a2c" stroke-width="1"/><path d="M199,278 C201,274.5 205,272.8 212,272.6 C230,273.5 245,274.5 257,274.5 C280,273.5 300,272 316,272.5 C340,273.5 360,276 379,276.5 C400,277 420,277 430,278.5 C436,279.5 438,282 438.5,286 L439.5,300.5 C420,300.5 400,299.5 380,299 C340,298.5 300,297.5 260,296.5 C240,296 225,296 212,297.5 C207,296 203,294 202,292 C200,287 199,282 199,278 Z" fill="url(#darkL)"/><rect x="211.5" y="299.8" width="33" height="21" rx="6" fill="#c4e5bd" stroke="#114a1a" stroke-width="2.4"/><rect x="246.6" y="300" width="33.4" height="21" rx="6" fill="#c4e5bd" stroke="#114a1a" stroke-width="2.4"/><rect x="282" y="301" width="65" height="24" rx="6" fill="#c4e5bd" stroke="#114a1a" stroke-width="2.4"/><rect x="349.3" y="303.5" width="52.4" height="21.5" rx="6" fill="#c4e5bd" stroke="#114a1a" stroke-width="2.4"/><rect x="405.5" y="305" width="30" height="20.5" rx="6" fill="#c4e5bd" stroke="#114a1a" stroke-width="2.4"/><path d="M390,198.6 C410,198.3 428,196 439.5,192.9 L451,183.3 L473.8,204.3 L451,227 L439.5,218.6 C428,215 410,212.3 390,212 Z" fill="url(#arrG)"/><ellipse cx="318" cy="201.2" rx="78" ry="56.8" fill="#94a6e4" stroke="#4d5c8c" stroke-width="2"/><g clip-path="url(#sphClip)" fill="none" stroke="#1a3888" stroke-width="1.9" stroke-linecap="round"><path d="M372.2,231.9 C372.3,230.4 371.5,225.6 372.7,222.9 C373.8,220.2 377,218.2 379.1,215.7 C381.1,213.3 382.7,210.6 385,208.3 C387.3,206.1 391.2,204.7 392.8,202.2 C394.5,199.7 394.4,196.3 394.9,193.4 C395.4,190.4 396.8,187.1 395.9,184.4 C395,181.7 391.7,179.6 389.7,177.1 C387.8,174.6 384.7,172.2 384.2,169.4 C383.7,166.7 386.3,162.1 386.7,160.6"/><path d="M302.2,195.8 C301.6,194.5 298.7,190.7 298.6,188.1 C298.4,185.5 301.7,182.6 301.3,180.1 C300.8,177.6 298.4,174.4 295.8,173.2 C293.3,172 288.8,173.9 286.1,172.8 C283.3,171.7 281.3,169 279.3,166.8 C277.3,164.6 275,160.9 274.1,159.7"/><path d="M324.2,185.9 C325.2,186.9 327.6,190.7 330.1,191.7 C332.6,192.7 336.2,191.4 339.1,191.9 C342,192.4 344.7,193.8 347.5,194.4 C350.4,195 353.5,195.1 356.4,195.6 C359.4,196.1 363,196 365.1,197.5 C367.2,198.9 367,202.8 369.1,204.3 C371.2,205.8 374.8,206.4 377.7,206.5 C380.6,206.6 383.6,204.8 386.5,204.9 C389.4,205 393.6,206.8 395,207.2"/><path d="M322.3,181.6 C323.1,182.5 324.8,186.3 326.9,187.2 C329.1,188.2 332.4,186.8 335,187.2 C337.6,187.6 340,189.5 342.6,189.7 C345.2,189.8 348.1,187.8 350.5,188.2 C352.9,188.7 354.6,192 357,192.4 C359.4,192.8 362.3,191.5 364.8,190.7 C367.3,189.8 369.4,188 371.9,187.4 C374.4,186.8 378.6,186.9 380,186.8"/><path d="M326.9,214.8 C328.2,215 333,215 334.9,216.3 C336.8,217.6 337.9,220.4 338.3,222.6 C338.8,224.8 336.9,227.5 337.6,229.6 C338.3,231.6 340.6,233.7 342.8,235 C344.9,236.4 347.9,237.7 350.4,237.6 C352.9,237.6 356.3,236.4 357.9,234.8 C359.5,233.3 358.7,230 360.2,228.1 C361.6,226.3 365.1,225.5 366.5,223.6 C367.8,221.8 368,218 368.3,216.8"/><path d="M296.8,212.5 C295.3,212.3 290.7,211.6 287.6,211.4 C284.5,211.3 281.1,210.8 278.2,211.6 C275.4,212.4 272.6,214.1 270.5,216 C268.5,217.9 268.2,221.7 265.9,223 C263.6,224.3 259.6,224.3 256.6,223.9 C253.7,223.4 251.3,220.9 248.4,220.1 C245.5,219.4 240.7,219.5 239.1,219.3"/><path d="M301.9,240 C301.9,241.2 300.9,245 301.6,247.3 C302.3,249.6 304,251.9 306,253.6 C308,255.3 311.5,255.7 313.4,257.5 C315.2,259.2 315.6,262.1 317.3,264 C319,265.9 321.2,267.8 323.6,269 C326,270.3 330.3,271.1 331.7,271.5"/><path d="M298.1,207.8 C296.9,208.4 292.7,209.8 291.2,211.6 C289.7,213.4 290.1,216.2 289.2,218.4 C288.3,220.6 287.6,223.2 285.9,224.8 C284.1,226.4 280.3,226.4 278.6,228 C276.9,229.7 276.4,232.3 275.7,234.6 C275.1,236.8 274.9,240.4 274.7,241.5"/><path d="M276.7,213.1 C277.2,214.4 278.7,217.9 279.5,220.4 C280.3,222.8 281.3,225.3 281.4,227.8 C281.4,230.3 280,232.8 279.9,235.3 C279.7,237.8 280.2,240.3 280.4,242.9 C280.6,245.4 279.9,248.4 281.3,250.4 C282.6,252.4 285.8,254.5 288.5,254.9 C291.1,255.3 295.6,253.2 297.1,252.9"/><path d="M349.1,174.3 C347.8,174 343.7,172.7 341.1,172.9 C338.6,173.2 336.4,175.5 333.8,176 C331.3,176.5 327.9,175.2 325.7,176.1 C323.5,177 321.6,179.4 320.5,181.4 C319.5,183.4 319.9,186 319.3,188.2 C318.8,190.5 317.5,193.8 317.2,194.9"/><path d="M314.3,179.2 C313.1,180 308.8,181.9 307.4,184 C306,186 306.1,188.9 306.1,191.4 C306,193.9 307.9,196.6 307.1,198.9 C306.4,201.1 304.1,203.9 301.7,204.8 C299.3,205.7 295.7,204.9 292.9,204.4 C290,203.9 286,202.2 284.6,201.7"/><path d="M382.4,198.2 C383.2,199.4 386,202.8 387.4,205.3 C388.8,207.8 388.7,211.3 390.8,213.1 C392.8,214.9 396.9,216.3 399.9,216.2 C402.8,216 406,213.9 408.5,212.2 C411,210.5 413.8,208.3 414.8,205.9 C415.8,203.4 415.8,199.8 414.5,197.6 C413.2,195.3 408.2,193.2 407,192.3"/><path d="M354,245 C354.5,243.7 354.9,239.1 356.8,237.2 C358.7,235.3 362.9,235.2 365.5,233.7 C368.2,232.1 370,229.5 372.6,228.1 C375.3,226.7 378.7,225.1 381.6,225.2 C384.6,225.2 388.3,226.7 390.4,228.6 C392.5,230.4 392.6,233.7 394.1,236.1 C395.6,238.5 398.4,240.5 399.3,243 C400.1,245.6 400.2,248.9 399.1,251.2 C398,253.6 393.7,256.3 392.6,257.3"/><path d="M300.1,210.1 C301.3,211.1 306.3,213.7 307.1,216 C308,218.4 306.8,222.1 305.2,224.2 C303.5,226.4 300.1,228 297.1,229.1 C294.1,230.1 290.5,229.6 287.3,230.4 C284.2,231.1 281.3,233.1 278.2,233.5 C275,233.9 270,232.8 268.3,232.7"/><path d="M324.9,200.1 C324.4,198.8 322.6,195.1 321.9,192.6 C321.2,190 320.1,187 321,184.7 C321.9,182.4 325.8,181.1 327.2,178.8 C328.7,176.6 330.2,173.4 329.6,171.2 C328.9,168.9 325.8,166.8 323.4,165.2 C320.9,163.7 317.5,163.3 315,161.8 C312.5,160.3 311.1,157.3 308.5,156.1 C305.9,154.9 302.3,154.2 299.4,154.5 C296.5,154.8 292.4,157.3 291,157.9"/><path d="M309.2,244.1 C307.7,243.5 303.2,241.5 300.1,240.5 C297,239.5 293.2,239.5 290.6,238 C288,236.4 285.2,233.8 284.5,231.3 C283.8,228.7 284.6,225.1 286.2,222.9 C287.8,220.7 291.8,219.8 294.2,217.8 C296.6,215.9 298.3,213.3 300.6,211.3 C303,209.3 306.2,208 308.3,205.8 C310.3,203.7 312.2,199.6 313,198.4"/><path d="M307.8,220.6 C308.1,221.7 309.8,225.3 309.5,227.6 C309.2,229.8 306.1,231.8 306,234 C305.8,236.3 307.7,238.6 308.7,240.8 C309.8,243 312.1,245.2 312,247.4 C311.9,249.5 310.2,252.2 308.3,253.8 C306.4,255.4 303.1,255.6 300.7,256.9 C298.4,258.2 295.3,260.7 294.2,261.4"/><path d="M350.9,238.6 C349.4,239.3 344.5,240.7 341.9,242.5 C339.4,244.2 338.1,247.2 335.8,249.2 C333.5,251.3 331,253.3 328.2,254.7 C325.3,256.1 321.5,256.1 318.8,257.6 C316,259.1 313.6,261.3 311.6,263.6 C309.7,265.8 308.8,268.8 306.9,271.1 C304.9,273.3 302.2,275.2 299.7,277 C297.2,278.9 294.6,280.8 291.7,282.1 C288.8,283.5 283.9,284.7 282.3,285.2"/><path d="M300,183.2 C298.8,182.4 295,180 292.9,178.1 C290.8,176.1 288.9,173.9 287.6,171.5 C286.2,169.2 284.8,166.4 284.8,163.9 C284.9,161.4 285.8,158 287.8,156.4 C289.7,154.7 293.6,154.1 296.6,153.7 C299.6,153.3 303.1,154.7 306,154 C308.8,153.3 311.3,151.2 313.9,149.7 C316.5,148.2 319.8,147.1 321.5,145.1 C323.3,143.1 323.9,138.8 324.4,137.5"/><path d="M320.4,178 C320.8,176.6 321,171.6 323,169.6 C325,167.6 329.3,167.2 332.4,166.1 C335.5,164.9 338.8,162.3 341.8,162.5 C344.8,162.7 347.2,166.6 350.4,167.3 C353.5,167.9 357.5,165.7 360.6,166.4 C363.7,167 367.7,170.4 369.1,171.2"/><path d="M347.6,212 C346.2,212.1 341.7,213.1 339.3,212.3 C337,211.5 335.6,208.8 333.5,207.4 C331.3,205.9 328.6,205.1 326.3,203.8 C324.1,202.5 321.1,201.3 319.9,199.4 C318.6,197.5 318.3,194.7 318.7,192.5 C319.1,190.3 320.4,187.5 322.3,186.2 C324.2,184.8 329,184.8 330.3,184.6"/><path d="M373.7,233.8 C375.1,234.1 379.4,235.4 382.3,235.8 C385.3,236.2 388.7,236.9 391.3,236.1 C393.9,235.2 396,232.8 397.7,230.7 C399.3,228.6 399.2,225.1 401.2,223.7 C403.3,222.3 407.4,221.6 410,222.1 C412.7,222.6 414.5,225.7 417.1,226.7 C419.8,227.7 423.3,227.1 426,228.1 C428.7,229.1 430.7,232.2 433.3,232.5 C435.9,232.8 440.3,230.3 441.7,229.9"/><path d="M307.2,197.1 C307.8,196.1 309.2,192.5 311.1,191.1 C313,189.7 316.3,189.7 318.8,188.8 C321.3,187.9 324.6,187.3 326,185.7 C327.4,184 326.8,181.1 327.3,178.9 C327.9,176.6 328.1,174.2 329.2,172.2 C330.3,170.1 333.1,167.4 333.8,166.5"/><path d="M320.8,220.6 C322.1,219.8 325.7,217.1 328.6,216.1 C331.4,215 334.7,214.2 337.7,214.3 C340.8,214.4 343.7,216.1 346.7,216.7 C349.8,217.3 353,217.5 356,218.1 C359.1,218.7 362.6,218.9 365,220.4 C367.4,221.9 368.8,224.7 370.4,226.9 C372.1,229.2 374.1,232.8 374.9,234"/><path d="M370.2,207.6 C368.6,207.7 363.4,208.9 360.7,208.1 C357.9,207.2 356.4,203.7 353.6,202.5 C350.9,201.4 346.8,202.5 344.2,201.2 C341.6,200 338.7,197.4 338,195 C337.3,192.7 339.4,189.7 340.2,187.1 C341,184.5 341.7,181.8 342.8,179.3 C343.9,176.8 346.1,173.1 346.7,171.9"/><path d="M309.6,202.9 C311,202.4 315.3,199.5 318,199.6 C320.7,199.8 323,203.3 325.9,203.7 C328.7,204.1 332.6,203.5 334.9,202.1 C337.2,200.7 339.1,197.8 339.7,195.4 C340.3,193 337.8,189.8 338.6,187.6 C339.5,185.3 342.9,183.8 344.9,181.8 C346.9,179.8 349.6,176.7 350.5,175.6"/><path d="M313.9,160 C315.3,159.5 319.4,158.3 322.2,157.4 C324.9,156.4 327.9,155.8 330.3,154.4 C332.7,153.1 335.3,151.3 336.6,149.2 C337.9,147.1 337.3,144.2 338.2,141.8 C339.1,139.5 339.8,136.5 341.8,135 C343.8,133.5 348.1,134.2 350.2,132.8 C352.4,131.4 352.6,128 354.7,126.3 C356.7,124.7 361,124.7 362.5,122.9 C364,121 363.5,116.7 363.7,115.4"/><path d="M352,172.9 C350.6,172.7 345.9,172.8 343.6,171.7 C341.3,170.6 339.7,168.2 338.1,166.2 C336.6,164.3 335.1,162.1 334.4,159.8 C333.8,157.5 333.7,154.9 334.2,152.6 C334.7,150.3 335.6,147.5 337.4,145.9 C339.2,144.3 343.5,144.6 345.1,142.9 C346.6,141.2 346.3,137 346.6,135.8"/><path d="M335.6,205.2 C334,205.7 328.5,206.6 325.8,208.3 C323.1,209.9 321.6,213 319.4,215.3 C317.2,217.6 314.9,219.9 312.3,221.9 C309.8,223.9 305.7,225 304,227.3 C302.3,229.7 303.9,233.9 302.1,236.1 C300.3,238.3 296.4,239.6 293.2,240.8 C290.1,242 286.3,242.1 283.2,243.4 C280.1,244.7 276.6,246.2 274.6,248.5 C272.6,250.7 271.8,255.5 271.2,256.9"/><path d="M297.1,214.8 C297.4,216.3 297.3,221.3 299.1,223.7 C300.8,226.1 304.4,228.5 307.6,229.2 C310.7,229.9 314.7,228.5 318.1,227.6 C321.5,226.8 324.7,225.5 327.9,224.1 C331.1,222.8 333.9,219.8 337.1,219.6 C340.3,219.3 343.9,221.6 347.1,222.7 C350.4,223.9 354,224.8 356.8,226.6 C359.6,228.4 362.6,232.3 363.8,233.4"/><path d="M272.5,221.1 C273.4,220 276,216.8 277.8,214.6 C279.5,212.5 280.8,209.8 283.1,208.2 C285.3,206.6 288.6,206 291.4,204.9 C294.2,203.8 296.8,202.2 299.8,201.6 C302.7,201 306.2,202 308.9,201.1 C311.7,200.2 314.8,198.3 316.1,196.1 C317.3,194 316.3,189.6 316.3,188.3"/><path d="M357.8,213.5 C356.8,214.2 352.9,216.2 351.9,218.1 C350.8,220 350.7,222.8 351.4,224.9 C352,227 353.8,229.3 355.9,230.6 C357.9,231.9 361,232.4 363.6,232.6 C366.2,232.8 368.9,231.6 371.6,231.7 C374.2,231.7 378.2,232.8 379.5,233.1"/><path d="M330.4,180.1 C329.4,181 326.3,183.4 324.7,185.4 C323.2,187.3 321.5,189.6 321.1,191.8 C320.7,194.1 321.5,196.6 322.2,198.9 C322.9,201.2 324.7,203.2 325.4,205.5 C326.1,207.8 325,210.8 326.4,212.6 C327.7,214.4 332.4,215.6 333.6,216.2"/><path d="M311,227.3 C312.2,228 315.9,229.9 318.3,231.2 C320.7,232.5 322.9,234.9 325.4,235.1 C327.9,235.4 330.7,232.4 333.3,232.4 C335.9,232.4 339.1,233.7 341.2,235.2 C343.3,236.7 344.8,239.1 345.8,241.3 C346.8,243.6 347.7,246.3 347.1,248.5 C346.6,250.7 343.3,253.6 342.6,254.7"/><path d="M271,210.3 C270.4,209 269.6,204.5 267.6,202.6 C265.5,200.7 261.2,200.8 258.8,199.1 C256.4,197.4 255.5,193.9 253,192.5 C250.4,191 245.8,192 243.5,190.5 C241.3,188.9 241.5,184.8 239.3,183.1 C237,181.3 233.4,180.6 230.2,180 C227.1,179.4 223.8,179.9 220.5,179.7 C217.3,179.4 214.1,178.7 210.9,178.7 C207.7,178.7 202.9,179.7 201.3,179.9"/><path d="M311.6,212 C310.7,213.3 306.6,217.1 306.5,219.6 C306.4,222.2 309.2,225.1 311.1,227.5 C313.1,229.8 316.2,231.5 318.2,233.8 C320.1,236.2 321.7,238.9 322.9,241.6 C324,244.3 323.6,247.7 325.2,250.1 C326.8,252.6 331.3,254 332.3,256.5 C333.3,259 332,262.4 331,265.2 C330.1,267.9 327.5,270.2 326.5,273 C325.5,275.8 325.3,280.2 325.1,281.7"/><path d="M323,188.9 C322.6,187.5 320.4,183.6 320.4,180.9 C320.4,178.3 320.9,174.7 322.8,172.9 C324.7,171.1 329.9,171.8 331.9,170 C333.8,168.2 333.2,164.6 334.3,162 C335.5,159.5 336.8,156.7 338.9,154.7 C340.9,152.7 344.8,152 346.8,150 C348.9,148 350.1,145.2 351.3,142.7 C352.5,140.1 354.4,137.2 354,134.7 C353.5,132.3 349.3,129.1 348.3,128"/><path d="M283.9,183.5 C282.4,184.2 278.2,187.1 275.1,187.5 C272,187.8 268.4,185.2 265.4,185.7 C262.4,186.2 259.8,188.8 257.2,190.5 C254.5,192.2 252.4,194.5 249.6,196 C246.8,197.5 243.6,198.4 240.5,199.4 C237.4,200.4 234.3,201.7 231.1,202.1 C227.8,202.5 222.8,202 221.1,201.9"/><path d="M384.7,188.4 C385.7,187.5 388.6,184.5 390.9,182.7 C393.2,181 396,179.8 398.3,178.2 C400.6,176.5 402.7,174.6 404.9,172.7 C407,170.9 409.8,169.4 411.4,167.2 C413,165.1 413.8,162.5 414.6,160 C415.4,157.5 415.8,153.5 416,152.3"/><path d="M285.4,218.1 C284.5,219.1 281.2,222 280,224.2 C278.7,226.5 277.2,229.6 277.8,231.8 C278.5,234 281.5,236.1 284,237.5 C286.4,238.9 289.9,240.3 292.6,240 C295.3,239.7 298.4,237.6 300.1,235.7 C301.8,233.7 301.2,230.4 302.8,228.3 C304.3,226.1 307.4,224.9 309.3,222.9 C311.2,220.9 313.5,217.5 314.3,216.4"/><path d="M379.6,193.2 C381,192.3 384.9,189.5 387.6,187.8 C390.3,186 392.8,183.1 395.9,182.6 C398.9,182.1 402.8,183.4 405.8,184.7 C408.8,185.9 411,188.4 413.7,190.2 C416.4,192 420.7,193 422.1,195.3 C423.4,197.6 423,201.4 422,204 C420.9,206.6 418.1,208.8 415.8,210.9 C413.5,213.1 409.4,215.7 408.1,216.7"/><path d="M305.4,159 C305.4,160.1 305.2,163.6 305.6,165.9 C306,168.2 306.4,170.8 307.9,172.5 C309.5,174.3 312.4,175.1 314.9,176.2 C317.3,177.2 320,177.8 322.4,178.8 C324.8,179.9 327.1,181.2 329.1,182.7 C331.1,184.2 333.5,187.1 334.4,188"/><path d="M334.7,216.6 C335.4,217.7 337.5,221.2 339,223.4 C340.4,225.7 342,227.9 343.5,230.1 C345.1,232.3 346.1,234.9 348.1,236.8 C350,238.7 352.9,240 355.2,241.6 C357.6,243.2 360.8,244.4 362.3,246.4 C363.8,248.5 362.9,251.7 364.1,254 C365.3,256.3 368,258 369.6,260.2 C371.1,262.4 372.7,264.7 373.3,267.2 C373.9,269.7 373.2,273.6 373.1,274.9"/><path d="M335.3,185.6 C336.6,186.6 341.4,188.8 342.9,191.1 C344.3,193.4 342.4,197.3 344,199.5 C345.5,201.6 349.5,203.5 352.4,203.8 C355.4,204 359.1,202.5 361.8,201 C364.5,199.5 366.6,197.1 368.7,195 C370.8,192.8 372.3,190.2 374.5,188.2 C376.7,186.1 380.8,183.7 382.1,182.7"/><path d="M284.3,229.1 C285.6,229.7 290.5,230.8 292,232.5 C293.5,234.3 292.7,237.4 293.1,239.8 C293.5,242.3 293.6,244.8 294.5,247.1 C295.3,249.4 296.6,251.8 298.2,253.8 C299.9,255.7 302.3,257.3 304.3,259 C306.3,260.8 309.4,263.4 310.4,264.2"/><path d="M365,214.6 C365.7,216 366.9,220.6 368.9,222.9 C370.9,225.2 375.2,226.3 376.9,228.7 C378.7,231.1 378.2,234.6 379.5,237.4 C380.8,240.1 383.4,242.4 384.6,245.2 C385.8,247.9 387.6,251.4 386.7,253.9 C385.9,256.4 381.3,257.9 379.4,260.3 C377.4,262.7 375.7,267.1 375,268.4"/><path d="M298.1,156.7 C299.6,156.2 303.9,154.8 306.9,154 C309.8,153.3 312.9,153 316,152.4 C319,151.8 321.9,150.6 325,150.5 C328,150.3 331.1,151.7 334.2,151.5 C337.2,151.3 340.1,149.3 343.1,149.4 C346.1,149.4 349.2,151.9 352,151.5 C354.8,151.2 358.5,148 359.8,147.2"/><path d="M333.8,222.5 C333.3,221 330.6,216.4 331.1,213.6 C331.5,210.8 335.5,208.5 336.3,205.7 C337.1,202.8 335.3,199.5 335.7,196.6 C336.1,193.6 338.2,190.7 338.5,187.7 C338.8,184.8 336.5,181.3 337.5,178.7 C338.6,176 342.8,174.4 344.7,171.8 C346.5,169.3 347.9,164.8 348.6,163.3"/><path d="M380.8,194.2 C380.9,195.6 380.6,199.7 381,202.4 C381.4,205.1 383.8,208 383.2,210.5 C382.5,212.9 379.9,215.8 377.3,217.1 C374.7,218.3 370.6,217.2 367.7,218.2 C364.8,219.2 362.2,221.2 359.9,223.1 C357.6,225 355.6,227.2 354,229.6 C352.3,232 351.1,234.6 350.3,237.2 C349.5,239.9 349.2,242.7 349.2,245.4 C349.1,248.2 349.9,252.3 350.1,253.6"/><path d="M354.3,186.5 C355,187.9 356.3,192.5 358.5,194.6 C360.7,196.6 364.4,198.6 367.6,198.9 C370.7,199.2 374.2,197.2 377.5,196.2 C380.7,195.2 383.8,192.9 387,192.7 C390.3,192.6 394.2,193.8 396.9,195.4 C399.6,197 400.5,200.8 403.1,202.5 C405.8,204.2 409.7,205.9 412.8,205.7 C415.9,205.5 419.7,203.5 421.9,201.4 C424,199.3 425,194.5 425.7,193.2"/><path d="M328.3,216.1 C327.2,214.9 324.3,210.2 321.3,209 C318.3,207.7 313.5,207.6 310.4,208.6 C307.3,209.7 305.8,213.7 302.8,215.3 C299.8,216.9 295.8,218.4 292.5,218.2 C289.1,218 286.1,214.1 282.8,214 C279.5,213.8 276.1,216.5 272.6,217.2 C269.1,217.9 264.8,216.8 261.7,218 C258.6,219.3 255.4,223.6 254.1,224.7"/><path d="M275.5,230.2 C275.3,229 275.3,225.2 274.5,222.8 C273.7,220.5 270.7,218.3 270.7,216.1 C270.8,213.9 273.1,211.5 274.9,209.6 C276.6,207.6 279.2,206.3 281.4,204.6 C283.5,202.9 285.6,201.2 287.8,199.6 C290,198 292.1,196 294.6,194.9 C297.2,193.9 300.3,193.3 303.1,193.3 C306,193.2 309.5,193.4 311.7,194.6 C313.9,195.9 315.5,199.9 316.3,201"/><path d="M279,201.7 C280.7,201.4 287.1,201.8 289.1,200.1 C291.2,198.4 292.1,194.1 291.4,191.6 C290.6,189.1 285.2,187.5 284.6,185 C284,182.5 285.4,178.5 287.6,176.7 C289.7,174.9 294.8,175.8 297.5,174.3 C300.2,172.8 303.1,170.1 304,167.5 C304.8,165 302.6,161.7 302.7,158.9 C302.8,156 304.4,151.7 304.7,150.3"/><path d="M306,205.9 C307.1,205 309.9,201.7 312.4,200.5 C314.9,199.4 318.5,199.9 321.1,198.8 C323.7,197.7 326.7,196 328,193.9 C329.2,191.8 327,188.2 328.3,186.3 C329.7,184.4 333.5,182.5 336.1,182.5 C338.7,182.4 342.8,185.3 344.1,185.9"/><path d="M314.3,223.8 C315.1,224.7 317.9,227.3 319.3,229.2 C320.7,231.1 321.9,233.2 322.8,235.4 C323.7,237.5 323.9,239.8 324.5,242 C325.2,244.3 326,246.4 326.8,248.6 C327.5,250.8 328,253.1 328.8,255.2 C329.7,257.4 332.2,259.5 332,261.5 C331.8,263.6 328.9,265.3 327.8,267.4 C326.7,269.4 325.7,272.8 325.3,273.9"/><path d="M355.8,207.3 C354.2,207.8 349.2,210.6 346.4,210 C343.7,209.5 341.2,206.5 339.3,204.2 C337.4,202 335.6,199.2 335.3,196.6 C335,193.9 338.2,190.8 337.5,188.4 C336.8,186 331.7,184.7 330.8,182.2 C329.9,179.8 332,176.7 332,173.9 C332,171.1 331,167 330.8,165.6"/><path d="M343.1,196.4 C341.5,197.1 336.3,200.7 333.3,200.3 C330.4,200 327.4,196.6 325.3,194.2 C323.1,191.8 322.9,188 320.5,185.9 C318.1,183.8 313.9,181.4 310.9,181.6 C307.9,181.9 305.2,185.5 302.5,187.5 C299.8,189.5 296,192.8 294.6,193.8"/><path d="M293.2,198.8 C291.6,198.7 286.6,197.1 283.9,197.8 C281.2,198.6 279.6,202.6 276.9,203.1 C274.3,203.7 270.2,202.6 267.9,201.2 C265.5,199.7 265.2,195.8 262.8,194.5 C260.4,193.2 256.2,194.6 253.5,193.6 C250.7,192.7 248.3,190.5 246.3,188.6 C244.2,186.6 241.9,183.1 241,182"/><path d="M344.9,226.8 C346.3,226.8 350.7,226.1 353.4,226.6 C356,227.1 358.4,229.9 360.9,230 C363.3,230 365.9,227.8 368.3,226.6 C370.8,225.5 373.3,224.3 375.6,223 C378,221.7 381.4,219.6 382.6,218.9"/><path d="M287.9,183.7 C288,182.6 289.4,178.6 288.3,176.9 C287.2,175.2 283.8,174.4 281.3,173.5 C278.9,172.6 276.2,172.1 273.6,171.5 C271.1,170.8 267.5,171 265.9,169.5 C264.4,168.1 263.5,164.6 264.3,162.8 C265,161 268.9,160.3 270.6,158.6 C272.3,156.9 273.6,153.5 274.2,152.5"/><path d="M298.5,201.8 C297.3,202.3 292.5,203.1 291,204.8 C289.5,206.4 289.6,209.3 289.5,211.6 C289.3,213.9 289.7,216.3 290,218.6 C290.3,220.9 292.2,223.7 291.2,225.5 C290.3,227.3 286.9,229.1 284.5,229.5 C282,229.9 278.9,229 276.4,228.2 C273.9,227.4 271.7,224.4 269.4,224.5 C267.1,224.5 263.8,227.8 262.7,228.5"/><path d="M313.8,190.4 C315.2,189.6 319.2,186.1 322.3,185.7 C325.3,185.2 329.2,186.4 332.1,187.8 C334.9,189.1 338.4,191.4 339.3,193.8 C340.3,196.2 336.9,199.7 337.6,202.3 C338.4,204.8 342.3,206.6 343.9,209 C345.6,211.5 348,214.7 347.5,217.1 C347,219.6 343.8,222.2 341.1,223.8 C338.4,225.3 333,225.8 331.3,226.2"/><path d="M321,176.7 C321.2,178.2 321.2,182.7 322.5,185.4 C323.7,188 325.7,190.8 328.2,192.6 C330.8,194.4 334.4,195.1 337.6,196.2 C340.7,197.3 344.3,197.8 347.2,199.3 C350.1,200.7 352.3,203.1 355.1,204.8 C357.8,206.6 360.7,208.3 363.7,209.5 C366.8,210.7 372,211.6 373.6,212"/><path d="M279.5,215.7 C280.4,216.7 284.1,219.2 284.8,221.3 C285.5,223.4 284.3,226.1 283.6,228.4 C283,230.7 280.4,233 280.7,235.1 C281,237.2 283.5,239.6 285.7,240.9 C287.8,242.2 292.4,242.6 293.7,242.9"/><path d="M310,221.9 C311.9,221.8 318.1,222.5 321,221.1 C323.8,219.7 326.4,216.3 327.3,213.5 C328.2,210.7 328,206.7 326.4,204.2 C324.7,201.8 319.8,201 317.5,198.7 C315.2,196.4 314.3,193.1 312.5,190.4 C310.8,187.7 308,183.6 307.1,182.3"/><path d="M336.4,211.5 C335.8,210.2 332.3,205.9 332.9,203.6 C333.5,201.4 337.5,199.7 339.9,197.8 C342.4,195.9 345.7,194.6 347.5,192.4 C349.2,190.1 350.6,186.9 350.3,184.3 C350.1,181.7 348,178.9 346,176.8 C344,174.7 340.9,173.2 338.2,171.7 C335.4,170.1 332.3,169.1 329.6,167.6 C326.8,166 323,163.3 321.7,162.5"/><path d="M342,225.5 C341.9,226.8 342.8,231.5 341.4,233.5 C339.9,235.6 336,236.5 333.2,237.7 C330.4,239 327.1,239.5 324.5,241 C321.9,242.5 320,244.8 317.7,246.7 C315.5,248.6 312,250.1 310.9,252.4 C309.9,254.7 311.4,259.1 311.6,260.5"/><path d="M317.4,218.2 C316.2,219.4 312.9,223.2 310.1,225.1 C307.3,227.1 302.8,227.6 300.6,229.8 C298.5,232.1 296.6,236 297.2,238.7 C297.8,241.4 301.2,244.3 304.1,245.9 C307.1,247.5 311.3,247.3 314.7,248.4 C318.1,249.5 322.9,251.8 324.5,252.5"/><path d="M354.6,194.8 C354.1,196 351.3,199.7 351.6,202 C351.8,204.3 356,206.4 356.1,208.6 C356.2,210.9 353.7,213.3 352.3,215.5 C350.9,217.8 349.4,220 347.6,222.1 C345.9,224.1 344,226.1 341.9,228 C339.8,229.8 336.8,231 335.2,233.1 C333.7,235.2 333.2,239.2 332.9,240.4"/><path d="M282,225.4 C282.5,224.1 283.7,220 285,217.5 C286.2,214.9 287.2,211.7 289.5,210.1 C291.8,208.4 296.5,209.2 298.8,207.6 C301.2,206 301.9,202.7 303.7,200.4 C305.5,198 309.1,196.1 309.5,193.7 C309.8,191.2 308,187.3 305.8,185.9 C303.6,184.6 297.6,185.5 296,185.4"/><path d="M283.4,220.9 C285.1,220.5 289.9,218.6 293.3,218.2 C296.7,217.8 300.5,217.5 303.6,218.4 C306.7,219.4 308.8,223.1 311.8,223.8 C314.9,224.5 318.7,223.2 322,222.4 C325.3,221.6 329.9,221.2 331.7,219.2 C333.4,217.2 332.3,211.9 332.5,210.4"/><path d="M307.5,193.2 C306.3,193.8 301.6,195.2 300.5,197 C299.4,198.9 301.8,202 301.1,204.1 C300.4,206.3 298.4,208.5 296.3,209.9 C294.3,211.4 291.3,212.7 288.7,212.9 C286.1,213.1 283.4,211.4 280.6,211.1 C277.9,210.7 275.1,210.9 272.3,210.9 C269.5,210.8 266.2,209.8 263.9,210.7 C261.7,211.6 259.8,215.5 259,216.4"/><path d="M327.1,216.5 C327.1,215.2 325.5,210.5 326.9,208.6 C328.3,206.8 332.6,205.5 335.4,205.5 C338.2,205.5 342,206.9 343.9,208.6 C345.8,210.4 345.5,213.7 346.7,216.1 C348,218.5 349.7,220.7 351.4,222.9 C353.2,225 355.6,226.8 357.3,228.9 C359.1,231 361.2,234.5 362,235.7"/><path d="M309.9,230.7 C310.9,231.7 315.4,234.6 316,237 C316.5,239.3 315,242.6 313.4,244.8 C311.8,247 308.9,248.7 306.3,250.3 C303.7,251.9 300.9,253.7 297.9,254.2 C294.9,254.8 291.5,253.1 288.4,253.4 C285.3,253.8 282.5,255.7 279.5,256.4 C276.4,257.1 271.6,257.4 270,257.6"/><path d="M347,187 C348.4,186.7 353.5,186.7 355.5,185.3 C357.5,183.9 356.9,179.8 358.8,178.4 C360.8,177.1 364.5,177.4 367.4,177 C370.3,176.7 373.3,176.1 376.1,176.4 C379,176.6 383.1,178.1 384.5,178.5"/><path d="M349.4,195.3 C347.8,195.9 343.1,198.2 339.7,198.9 C336.2,199.6 332.5,198.9 329,199.3 C325.5,199.7 321.1,199.7 318.7,201.4 C316.2,203.1 314,207 314.2,209.6 C314.5,212.2 318.3,214.6 320.2,217.1 C322.1,219.6 324.8,223.5 325.7,224.8"/></g><circle cx="339.5" cy="154.7" r="3" fill="#f5a22e" stroke="#e88a28" stroke-width="0.6"/><circle cx="284.5" cy="162.6" r="3" fill="#f5a22e" stroke="#e88a28" stroke-width="0.6"/><circle cx="321" cy="165.7" r="3" fill="#f5a22e" stroke="#e88a28" stroke-width="0.6"/><circle cx="351" cy="168.3" r="3" fill="#f5a22e" stroke="#e88a28" stroke-width="0.6"/><circle cx="267.5" cy="174.9" r="3" fill="#f5a22e" stroke="#e88a28" stroke-width="0.6"/><circle cx="299" cy="175.7" r="3" fill="#f5a22e" stroke="#e88a28" stroke-width="0.6"/><circle cx="331.6" cy="182.7" r="3" fill="#f5a22e" stroke="#e88a28" stroke-width="0.6"/><circle cx="356.5" cy="182" r="3" fill="#f5a22e" stroke="#e88a28" stroke-width="0.6"/><circle cx="377.4" cy="185.3" r="3" fill="#f5a22e" stroke="#e88a28" stroke-width="0.6"/><circle cx="254.4" cy="190.6" r="3" fill="#f5a22e" stroke="#e88a28" stroke-width="0.6"/><circle cx="289.7" cy="195.8" r="3" fill="#f5a22e" stroke="#e88a28" stroke-width="0.6"/><circle cx="267.5" cy="198.4" r="3" fill="#f5a22e" stroke="#e88a28" stroke-width="0.6"/><circle cx="360.4" cy="197.6" r="3" fill="#f5a22e" stroke="#e88a28" stroke-width="0.6"/><circle cx="304" cy="205" r="3" fill="#f5a22e" stroke="#e88a28" stroke-width="0.6"/><circle cx="329" cy="206.3" r="3" fill="#f5a22e" stroke="#e88a28" stroke-width="0.6"/><circle cx="382.7" cy="206.3" r="3" fill="#f5a22e" stroke="#e88a28" stroke-width="0.6"/><circle cx="281.9" cy="214" r="3" fill="#f5a22e" stroke="#e88a28" stroke-width="0.6"/><circle cx="355.2" cy="212.8" r="3" fill="#f5a22e" stroke="#e88a28" stroke-width="0.6"/><circle cx="374.8" cy="219.4" r="3" fill="#f5a22e" stroke="#e88a28" stroke-width="0.6"/><circle cx="304" cy="222" r="3" fill="#f5a22e" stroke="#e88a28" stroke-width="0.6"/><circle cx="334.2" cy="228.5" r="3" fill="#f5a22e" stroke="#e88a28" stroke-width="0.6"/><circle cx="355.2" cy="228.5" r="3" fill="#f5a22e" stroke="#e88a28" stroke-width="0.6"/><circle cx="293.7" cy="235" r="3" fill="#f5a22e" stroke="#e88a28" stroke-width="0.6"/><circle cx="310.7" cy="236.4" r="3" fill="#f5a22e" stroke="#e88a28" stroke-width="0.6"/><circle cx="331.6" cy="243" r="3" fill="#f5a22e" stroke="#e88a28" stroke-width="0.6"/><circle cx="356.5" cy="241.6" r="3" fill="#f5a22e" stroke="#e88a28" stroke-width="0.6"/><circle cx="296.3" cy="248" r="3" fill="#f5a22e" stroke="#e88a28" stroke-width="0.6"/><circle cx="255.7" cy="212.8" r="3" fill="#f5a22e" stroke="#e88a28" stroke-width="0.6"/><circle cx="302.5" cy="153.5" r="2.6" fill="#f0a036" stroke="#fff" stroke-width="1.2"/><path d="M251.9,203 L262.1,203 L262.1,211.2 L264.5,211.2 L257,219.5 L249.5,211.2 L251.9,211.2 Z" fill="url(#redB)" opacity="0.8"/><path d="M268.9,221 L279.1,221 L279.1,228.8 L281.5,228.8 L274,236.5 L266.5,228.8 L268.9,228.8 Z" fill="url(#redB)" opacity="0.8"/><path d="M304.3,207 L314.5,207 L314.5,217.8 L316.9,217.8 L309.4,228.5 L301.9,217.8 L304.3,217.8 Z" fill="url(#redB)" opacity="0.8"/><path d="M289.9,239 L300.1,239 L300.1,246.8 L302.5,246.8 L295,254.7 L287.5,246.8 L289.9,246.8 Z" fill="url(#redB)" opacity="0.8"/><path d="M318.7,235 L328.9,235 L328.9,244.8 L331.3,244.8 L323.8,254.7 L316.3,244.8 L318.7,244.8 Z" fill="url(#redB)" opacity="0.8"/><path d="M339.6,200 L349.8,200 L349.8,209.7 L352.2,209.7 L344.7,219.4 L337.2,209.7 L339.6,209.7 Z" fill="url(#redB)" opacity="0.8"/><path d="M357.9,209 L368.1,209 L368.1,217.5 L370.5,217.5 L363,226 L355.5,217.5 L357.9,217.5 Z" fill="url(#redB)" opacity="0.8"/><path d="M339.6,233 L349.8,233 L349.8,241.9 L352.2,241.9 L344.7,250.8 L337.2,241.9 L339.6,241.9 Z" fill="url(#redB)" opacity="0.8"/><g transform="translate(274,141) rotate(-16.3) scale(1,1)"><path d="M-10,-1 L-8,-3.5 L-8.5,-6 L-5,-6.5 L-3,-8.5 L-0.5,-6.5 L2,-9 L4,-6.5 L7.5,-7 L7.5,-3.5 L10.5,-1 L8.5,1.5 L9.5,4.5 L6,5 L5,8 L2,6.5 L-0.5,9 L-2.5,6 L-6,7 L-6,4 L-9.5,3 L-8,0.5 Z" fill="#28963c" stroke="#1d7e30" stroke-width="0.8" stroke-linejoin="round"/><path d="M-7,-2 C-5,-5 -1,-6 1,-4 C2,-1 0,1 -3,1.5 C-5,1 -7,0 -7,-2 Z" fill="#58c060" opacity="0.85"/><path d="M1,2 C3,1 6,2 6,4 C5,6 2,6 0,5 Z" fill="#0c5a20" opacity="0.7"/><circle cx="-4" cy="4" r="1.6" fill="#5ac262" opacity="0.6"/><path d="M-3,-8.5 L3.9,-15.2" stroke="#1a3484" stroke-width="4" fill="none" stroke-linecap="round"/><circle cx="0.5" cy="-12" r="0.9" fill="#a8c0f0"/><path d="M3.9,-15.2 C6.2,-16.8 7.2,-19.8 6,-22 C4.6,-24.2 0.5,-24 -2.2,-22.8" stroke="#a30f2a" stroke-width="3.3" fill="none" stroke-linecap="round" stroke-linejoin="round"/></g><g transform="translate(244,166.7) rotate(-49.8) scale(1,1)"><path d="M-10,-1 L-8,-3.5 L-8.5,-6 L-5,-6.5 L-3,-8.5 L-0.5,-6.5 L2,-9 L4,-6.5 L7.5,-7 L7.5,-3.5 L10.5,-1 L8.5,1.5 L9.5,4.5 L6,5 L5,8 L2,6.5 L-0.5,9 L-2.5,6 L-6,7 L-6,4 L-9.5,3 L-8,0.5 Z" fill="#28963c" stroke="#1d7e30" stroke-width="0.8" stroke-linejoin="round"/><path d="M-7,-2 C-5,-5 -1,-6 1,-4 C2,-1 0,1 -3,1.5 C-5,1 -7,0 -7,-2 Z" fill="#58c060" opacity="0.85"/><path d="M1,2 C3,1 6,2 6,4 C5,6 2,6 0,5 Z" fill="#0c5a20" opacity="0.7"/><circle cx="-4" cy="4" r="1.6" fill="#5ac262" opacity="0.6"/><path d="M-3,-8.5 L3.9,-15.2" stroke="#1a3484" stroke-width="4" fill="none" stroke-linecap="round"/><circle cx="0.5" cy="-12" r="0.9" fill="#a8c0f0"/><path d="M3.9,-15.2 C6.2,-16.8 7.2,-19.8 6,-22 C4.6,-24.2 0.5,-24 -2.2,-22.8" stroke="#a30f2a" stroke-width="3.3" fill="none" stroke-linecap="round" stroke-linejoin="round"/></g><g transform="translate(232,194.5) rotate(-63.3) scale(1,1)"><path d="M-10,-1 L-8,-3.5 L-8.5,-6 L-5,-6.5 L-3,-8.5 L-0.5,-6.5 L2,-9 L4,-6.5 L7.5,-7 L7.5,-3.5 L10.5,-1 L8.5,1.5 L9.5,4.5 L6,5 L5,8 L2,6.5 L-0.5,9 L-2.5,6 L-6,7 L-6,4 L-9.5,3 L-8,0.5 Z" fill="#28963c" stroke="#1d7e30" stroke-width="0.8" stroke-linejoin="round"/><path d="M-7,-2 C-5,-5 -1,-6 1,-4 C2,-1 0,1 -3,1.5 C-5,1 -7,0 -7,-2 Z" fill="#58c060" opacity="0.85"/><path d="M1,2 C3,1 6,2 6,4 C5,6 2,6 0,5 Z" fill="#0c5a20" opacity="0.7"/><circle cx="-4" cy="4" r="1.6" fill="#5ac262" opacity="0.6"/><path d="M-3,-8.5 L3.9,-15.2" stroke="#1a3484" stroke-width="4" fill="none" stroke-linecap="round"/><circle cx="0.5" cy="-12" r="0.9" fill="#a8c0f0"/><path d="M3.9,-15.2 C6.2,-16.8 7.2,-19.8 6,-22 C4.6,-24.2 0.5,-24 -2.2,-22.8" stroke="#a30f2a" stroke-width="3.3" fill="none" stroke-linecap="round" stroke-linejoin="round"/></g><g transform="translate(319,135.5) rotate(0.7) scale(1,1)"><path d="M-10,-1 L-8,-3.5 L-8.5,-6 L-5,-6.5 L-3,-8.5 L-0.5,-6.5 L2,-9 L4,-6.5 L7.5,-7 L7.5,-3.5 L10.5,-1 L8.5,1.5 L9.5,4.5 L6,5 L5,8 L2,6.5 L-0.5,9 L-2.5,6 L-6,7 L-6,4 L-9.5,3 L-8,0.5 Z" fill="#28963c" stroke="#1d7e30" stroke-width="0.8" stroke-linejoin="round"/><path d="M-7,-2 C-5,-5 -1,-6 1,-4 C2,-1 0,1 -3,1.5 C-5,1 -7,0 -7,-2 Z" fill="#58c060" opacity="0.85"/><path d="M1,2 C3,1 6,2 6,4 C5,6 2,6 0,5 Z" fill="#0c5a20" opacity="0.7"/><circle cx="-4" cy="4" r="1.6" fill="#5ac262" opacity="0.6"/><path d="M-3,-8.5 L3.9,-15.2" stroke="#1a3484" stroke-width="4" fill="none" stroke-linecap="round"/><circle cx="0.5" cy="-12" r="0.9" fill="#a8c0f0"/><path d="M3.9,-15.2 C6.2,-16.8 7.2,-19.8 6,-22 C4.6,-24.2 0.5,-24 -2.2,-22.8" stroke="#a30f2a" stroke-width="3.3" fill="none" stroke-linecap="round" stroke-linejoin="round"/></g><g transform="translate(355,140) rotate(40.7) scale(1,1)"><path d="M-10,-1 L-8,-3.5 L-8.5,-6 L-5,-6.5 L-3,-8.5 L-0.5,-6.5 L2,-9 L4,-6.5 L7.5,-7 L7.5,-3.5 L10.5,-1 L8.5,1.5 L9.5,4.5 L6,5 L5,8 L2,6.5 L-0.5,9 L-2.5,6 L-6,7 L-6,4 L-9.5,3 L-8,0.5 Z" fill="#28963c" stroke="#1d7e30" stroke-width="0.8" stroke-linejoin="round"/><path d="M-7,-2 C-5,-5 -1,-6 1,-4 C2,-1 0,1 -3,1.5 C-5,1 -7,0 -7,-2 Z" fill="#58c060" opacity="0.85"/><path d="M1,2 C3,1 6,2 6,4 C5,6 2,6 0,5 Z" fill="#0c5a20" opacity="0.7"/><circle cx="-4" cy="4" r="1.6" fill="#5ac262" opacity="0.6"/><path d="M-3,-8.5 L3.9,-15.2" stroke="#1a3484" stroke-width="4" fill="none" stroke-linecap="round"/><circle cx="0.5" cy="-12" r="0.9" fill="#a8c0f0"/><path d="M3.9,-15.2 C6.2,-16.8 7.2,-19.8 6,-22 C4.6,-24.2 0.5,-24 -2.2,-22.8" stroke="#a30f2a" stroke-width="3.3" fill="none" stroke-linecap="round" stroke-linejoin="round"/></g><g transform="translate(378.3,153.3) rotate(67.1) scale(1,1)"><path d="M-10,-1 L-8,-3.5 L-8.5,-6 L-5,-6.5 L-3,-8.5 L-0.5,-6.5 L2,-9 L4,-6.5 L7.5,-7 L7.5,-3.5 L10.5,-1 L8.5,1.5 L9.5,4.5 L6,5 L5,8 L2,6.5 L-0.5,9 L-2.5,6 L-6,7 L-6,4 L-9.5,3 L-8,0.5 Z" fill="#28963c" stroke="#1d7e30" stroke-width="0.8" stroke-linejoin="round"/><path d="M-7,-2 C-5,-5 -1,-6 1,-4 C2,-1 0,1 -3,1.5 C-5,1 -7,0 -7,-2 Z" fill="#58c060" opacity="0.85"/><path d="M1,2 C3,1 6,2 6,4 C5,6 2,6 0,5 Z" fill="#0c5a20" opacity="0.7"/><circle cx="-4" cy="4" r="1.6" fill="#5ac262" opacity="0.6"/><path d="M-3,-8.5 L3.9,-15.2" stroke="#1a3484" stroke-width="4" fill="none" stroke-linecap="round"/><circle cx="0.5" cy="-12" r="0.9" fill="#a8c0f0"/><path d="M3.9,-15.2 C6.2,-16.8 7.2,-19.8 6,-22 C4.6,-24.2 0.5,-24 -2.2,-22.8" stroke="#a30f2a" stroke-width="3.3" fill="none" stroke-linecap="round" stroke-linejoin="round"/></g><g transform="translate(403.3,188.3) rotate(88.1) scale(1,1)"><path d="M-10,-1 L-8,-3.5 L-8.5,-6 L-5,-6.5 L-3,-8.5 L-0.5,-6.5 L2,-9 L4,-6.5 L7.5,-7 L7.5,-3.5 L10.5,-1 L8.5,1.5 L9.5,4.5 L6,5 L5,8 L2,6.5 L-0.5,9 L-2.5,6 L-6,7 L-6,4 L-9.5,3 L-8,0.5 Z" fill="#28963c" stroke="#1d7e30" stroke-width="0.8" stroke-linejoin="round"/><path d="M-7,-2 C-5,-5 -1,-6 1,-4 C2,-1 0,1 -3,1.5 C-5,1 -7,0 -7,-2 Z" fill="#58c060" opacity="0.85"/><path d="M1,2 C3,1 6,2 6,4 C5,6 2,6 0,5 Z" fill="#0c5a20" opacity="0.7"/><circle cx="-4" cy="4" r="1.6" fill="#5ac262" opacity="0.6"/><path d="M-3,-8.5 L3.9,-15.2" stroke="#1a3484" stroke-width="4" fill="none" stroke-linecap="round"/><circle cx="0.5" cy="-12" r="0.9" fill="#a8c0f0"/><path d="M3.9,-15.2 C6.2,-16.8 7.2,-19.8 6,-22 C4.6,-24.2 0.5,-24 -2.2,-22.8" stroke="#a30f2a" stroke-width="3.3" fill="none" stroke-linecap="round" stroke-linejoin="round"/></g><g transform="translate(394,232.5) rotate(124.7) scale(1,1)"><path d="M-10,-1 L-8,-3.5 L-8.5,-6 L-5,-6.5 L-3,-8.5 L-0.5,-6.5 L2,-9 L4,-6.5 L7.5,-7 L7.5,-3.5 L10.5,-1 L8.5,1.5 L9.5,4.5 L6,5 L5,8 L2,6.5 L-0.5,9 L-2.5,6 L-6,7 L-6,4 L-9.5,3 L-8,0.5 Z" fill="#28963c" stroke="#1d7e30" stroke-width="0.8" stroke-linejoin="round"/><path d="M-7,-2 C-5,-5 -1,-6 1,-4 C2,-1 0,1 -3,1.5 C-5,1 -7,0 -7,-2 Z" fill="#58c060" opacity="0.85"/><path d="M1,2 C3,1 6,2 6,4 C5,6 2,6 0,5 Z" fill="#0c5a20" opacity="0.7"/><circle cx="-4" cy="4" r="1.6" fill="#5ac262" opacity="0.6"/><path d="M-3,-8.5 L3.9,-15.2" stroke="#1a3484" stroke-width="4" fill="none" stroke-linecap="round"/><circle cx="0.5" cy="-12" r="0.9" fill="#a8c0f0"/><path d="M3.9,-15.2 C6.2,-16.8 7.2,-19.8 6,-22 C4.6,-24.2 0.5,-24 -2.2,-22.8" stroke="#a30f2a" stroke-width="3.3" fill="none" stroke-linecap="round" stroke-linejoin="round"/></g><g transform="translate(244,234.5) rotate(230) scale(1,1)"><path d="M-10,-1 L-8,-3.5 L-8.5,-6 L-5,-6.5 L-3,-8.5 L-0.5,-6.5 L2,-9 L4,-6.5 L7.5,-7 L7.5,-3.5 L10.5,-1 L8.5,1.5 L9.5,4.5 L6,5 L5,8 L2,6.5 L-0.5,9 L-2.5,6 L-6,7 L-6,4 L-9.5,3 L-8,0.5 Z" fill="#28963c" stroke="#1d7e30" stroke-width="0.8" stroke-linejoin="round"/><path d="M-7,-2 C-5,-5 -1,-6 1,-4 C2,-1 0,1 -3,1.5 C-5,1 -7,0 -7,-2 Z" fill="#58c060" opacity="0.85"/><path d="M1,2 C3,1 6,2 6,4 C5,6 2,6 0,5 Z" fill="#0c5a20" opacity="0.7"/><circle cx="-4" cy="4" r="1.6" fill="#5ac262" opacity="0.6"/><path d="M-3,-8.5 L3.9,-15.2" stroke="#1a3484" stroke-width="4" fill="none" stroke-linecap="round"/><circle cx="0.5" cy="-12" r="0.9" fill="#a8c0f0"/><path d="M3.9,-15.2 C6.2,-16.8 7.2,-19.8 6,-22 C4.6,-24.2 0.5,-24 -2.2,-22.8" stroke="#a30f2a" stroke-width="3.3" fill="none" stroke-linecap="round" stroke-linejoin="round"/></g><g transform="translate(273.8,257) rotate(203.3) scale(1,1)"><path d="M-10,-1 L-8,-3.5 L-8.5,-6 L-5,-6.5 L-3,-8.5 L-0.5,-6.5 L2,-9 L4,-6.5 L7.5,-7 L7.5,-3.5 L10.5,-1 L8.5,1.5 L9.5,4.5 L6,5 L5,8 L2,6.5 L-0.5,9 L-2.5,6 L-6,7 L-6,4 L-9.5,3 L-8,0.5 Z" fill="#28963c" stroke="#1d7e30" stroke-width="0.8" stroke-linejoin="round"/><path d="M-7,-2 C-5,-5 -1,-6 1,-4 C2,-1 0,1 -3,1.5 C-5,1 -7,0 -7,-2 Z" fill="#58c060" opacity="0.85"/><path d="M1,2 C3,1 6,2 6,4 C5,6 2,6 0,5 Z" fill="#0c5a20" opacity="0.7"/><circle cx="-4" cy="4" r="1.6" fill="#5ac262" opacity="0.6"/><path d="M-3,-8.5 L3.9,-15.2" stroke="#1a3484" stroke-width="4" fill="none" stroke-linecap="round"/><circle cx="0.5" cy="-12" r="0.9" fill="#a8c0f0"/><path d="M3.9,-15.2 C6.2,-16.8 7.2,-19.8 6,-22 C4.6,-24.2 0.5,-24 -2.2,-22.8" stroke="#a30f2a" stroke-width="3.3" fill="none" stroke-linecap="round" stroke-linejoin="round"/></g><g transform="translate(317.9,266.7) rotate(173.8) scale(1,1)"><path d="M-10,-1 L-8,-3.5 L-8.5,-6 L-5,-6.5 L-3,-8.5 L-0.5,-6.5 L2,-9 L4,-6.5 L7.5,-7 L7.5,-3.5 L10.5,-1 L8.5,1.5 L9.5,4.5 L6,5 L5,8 L2,6.5 L-0.5,9 L-2.5,6 L-6,7 L-6,4 L-9.5,3 L-8,0.5 Z" fill="#28963c" stroke="#1d7e30" stroke-width="0.8" stroke-linejoin="round"/><path d="M-7,-2 C-5,-5 -1,-6 1,-4 C2,-1 0,1 -3,1.5 C-5,1 -7,0 -7,-2 Z" fill="#58c060" opacity="0.85"/><path d="M1,2 C3,1 6,2 6,4 C5,6 2,6 0,5 Z" fill="#0c5a20" opacity="0.7"/><circle cx="-4" cy="4" r="1.6" fill="#5ac262" opacity="0.6"/><path d="M-3,-8.5 L3.9,-15.2" stroke="#1a3484" stroke-width="4" fill="none" stroke-linecap="round"/><circle cx="0.5" cy="-12" r="0.9" fill="#a8c0f0"/><path d="M3.9,-15.2 C6.2,-16.8 7.2,-19.8 6,-22 C4.6,-24.2 0.5,-24 -2.2,-22.8" stroke="#a30f2a" stroke-width="3.3" fill="none" stroke-linecap="round" stroke-linejoin="round"/></g><g transform="translate(358.3,257) rotate(139.6) scale(1,1)"><path d="M-10,-1 L-8,-3.5 L-8.5,-6 L-5,-6.5 L-3,-8.5 L-0.5,-6.5 L2,-9 L4,-6.5 L7.5,-7 L7.5,-3.5 L10.5,-1 L8.5,1.5 L9.5,4.5 L6,5 L5,8 L2,6.5 L-0.5,9 L-2.5,6 L-6,7 L-6,4 L-9.5,3 L-8,0.5 Z" fill="#28963c" stroke="#1d7e30" stroke-width="0.8" stroke-linejoin="round"/><path d="M-7,-2 C-5,-5 -1,-6 1,-4 C2,-1 0,1 -3,1.5 C-5,1 -7,0 -7,-2 Z" fill="#58c060" opacity="0.85"/><path d="M1,2 C3,1 6,2 6,4 C5,6 2,6 0,5 Z" fill="#0c5a20" opacity="0.7"/><circle cx="-4" cy="4" r="1.6" fill="#5ac262" opacity="0.6"/><path d="M-3,-8.5 L3.9,-15.2" stroke="#1a3484" stroke-width="4" fill="none" stroke-linecap="round"/><circle cx="0.5" cy="-12" r="0.9" fill="#a8c0f0"/><path d="M3.9,-15.2 C6.2,-16.8 7.2,-19.8 6,-22 C4.6,-24.2 0.5,-24 -2.2,-22.8" stroke="#a30f2a" stroke-width="3.3" fill="none" stroke-linecap="round" stroke-linejoin="round"/></g><path d="M251.6,248.8 L262.4,248.8 L262.4,258.9 L265,258.9 L257,269 L249,258.9 L251.6,258.9 Z" fill="url(#redA)" opacity="0.9"/><path d="M274.4,263 L285.2,263 L285.2,273.8 L287.8,273.8 L279.8,284.5 L271.8,273.8 L274.4,273.8 Z" fill="url(#redA)" opacity="0.9"/><path d="M318.4,270 L329.2,270 L329.2,280.2 L331.8,280.2 L323.8,290.5 L315.8,280.2 L318.4,280.2 Z" fill="url(#redA)" opacity="0.9"/><path d="M366,252 L376.8,252 L376.8,262.9 L379.4,262.9 L371.4,273.8 L363.4,262.9 L366,262.9 Z" fill="url(#redA)" opacity="0.9"/><path d="M257.5,292 L270.5,292 L269,303.6 L271.5,303.6 L264,313 L256.5,303.6 L259,303.6 Z" fill="url(#orgA)" opacity="0.8"/><path d="M348.5,285.5 L361.5,285.5 L360,295.4 L362.5,295.4 L355,303.5 L347.5,295.4 L350,295.4 Z" fill="url(#orgA)" opacity="0.8"/><rect x="463" y="249.5" width="155.5" height="15" rx="2" fill="#62b646"/><rect x="463" y="239.8" width="155.5" height="10.5" rx="3.5" fill="#13301f"/><rect x="480.8" y="233" width="4.4" height="8" fill="#173a2a"/><rect x="472" y="230" width="22" height="5.8" rx="2.9" fill="#173a2a"/><rect x="519.8" y="233" width="4.4" height="8" fill="#173a2a"/><rect x="510.5" y="230" width="23" height="5.8" rx="2.9" fill="#173a2a"/><rect x="558.3" y="233" width="4.4" height="8" fill="#173a2a"/><rect x="549" y="230" width="23" height="5.8" rx="2.9" fill="#173a2a"/><rect x="596.8" y="233" width="4.4" height="8" fill="#173a2a"/><rect x="588" y="230" width="22" height="5.8" rx="2.9" fill="#173a2a"/><circle cx="503.5" cy="247" r="1.5" fill="#fff"/><circle cx="560" cy="233" r="1.5" fill="#fff"/><path d="M484,191.5 C500,175 523,167.5 545,167.5 C570,168 592,180 604.5,194.7 C590,202 570,206.5 545,206.2 C520,205.5 497,199 484,191.5 Z" fill="url(#lensG)" stroke="#3e4f88" stroke-width="1.4"/><path d="M490,194 C510,200 530,204 548,204 C570,204 588,199 600,195 C585,199 565,202 546,201 C525,200 505,197 490,194 Z" fill="#b0c2ee" opacity="0.6"/><g clip-path="url(#lensClip)" fill="none" stroke="#1a3580" stroke-width="2.2" stroke-linecap="round"><path d="M488.9,167.2 Q495.5,167.3 498.8,164.7"/><path d="M488.9,167.2 Q492.9,173.5 495.1,177.2"/><path d="M495.1,177.2 Q500.9,175.2 504.3,175.4"/><path d="M495.1,177.2 Q494,182.6 489.7,186.1"/><path d="M489.7,186.1 Q495.3,185.1 495.6,182.6"/><path d="M489.7,186.1 Q486.8,189.7 489.7,192.8"/><path d="M489.7,192.8 Q497.1,193.8 502.5,195.1"/><path d="M489.7,192.8 Q491.3,199.3 491.1,202.7"/><path d="M491.1,202.7 Q496.8,202.7 500.9,200.3"/><path d="M491.1,202.7 Q492.6,207.6 495.8,209.1"/><path d="M498.8,164.7 Q507.7,166.7 510.8,164.1"/><path d="M498.8,164.7 Q501.7,168.4 504.3,175.4"/><path d="M504.3,175.4 Q510.5,176 511.5,176.9"/><path d="M504.3,175.4 Q501.3,180.1 495.6,182.6"/><path d="M495.6,182.6 Q503.5,183 508,182.6"/><path d="M495.6,182.6 Q498.5,189.5 502.5,195.1"/><path d="M502.5,195.1 Q511.2,196.1 518.4,194.9"/><path d="M502.5,195.1 Q499.6,197.4 500.9,200.3"/><path d="M500.9,200.3 Q503,203.2 508.5,204.3"/><path d="M500.9,200.3 Q500.7,204.6 506.1,209.2"/><path d="M506.1,209.2 Q508,208.7 515.3,211.9"/><path d="M510.8,164.1 Q513,164.6 518.9,168.2"/><path d="M510.8,164.1 Q511,169.9 511.5,176.9"/><path d="M511.5,176.9 Q520,175.8 527.3,177.3"/><path d="M508,182.6 Q515.3,181.7 523.8,183"/><path d="M508,182.6 Q510.9,190.4 518.4,194.9"/><path d="M518.4,194.9 Q518.9,193.7 525,191.3"/><path d="M518.4,194.9 Q513.7,198.8 508.5,204.3"/><path d="M508.5,204.3 Q516.3,203.7 518.5,199.8"/><path d="M508.5,204.3 Q513.8,208.8 515.3,211.9"/><path d="M515.3,211.9 Q517.8,212.2 524.6,211.5"/><path d="M518.9,168.2 Q526.5,169.9 528.5,166.9"/><path d="M518.9,168.2 Q522.2,174.7 527.3,177.3"/><path d="M527.3,177.3 Q529.2,176 535.9,174"/><path d="M527.3,177.3 Q523.4,180.8 523.8,183"/><path d="M523.8,183 Q524,185.8 525,191.3"/><path d="M525,191.3 Q533.2,191.5 535.7,192.9"/><path d="M518.5,199.8 Q520.1,208.1 524.6,211.5"/><path d="M524.6,211.5 Q532,209.2 540.3,208.6"/><path d="M528.5,166.9 Q530.9,170.4 535.9,174"/><path d="M535.9,174 Q541,175 544.6,176.4"/><path d="M535.9,174 Q536.7,180.6 534.2,183.9"/><path d="M534.2,183.9 Q538.3,183 542.1,184.4"/><path d="M535.7,192.9 Q538.6,190.7 544.6,190.7"/><path d="M535.7,192.9 Q537.5,195.3 533.4,199.8"/><path d="M533.4,199.8 Q536.9,202.8 540.8,204.3"/><path d="M533.4,199.8 Q538.3,202.3 540.3,208.6"/><path d="M540.3,208.6 Q541.9,210.6 545.9,212.3"/><path d="M544.7,167.7 Q549.7,168.1 557,168.2"/><path d="M544.7,167.7 Q543.9,173.3 544.6,176.4"/><path d="M544.6,176.4 Q548.5,174.1 557.9,174.3"/><path d="M544.6,176.4 Q545.8,182.4 542.1,184.4"/><path d="M542.1,184.4 Q545.2,186.3 554.2,185.4"/><path d="M542.1,184.4 Q543.8,188.6 544.6,190.7"/><path d="M544.6,190.7 Q550.3,194.5 556.3,194.2"/><path d="M544.6,190.7 Q542,199.3 540.8,204.3"/><path d="M540.8,204.3 Q547.2,205.7 556.1,203.8"/><path d="M540.8,204.3 Q545.3,209.3 545.9,212.3"/><path d="M545.9,212.3 Q549.5,214.2 555.8,213.2"/><path d="M557,168.2 Q557.3,171.5 557.9,174.3"/><path d="M557.9,174.3 Q563.3,173.9 570.8,177.1"/><path d="M557.9,174.3 Q557.9,177.7 554.2,185.4"/><path d="M554.2,185.4 Q560.9,187.2 563.9,186.1"/><path d="M554.2,185.4 Q552.4,190.9 556.3,194.2"/><path d="M556.1,203.8 Q557.2,203.8 563.7,200.4"/><path d="M556.1,203.8 Q556.8,210.8 555.8,213.2"/><path d="M555.8,213.2 Q559.2,210.2 567,209.2"/><path d="M562.1,165.2 Q567.1,170.7 570.8,177.1"/><path d="M570.8,177.1 Q575.4,172.6 578.6,172.7"/><path d="M570.8,177.1 Q566.6,179.5 563.9,186.1"/><path d="M563.9,186.1 Q572.1,186.4 579.4,184.2"/><path d="M570.3,192.1 Q574.9,190.9 580.3,191.7"/><path d="M570.3,192.1 Q567,198.4 563.7,200.4"/><path d="M563.7,200.4 Q567.5,203 576.7,203.6"/><path d="M563.7,200.4 Q566.2,204.8 567,209.2"/><path d="M577.3,168.5 Q581.3,167.1 583.9,168.1"/><path d="M577.3,168.5 Q576.5,171.9 578.6,172.7"/><path d="M578.6,172.7 Q581.5,172.5 588.7,175"/><path d="M578.6,172.7 Q580.4,176.9 579.4,184.2"/><path d="M579.4,184.2 Q585.3,181.1 589.4,182.2"/><path d="M579.4,184.2 Q577.4,186.1 580.3,191.7"/><path d="M580.3,191.7 Q585.4,195.4 593.6,195.2"/><path d="M580.3,191.7 Q577.4,199.1 576.7,203.6"/><path d="M576.7,203.6 Q583.6,201.3 587.9,203.4"/><path d="M576.7,203.6 Q581.4,208 580.7,210.6"/><path d="M580.7,210.6 Q582.7,213 589.2,210.7"/><path d="M583.9,168.1 Q591.6,166.1 595.5,167.7"/><path d="M583.9,168.1 Q585.4,170.2 588.7,175"/><path d="M588.7,175 Q595.8,174.1 601.6,174.8"/><path d="M588.7,175 Q586.9,180.2 589.4,182.2"/><path d="M589.4,182.2 Q597.3,183.6 601.5,185.8"/><path d="M593.6,195.2 Q600.5,194.4 606.3,192.8"/><path d="M593.6,195.2 Q590.1,197.3 587.9,203.4"/><path d="M587.9,203.4 Q591.1,201 597.9,203.1"/><path d="M589.2,210.7 Q597.6,207.8 602.9,210"/><path d="M595.5,167.7 Q604.3,166.6 608.3,164.2"/><path d="M595.5,167.7 Q598.3,169.2 601.6,174.8"/><path d="M601.6,174.8 Q605.3,175.5 613.1,177.4"/><path d="M601.6,174.8 Q603.8,178.5 601.5,185.8"/><path d="M601.5,185.8 Q605.5,183.5 612.2,184.6"/><path d="M601.5,185.8 Q602.3,189.2 606.3,192.8"/><path d="M606.3,192.8 Q612.7,191.8 614,192.2"/><path d="M597.9,203.1 Q603.1,201.9 606.1,200.9"/><path d="M602.9,210 Q610.4,210.4 616,212.8"/><path d="M608.3,164.2 Q612.1,169.2 613.1,177.4"/><path d="M613.1,177.4 Q609.8,179.7 612.2,184.6"/><path d="M612.2,184.6 Q612.5,190.8 614,192.2"/><path d="M614,192.2 Q608.9,196.4 606.1,200.9"/><path d="M606.1,200.9 Q612.4,207.9 616,212.8"/></g><path d="M484,191.5 C500,175 523,167.5 545,167.5 C570,168 592,180 604.5,194.7 C590,202 570,206.5 545,206.2 C520,205.5 497,199 484,191.5 Z" fill="none" stroke="#2e3f78" stroke-width="1.3"/><circle cx="500.3" cy="184.9" r="3.4" fill="#f5a22e" stroke="#e88a28" stroke-width="0.6"/><circle cx="531.7" cy="181" r="3.4" fill="#f5a22e" stroke="#e88a28" stroke-width="0.6"/><circle cx="520" cy="190.8" r="3.4" fill="#f5a22e" stroke="#e88a28" stroke-width="0.6"/><circle cx="537" cy="191.4" r="3.4" fill="#f5a22e" stroke="#e88a28" stroke-width="0.6"/><circle cx="523.8" cy="200" r="3.4" fill="#f5a22e" stroke="#e88a28" stroke-width="0.6"/><circle cx="559.6" cy="186.2" r="3.4" fill="#f5a22e" stroke="#e88a28" stroke-width="0.6"/><circle cx="581.2" cy="185.5" r="3.4" fill="#f5a22e" stroke="#e88a28" stroke-width="0.6"/><circle cx="558.3" cy="196.6" r="3.4" fill="#f5a22e" stroke="#e88a28" stroke-width="0.6"/><circle cx="582.5" cy="196" r="3.4" fill="#f5a22e" stroke="#e88a28" stroke-width="0.6"/><g transform="translate(500.8,211.4) rotate(217.4) scale(0.9,0.9)"><path d="M-10,-1 L-8,-3.5 L-8.5,-6 L-5,-6.5 L-3,-8.5 L-0.5,-6.5 L2,-9 L4,-6.5 L7.5,-7 L7.5,-3.5 L10.5,-1 L8.5,1.5 L9.5,4.5 L6,5 L5,8 L2,6.5 L-0.5,9 L-2.5,6 L-6,7 L-6,4 L-9.5,3 L-8,0.5 Z" fill="#28963c" stroke="#1d7e30" stroke-width="0.8" stroke-linejoin="round"/><path d="M-7,-2 C-5,-5 -1,-6 1,-4 C2,-1 0,1 -3,1.5 C-5,1 -7,0 -7,-2 Z" fill="#58c060" opacity="0.85"/><path d="M1,2 C3,1 6,2 6,4 C5,6 2,6 0,5 Z" fill="#0c5a20" opacity="0.7"/><circle cx="-4" cy="4" r="1.6" fill="#5ac262" opacity="0.6"/><path d="M-3,-8.5 L3.9,-15.2" stroke="#1a3484" stroke-width="4" fill="none" stroke-linecap="round"/><circle cx="0.5" cy="-12" r="0.9" fill="#a8c0f0"/><path d="M3.9,-15.2 L2,-22.5 L-5,-20.5" stroke="#a30f2a" stroke-width="3.6" fill="none" stroke-linecap="round" stroke-linejoin="round"/></g><g transform="translate(544,211.5) rotate(183.7) scale(0.9,0.9)"><path d="M-10,-1 L-8,-3.5 L-8.5,-6 L-5,-6.5 L-3,-8.5 L-0.5,-6.5 L2,-9 L4,-6.5 L7.5,-7 L7.5,-3.5 L10.5,-1 L8.5,1.5 L9.5,4.5 L6,5 L5,8 L2,6.5 L-0.5,9 L-2.5,6 L-6,7 L-6,4 L-9.5,3 L-8,0.5 Z" fill="#28963c" stroke="#1d7e30" stroke-width="0.8" stroke-linejoin="round"/><path d="M-7,-2 C-5,-5 -1,-6 1,-4 C2,-1 0,1 -3,1.5 C-5,1 -7,0 -7,-2 Z" fill="#58c060" opacity="0.85"/><path d="M1,2 C3,1 6,2 6,4 C5,6 2,6 0,5 Z" fill="#0c5a20" opacity="0.7"/><circle cx="-4" cy="4" r="1.6" fill="#5ac262" opacity="0.6"/><path d="M-3,-8.5 L3.9,-15.2" stroke="#1a3484" stroke-width="4" fill="none" stroke-linecap="round"/><circle cx="0.5" cy="-12" r="0.9" fill="#a8c0f0"/><path d="M3.9,-15.2 L2,-22.5 L-5,-20.5" stroke="#a30f2a" stroke-width="3.6" fill="none" stroke-linecap="round" stroke-linejoin="round"/></g><g transform="translate(586.6,210.2) rotate(139.8) scale(0.9,0.9)"><path d="M-10,-1 L-8,-3.5 L-8.5,-6 L-5,-6.5 L-3,-8.5 L-0.5,-6.5 L2,-9 L4,-6.5 L7.5,-7 L7.5,-3.5 L10.5,-1 L8.5,1.5 L9.5,4.5 L6,5 L5,8 L2,6.5 L-0.5,9 L-2.5,6 L-6,7 L-6,4 L-9.5,3 L-8,0.5 Z" fill="#28963c" stroke="#1d7e30" stroke-width="0.8" stroke-linejoin="round"/><path d="M-7,-2 C-5,-5 -1,-6 1,-4 C2,-1 0,1 -3,1.5 C-5,1 -7,0 -7,-2 Z" fill="#58c060" opacity="0.85"/><path d="M1,2 C3,1 6,2 6,4 C5,6 2,6 0,5 Z" fill="#0c5a20" opacity="0.7"/><circle cx="-4" cy="4" r="1.6" fill="#5ac262" opacity="0.6"/><path d="M-3,-8.5 L3.9,-15.2" stroke="#1a3484" stroke-width="4" fill="none" stroke-linecap="round"/><circle cx="0.5" cy="-12" r="0.9" fill="#a8c0f0"/><path d="M3.9,-15.2 L2,-22.5 L-5,-20.5" stroke="#a30f2a" stroke-width="3.6" fill="none" stroke-linecap="round" stroke-linejoin="round"/></g><g stroke="#7d7d7d" stroke-width="1.7"><line x1="258.5" y1="90" x2="258.5" y2="164"/><line x1="302.5" y1="112" x2="302.5" y2="151"/><line x1="207" y1="304" x2="207" y2="327"/><line x1="496.8" y1="142" x2="496.8" y2="216"/><line x1="485.7" y1="169" x2="485.7" y2="223"/><line x1="503.5" y1="169" x2="503.5" y2="206"/><line x1="503" y1="247" x2="503" y2="269.5"/><line x1="561" y1="233" x2="561" y2="289.5"/></g><circle cx="485.7" cy="223.5" r="1.6" fill="#fff" stroke="#888" stroke-width="0.6"/><circle cx="496.8" cy="216.5" r="1.3" fill="#fff"/><circle cx="503.5" cy="206.5" r="1.3" fill="#fff"/></svg><div class="l" style="left:0.7px;top:114.8px;font-size:13.8px;transform:scaleX(0.94)">Mikrogele auf Blattoberfläche</div><div class="l" style="left:199.3px;top:73.3px;font-size:13.8px;transform:scaleX(0.94)">Mikrogel Container</div><div class="l" style="left:268.1px;top:94.5px;font-size:13.8px;transform:scaleX(0.946)">Verkapselter Nährstoff</div><div class="l" style="left:160px;top:331.3px;font-size:13.8px;transform:scaleX(0.937)">Blattepidermis</div><div class="l" style="left:460.1px;top:273.7px;font-size:13.8px;transform:scaleX(0.944)">Blattoberhaut</div><div class="l" style="left:517.5px;top:292.9px;font-size:13.8px;transform:scaleX(0.945)">„Wachsinsel“</div><div class="l" style="left:477.7px;top:129.2px;font-size:10.5px;transform:scaleX(1.036)">Spacer</div><div class="l" style="left:455.2px;top:142.3px;font-size:10.5px;transform:scaleX(0.986)">Anker-</div><div class="l" style="left:454.7px;top:155.4px;font-size:10.5px;transform:scaleX(1.047)">Peptid</div><div class="l" style="left:500.3px;top:155.4px;font-size:10.5px;transform:scaleX(1.024)">eGFP</div></div></body></html>
